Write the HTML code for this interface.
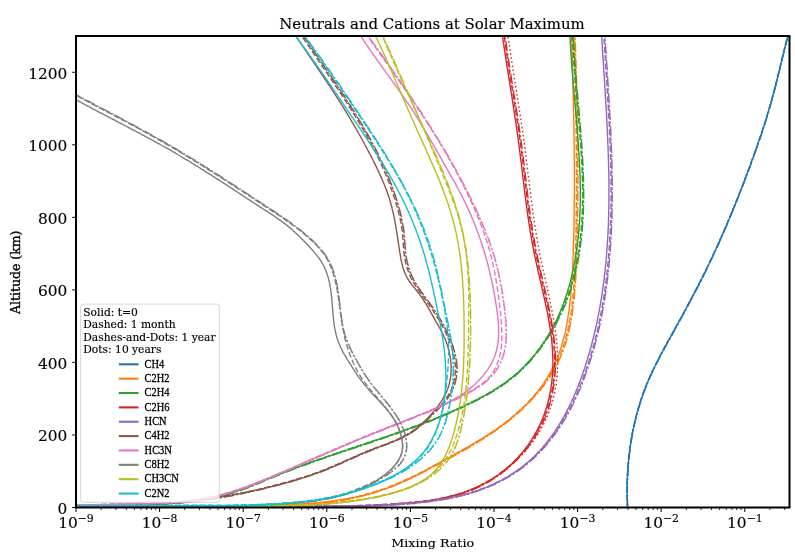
<!DOCTYPE html><html><head><meta charset="utf-8"><style>html,body{margin:0;padding:0;background:#fff;width:795px;height:552px;overflow:hidden}svg{display:block}text{font-family:"DejaVu Serif","Liberation Serif",serif;fill:#000;stroke:#000;stroke-width:0.15px}</style></head><body>
<svg width="795" height="552" viewBox="0 0 795 552">
<rect x="0" y="0" width="795" height="552" fill="#fff"/>
<defs><clipPath id="ax"><rect x="76.0" y="36.0" width="713.5" height="471.5"/></clipPath></defs>
<g clip-path="url(#ax)" fill="none" stroke-linejoin="round">
<path d="M627.6,509.0 627.5,507.0 627.4,505.0 627.3,503.0 627.3,501.0 627.2,499.0 627.2,497.0 627.2,494.9 627.1,492.9 627.1,490.9 627.1,488.9 627.2,486.9 627.2,484.9 627.2,482.9 627.3,480.9 627.4,478.9 627.5,476.8 627.5,474.8 627.7,472.8 627.8,470.8 627.9,468.8 628.0,466.8 628.2,464.8 628.4,462.8 628.6,460.8 628.8,458.7 629.0,456.7 629.2,454.7 629.4,452.7 629.7,450.7 629.9,448.7 630.2,446.7 630.5,444.8 630.8,442.8 631.1,440.8 631.4,438.8 631.8,436.8 632.2,434.8 632.5,432.9 632.9,430.9 633.3,428.9 633.7,426.9 634.2,425.0 634.6,423.0 635.1,421.1 635.5,419.1 636.0,417.2 636.5,415.2 637.0,413.3 637.6,411.3 638.1,409.4 638.7,407.5 639.3,405.6 639.8,403.6 640.5,401.7 641.1,399.8 641.7,397.9 642.4,396.0 643.0,394.1 643.7,392.2 644.4,390.4 645.1,388.5 645.9,386.6 646.6,384.8 647.4,382.9 648.1,381.1 648.9,379.2 649.7,377.4 650.6,375.6 651.4,373.7 652.2,371.9 653.1,370.1 654.0,368.3 654.9,366.5 655.7,364.7 656.6,362.9 657.6,361.1 658.5,359.3 659.4,357.5 660.3,355.7 661.3,353.9 662.2,352.2 663.2,350.4 664.1,348.6 665.1,346.8 666.1,345.1 667.0,343.3 668.0,341.5 669.0,339.8 670.0,338.0 670.9,336.3 671.9,334.5 672.9,332.7 673.9,331.0 674.8,329.2 675.8,327.4 676.8,325.7 677.8,323.9 678.7,322.2 679.7,320.4 680.7,318.6 681.6,316.9 682.6,315.1 683.6,313.3 684.5,311.6 685.5,309.8 686.4,308.0 687.4,306.3 688.3,304.5 689.3,302.7 690.2,300.9 691.2,299.2 692.1,297.4 693.0,295.6 694.0,293.8 694.9,292.1 695.8,290.3 696.8,288.5 697.7,286.7 698.6,284.9 699.5,283.1 700.4,281.4 701.3,279.6 702.2,277.8 703.1,276.0 704.0,274.2 704.9,272.4 705.8,270.6 706.7,268.8 707.6,267.0 708.4,265.2 709.3,263.3 710.2,261.5 711.0,259.7 711.9,257.9 712.7,256.1 713.6,254.3 714.4,252.4 715.3,250.6 716.1,248.8 716.9,247.0 717.8,245.1 718.6,243.3 719.4,241.5 720.2,239.6 721.1,237.8 721.9,235.9 722.7,234.1 723.5,232.3 724.3,230.4 725.1,228.6 725.9,226.7 726.7,224.9 727.5,223.0 728.2,221.2 729.0,219.3 729.8,217.4 730.6,215.6 731.4,213.7 732.1,211.9 732.9,210.0 733.6,208.1 734.4,206.3 735.2,204.4 735.9,202.5 736.7,200.7 737.4,198.8 738.2,196.9 738.9,195.1 739.6,193.2 740.4,191.3 741.1,189.4 741.8,187.6 742.6,185.7 743.3,183.8 744.0,181.9 744.7,180.1 745.4,178.2 746.1,176.3 746.8,174.4 747.6,172.5 748.3,170.6 749.0,168.8 749.7,166.9 750.4,165.0 751.1,163.1 751.7,161.2 752.4,159.3 753.1,157.4 753.8,155.6 754.5,153.7 755.2,151.8 755.8,149.9 756.5,148.0 757.2,146.1 757.9,144.2 758.5,142.3 759.2,140.4 759.8,138.5 760.5,136.6 761.1,134.7 761.8,132.8 762.4,130.9 763.0,129.0 763.6,127.1 764.3,125.2 764.9,123.3 765.5,121.4 766.1,119.4 766.6,117.5 767.2,115.6 767.8,113.7 768.4,111.8 768.9,109.8 769.5,107.9 770.0,106.0 770.6,104.0 771.1,102.1 771.7,100.2 772.2,98.2 772.7,96.3 773.2,94.3 773.8,92.4 774.3,90.5 774.8,88.5 775.3,86.6 775.8,84.6 776.3,82.7 776.8,80.7 777.3,78.8 777.7,76.8 778.2,74.8 778.7,72.9 779.2,70.9 779.7,69.0 780.1,67.0 780.6,65.1 781.1,63.1 781.6,61.1 782.0,59.2 782.5,57.2 783.0,55.3 783.5,53.3 784.0,51.4 784.4,49.4 784.9,47.5 785.4,45.5 785.9,43.6 786.4,41.6 786.9,39.7 787.4,37.7 787.9,35.8 788.4,33.8 788.9,31.9 789.4,29.9 789.9,28.0" stroke="#1f77b4" stroke-width="1.40"/>
<path d="M627.4,509.0 627.3,507.0 627.2,505.0 627.1,503.0 627.1,501.0 627.0,499.0 627.0,497.0 626.9,494.9 626.9,492.9 626.9,490.9 626.9,488.9 627.0,486.9 627.0,484.9 627.0,482.9 627.1,480.9 627.2,478.8 627.2,476.8 627.3,474.8 627.4,472.8 627.6,470.8 627.7,468.8 627.8,466.8 628.0,464.8 628.2,462.7 628.3,460.7 628.5,458.7 628.8,456.7 629.0,454.7 629.2,452.7 629.5,450.7 629.7,448.7 630.0,446.7 630.3,444.7 630.6,442.7 630.9,440.7 631.2,438.8 631.6,436.8 631.9,434.8 632.3,432.8 632.7,430.8 633.1,428.9 633.5,426.9 634.0,424.9 634.4,423.0 634.9,421.0 635.3,419.1 635.8,417.1 636.3,415.2 636.8,413.2 637.4,411.3 637.9,409.3 638.5,407.4 639.1,405.5 639.6,403.6 640.3,401.7 640.9,399.8 641.5,397.9 642.2,396.0 642.8,394.1 643.5,392.2 644.2,390.3 644.9,388.4 645.7,386.6 646.4,384.7 647.2,382.8 648.0,381.0 648.7,379.1 649.6,377.3 650.4,375.5 651.2,373.6 652.1,371.8 652.9,370.0 653.8,368.2 654.7,366.4 655.6,364.6 656.5,362.8 657.4,361.0 658.3,359.2 659.2,357.4 660.1,355.6 661.1,353.8 662.0,352.1 663.0,350.3 663.9,348.5 664.9,346.7 665.9,345.0 666.8,343.2 667.8,341.4 668.8,339.7 669.8,337.9 670.7,336.2 671.7,334.4 672.7,332.6 673.7,330.9 674.7,329.1 675.6,327.3 676.6,325.6 677.6,323.8 678.6,322.1 679.5,320.3 680.5,318.5 681.5,316.8 682.4,315.0 683.4,313.2 684.3,311.5 685.3,309.7 686.2,307.9 687.2,306.2 688.1,304.4 689.1,302.6 690.0,300.8 691.0,299.1 691.9,297.3 692.9,295.5 693.8,293.7 694.7,292.0 695.6,290.2 696.6,288.4 697.5,286.6 698.4,284.8 699.3,283.1 700.2,281.3 701.1,279.5 702.0,277.7 702.9,275.9 703.8,274.1 704.7,272.3 705.6,270.5 706.5,268.7 707.4,266.9 708.2,265.1 709.1,263.3 710.0,261.4 710.8,259.6 711.7,257.8 712.5,256.0 713.4,254.2 714.2,252.3 715.1,250.5 715.9,248.7 716.8,246.9 717.6,245.0 718.4,243.2 719.2,241.4 720.1,239.5 720.9,237.7 721.7,235.9 722.5,234.0 723.3,232.2 724.1,230.3 724.9,228.5 725.7,226.6 726.5,224.8 727.3,222.9 728.1,221.1 728.8,219.2 729.6,217.4 730.4,215.5 731.2,213.7 731.9,211.8 732.7,209.9 733.5,208.1 734.2,206.2 735.0,204.3 735.7,202.5 736.5,200.6 737.2,198.7 738.0,196.9 738.7,195.0 739.4,193.1 740.2,191.2 740.9,189.4 741.6,187.5 742.4,185.6 743.1,183.7 743.8,181.9 744.5,180.0 745.2,178.1 745.9,176.2 746.7,174.3 747.4,172.5 748.1,170.6 748.8,168.7 749.5,166.8 750.2,164.9 750.9,163.0 751.5,161.1 752.2,159.3 752.9,157.4 753.6,155.5 754.3,153.6 755.0,151.7 755.6,149.8 756.3,147.9 757.0,146.0 757.7,144.1 758.3,142.2 759.0,140.3 759.6,138.4 760.3,136.6 760.9,134.7 761.6,132.7 762.2,130.8 762.8,128.9 763.4,127.0 764.1,125.1 764.7,123.2 765.3,121.3 765.9,119.4 766.4,117.5 767.0,115.5 767.6,113.6 768.2,111.7 768.7,109.8 769.3,107.8 769.8,105.9 770.4,104.0 770.9,102.0 771.5,100.1 772.0,98.2 772.5,96.2 773.0,94.3 773.6,92.3 774.1,90.4 774.6,88.5 775.1,86.5 775.6,84.6 776.1,82.6 776.6,80.7 777.0,78.7 777.5,76.7 778.0,74.8 778.5,72.8 779.0,70.9 779.5,68.9 779.9,67.0 780.4,65.0 780.9,63.1 781.4,61.1 781.8,59.1 782.3,57.2 782.8,55.2 783.3,53.3 783.7,51.3 784.2,49.4 784.7,47.4 785.2,45.5 785.7,43.5 786.2,41.6 786.7,39.6 787.2,37.7 787.7,35.7 788.2,33.8 788.7,31.8 789.2,29.9 789.7,27.9" stroke="#1f77b4" stroke-width="1.40" stroke-dasharray="5.76,2.49"/>
<path d="M627.8,509.0 627.7,507.0 627.6,505.0 627.6,503.0 627.5,501.0 627.4,499.0 627.4,497.0 627.4,494.9 627.4,492.9 627.3,490.9 627.4,488.9 627.4,486.9 627.4,484.9 627.5,482.9 627.5,480.9 627.6,478.9 627.7,476.8 627.8,474.8 627.9,472.8 628.0,470.8 628.1,468.8 628.3,466.8 628.4,464.8 628.6,462.8 628.8,460.8 629.0,458.8 629.2,456.8 629.4,454.8 629.6,452.8 629.9,450.8 630.1,448.8 630.4,446.8 630.7,444.8 631.0,442.8 631.3,440.8 631.7,438.8 632.0,436.8 632.4,434.9 632.7,432.9 633.1,430.9 633.5,428.9 633.9,427.0 634.4,425.0 634.8,423.1 635.3,421.1 635.7,419.2 636.2,417.2 636.7,415.3 637.2,413.3 637.8,411.4 638.3,409.5 638.9,407.5 639.5,405.6 640.0,403.7 640.7,401.8 641.3,399.9 641.9,398.0 642.6,396.1 643.2,394.2 643.9,392.3 644.6,390.4 645.3,388.6 646.1,386.7 646.8,384.8 647.6,383.0 648.3,381.2 649.1,379.3 649.9,377.5 650.8,375.6 651.6,373.8 652.4,372.0 653.3,370.2 654.2,368.4 655.0,366.6 655.9,364.8 656.8,363.0 657.7,361.2 658.7,359.4 659.6,357.6 660.5,355.8 661.5,354.0 662.4,352.3 663.4,350.5 664.3,348.7 665.3,346.9 666.2,345.2 667.2,343.4 668.2,341.6 669.2,339.9 670.1,338.1 671.1,336.4 672.1,334.6 673.1,332.8 674.0,331.1 675.0,329.3 676.0,327.5 677.0,325.8 677.9,324.0 678.9,322.3 679.9,320.5 680.9,318.7 681.8,317.0 682.8,315.2 683.7,313.4 684.7,311.7 685.7,309.9 686.6,308.1 687.6,306.4 688.5,304.6 689.5,302.8 690.4,301.0 691.4,299.3 692.3,297.5 693.2,295.7 694.2,293.9 695.1,292.2 696.0,290.4 696.9,288.6 697.9,286.8 698.8,285.0 699.7,283.2 700.6,281.5 701.5,279.7 702.4,277.9 703.3,276.1 704.2,274.3 705.1,272.5 706.0,270.7 706.9,268.9 707.7,267.1 708.6,265.2 709.5,263.4 710.3,261.6 711.2,259.8 712.1,258.0 712.9,256.2 713.8,254.3 714.6,252.5 715.5,250.7 716.3,248.9 717.1,247.0 718.0,245.2 718.8,243.4 719.6,241.5 720.4,239.7 721.3,237.9 722.1,236.0 722.9,234.2 723.7,232.3 724.5,230.5 725.3,228.6 726.1,226.8 726.9,224.9 727.7,223.1 728.4,221.2 729.2,219.4 730.0,217.5 730.8,215.7 731.5,213.8 732.3,212.0 733.1,210.1 733.8,208.2 734.6,206.4 735.4,204.5 736.1,202.6 736.9,200.8 737.6,198.9 738.3,197.0 739.1,195.1 739.8,193.3 740.6,191.4 741.3,189.5 742.0,187.6 742.7,185.8 743.5,183.9 744.2,182.0 744.9,180.1 745.6,178.3 746.3,176.4 747.0,174.5 747.8,172.6 748.5,170.7 749.2,168.8 749.9,167.0 750.6,165.1 751.2,163.2 751.9,161.3 752.6,159.4 753.3,157.5 754.0,155.6 754.7,153.7 755.4,151.8 756.0,150.0 756.7,148.1 757.4,146.2 758.0,144.3 758.7,142.4 759.4,140.5 760.0,138.6 760.7,136.7 761.3,134.8 762.0,132.9 762.6,131.0 763.2,129.1 763.8,127.2 764.5,125.3 765.1,123.3 765.7,121.4 766.3,119.5 766.8,117.6 767.4,115.7 768.0,113.7 768.6,111.8 769.1,109.9 769.7,108.0 770.2,106.0 770.8,104.1 771.3,102.2 771.9,100.2 772.4,98.3 772.9,96.3 773.4,94.4 774.0,92.5 774.5,90.5 775.0,88.6 775.5,86.6 776.0,84.7 776.5,82.7 777.0,80.8 777.5,78.8 777.9,76.8 778.4,74.9 778.9,72.9 779.4,71.0 779.9,69.0 780.3,67.1 780.8,65.1 781.3,63.2 781.8,61.2 782.2,59.2 782.7,57.3 783.2,55.3 783.7,53.4 784.2,51.4 784.6,49.5 785.1,47.5 785.6,45.6 786.1,43.6 786.6,41.7 787.1,39.7 787.6,37.8 788.1,35.8 788.6,33.9 789.1,31.9 789.6,30.0 790.1,28.0" stroke="#1f77b4" stroke-width="1.40" stroke-dasharray="9.96,2.49,1.56,2.49"/>
<path d="M627.6,509.0 627.5,507.0 627.4,505.0 627.3,503.0 627.3,501.0 627.2,499.0 627.2,497.0 627.2,494.9 627.1,492.9 627.1,490.9 627.1,488.9 627.2,486.9 627.2,484.9 627.2,482.9 627.3,480.9 627.4,478.9 627.5,476.8 627.5,474.8 627.7,472.8 627.8,470.8 627.9,468.8 628.0,466.8 628.2,464.8 628.4,462.8 628.6,460.8 628.8,458.7 629.0,456.7 629.2,454.7 629.4,452.7 629.7,450.7 629.9,448.7 630.2,446.7 630.5,444.8 630.8,442.8 631.1,440.8 631.4,438.8 631.8,436.8 632.2,434.8 632.5,432.9 632.9,430.9 633.3,428.9 633.7,426.9 634.2,425.0 634.6,423.0 635.1,421.1 635.5,419.1 636.0,417.2 636.5,415.2 637.0,413.3 637.6,411.3 638.1,409.4 638.7,407.5 639.3,405.6 639.8,403.6 640.5,401.7 641.1,399.8 641.7,397.9 642.4,396.0 643.0,394.1 643.7,392.2 644.4,390.4 645.1,388.5 645.9,386.6 646.6,384.8 647.4,382.9 648.1,381.1 648.9,379.2 649.7,377.4 650.6,375.6 651.4,373.7 652.2,371.9 653.1,370.1 654.0,368.3 654.9,366.5 655.7,364.7 656.6,362.9 657.6,361.1 658.5,359.3 659.4,357.5 660.3,355.7 661.3,353.9 662.2,352.2 663.2,350.4 664.1,348.6 665.1,346.8 666.1,345.1 667.0,343.3 668.0,341.5 669.0,339.8 670.0,338.0 670.9,336.3 671.9,334.5 672.9,332.7 673.9,331.0 674.8,329.2 675.8,327.4 676.8,325.7 677.8,323.9 678.7,322.2 679.7,320.4 680.7,318.6 681.6,316.9 682.6,315.1 683.6,313.3 684.5,311.6 685.5,309.8 686.4,308.0 687.4,306.3 688.3,304.5 689.3,302.7 690.2,300.9 691.2,299.2 692.1,297.4 693.0,295.6 694.0,293.8 694.9,292.1 695.8,290.3 696.8,288.5 697.7,286.7 698.6,284.9 699.5,283.1 700.4,281.4 701.3,279.6 702.2,277.8 703.1,276.0 704.0,274.2 704.9,272.4 705.8,270.6 706.7,268.8 707.6,267.0 708.4,265.2 709.3,263.3 710.2,261.5 711.0,259.7 711.9,257.9 712.7,256.1 713.6,254.3 714.4,252.4 715.3,250.6 716.1,248.8 716.9,247.0 717.8,245.1 718.6,243.3 719.4,241.5 720.2,239.6 721.1,237.8 721.9,235.9 722.7,234.1 723.5,232.3 724.3,230.4 725.1,228.6 725.9,226.7 726.7,224.9 727.5,223.0 728.2,221.2 729.0,219.3 729.8,217.4 730.6,215.6 731.4,213.7 732.1,211.9 732.9,210.0 733.6,208.1 734.4,206.3 735.2,204.4 735.9,202.5 736.7,200.7 737.4,198.8 738.2,196.9 738.9,195.1 739.6,193.2 740.4,191.3 741.1,189.4 741.8,187.6 742.6,185.7 743.3,183.8 744.0,181.9 744.7,180.1 745.4,178.2 746.1,176.3 746.8,174.4 747.6,172.5 748.3,170.6 749.0,168.8 749.7,166.9 750.4,165.0 751.1,163.1 751.7,161.2 752.4,159.3 753.1,157.4 753.8,155.6 754.5,153.7 755.2,151.8 755.8,149.9 756.5,148.0 757.2,146.1 757.9,144.2 758.5,142.3 759.2,140.4 759.8,138.5 760.5,136.6 761.1,134.7 761.8,132.8 762.4,130.9 763.0,129.0 763.6,127.1 764.3,125.2 764.9,123.3 765.5,121.4 766.1,119.4 766.6,117.5 767.2,115.6 767.8,113.7 768.4,111.8 768.9,109.8 769.5,107.9 770.0,106.0 770.6,104.0 771.1,102.1 771.7,100.2 772.2,98.2 772.7,96.3 773.2,94.3 773.8,92.4 774.3,90.5 774.8,88.5 775.3,86.6 775.8,84.6 776.3,82.7 776.8,80.7 777.3,78.8 777.7,76.8 778.2,74.8 778.7,72.9 779.2,70.9 779.7,69.0 780.1,67.0 780.6,65.1 781.1,63.1 781.6,61.1 782.0,59.2 782.5,57.2 783.0,55.3 783.5,53.3 784.0,51.4 784.4,49.4 784.9,47.5 785.4,45.5 785.9,43.6 786.4,41.6 786.9,39.7 787.4,37.7 787.9,35.8 788.4,33.8 788.9,31.9 789.4,29.9 789.9,28.0" stroke="#1f77b4" stroke-width="1.40" stroke-dasharray="1.56,2.57"/>
<path d="M76.0,507.9 78.0,507.8 80.0,507.8 82.0,507.7 84.0,507.7 86.0,507.7 88.0,507.7 90.0,507.6 92.0,507.6 94.1,507.6 96.1,507.6 98.1,507.5 100.1,507.5 102.1,507.5 104.1,507.5 106.1,507.5 108.1,507.5 110.1,507.4 112.1,507.4 114.1,507.4 116.1,507.4 118.1,507.4 120.1,507.4 122.1,507.4 124.2,507.4 126.2,507.4 128.2,507.4 130.2,507.4 132.2,507.4 134.2,507.4 136.2,507.4 138.2,507.4 140.2,507.4 142.2,507.4 144.2,507.4 146.2,507.4 148.2,507.4 150.2,507.4 152.2,507.4 154.2,507.4 156.2,507.4 158.2,507.4 160.2,507.4 162.3,507.4 164.3,507.4 166.3,507.4 168.3,507.4 170.3,507.4 172.3,507.4 174.3,507.4 176.3,507.4 178.3,507.4 180.3,507.4 182.3,507.3 184.3,507.3 186.3,507.3 188.3,507.3 190.3,507.3 192.3,507.3 194.3,507.3 196.3,507.3 198.3,507.3 200.3,507.3 202.3,507.3 204.3,507.3 206.4,507.2 208.4,507.2 210.4,507.2 212.4,507.2 214.4,507.2 216.4,507.1 218.4,507.1 220.4,507.1 222.4,507.1 224.4,507.0 226.4,507.0 228.4,507.0 230.4,506.9 232.4,506.9 234.4,506.9 236.4,506.8 238.4,506.8 240.4,506.7 242.4,506.7 244.4,506.6 246.5,506.6 248.5,506.5 250.5,506.5 252.5,506.4 254.5,506.4 256.5,506.3 258.5,506.2 260.5,506.2 262.5,506.1 264.5,506.0 266.5,505.9 268.5,505.8 270.5,505.8 272.5,505.7 274.5,505.6 276.5,505.5 278.6,505.4 280.6,505.3 282.6,505.2 284.6,505.1 286.6,505.0 288.6,504.9 290.6,504.8 292.6,504.6 294.6,504.5 296.6,504.4 298.6,504.3 300.6,504.1 302.6,504.0 304.7,503.8 306.7,503.7 308.7,503.5 310.7,503.4 312.7,503.2 314.7,503.0 316.7,502.8 318.7,502.6 320.7,502.4 322.7,502.2 324.6,502.0 326.6,501.7 328.6,501.5 330.6,501.2 332.6,501.0 334.6,500.7 336.6,500.4 338.5,500.1 340.5,499.8 342.5,499.5 344.5,499.2 346.4,498.9 348.4,498.5 350.3,498.1 352.3,497.8 354.3,497.4 356.2,497.0 358.2,496.6 360.1,496.1 362.0,495.7 364.0,495.2 365.9,494.7 367.8,494.2 369.7,493.7 371.7,493.2 373.6,492.7 375.5,492.1 377.4,491.5 379.3,490.9 381.2,490.3 383.1,489.7 385.0,489.0 386.8,488.4 388.7,487.7 390.6,487.0 392.4,486.3 394.3,485.5 396.1,484.8 398.0,484.0 399.8,483.2 401.7,482.4 403.5,481.5 405.3,480.7 407.1,479.8 409.0,478.9 410.8,478.1 412.6,477.2 414.4,476.3 416.2,475.3 418.0,474.4 419.8,473.5 421.6,472.5 423.3,471.6 425.1,470.6 426.9,469.7 428.7,468.7 430.5,467.7 432.2,466.7 434.0,465.8 435.8,464.8 437.5,463.8 439.3,462.8 441.1,461.9 442.8,460.9 444.6,459.9 446.4,458.9 448.1,458.0 449.9,457.0 451.6,456.0 453.4,455.1 455.1,454.1 456.9,453.1 458.6,452.2 460.4,451.2 462.1,450.2 463.9,449.2 465.6,448.2 467.3,447.3 469.1,446.3 470.8,445.3 472.5,444.3 474.2,443.3 476.0,442.2 477.7,441.2 479.4,440.2 481.1,439.1 482.8,438.1 484.5,437.0 486.2,436.0 487.9,434.9 489.5,433.8 491.2,432.7 492.9,431.6 494.6,430.5 496.2,429.4 497.9,428.2 499.5,427.1 501.1,425.9 502.8,424.7 504.4,423.5 506.0,422.3 507.6,421.1 509.2,419.8 510.8,418.6 512.3,417.3 513.9,416.0 515.4,414.7 516.9,413.4 518.4,412.1 519.9,410.7 521.4,409.4 522.8,408.0 524.3,406.6 525.7,405.2 527.1,403.8 528.5,402.3 529.9,400.8 531.2,399.4 532.5,397.9 533.8,396.3 535.1,394.8 536.4,393.2 537.6,391.7 538.8,390.1 540.0,388.5 541.2,386.9 542.4,385.2 543.5,383.6 544.6,381.9 545.7,380.2 546.8,378.5 547.8,376.8 548.8,375.1 549.8,373.4 550.8,371.6 551.7,369.8 552.6,368.1 553.5,366.3 554.4,364.5 555.2,362.7 556.0,360.8 556.8,359.0 557.6,357.2 558.3,355.3 559.0,353.4 559.7,351.6 560.3,349.7 561.0,347.8 561.6,345.9 562.1,344.0 562.7,342.1 563.2,340.1 563.7,338.2 564.2,336.3 564.7,334.3 565.2,332.4 565.6,330.4 566.0,328.4 566.4,326.5 566.8,324.5 567.1,322.5 567.5,320.5 567.8,318.6 568.1,316.6 568.4,314.6 568.7,312.6 569.0,310.6 569.2,308.6 569.5,306.6 569.7,304.6 569.9,302.6 570.1,300.6 570.4,298.6 570.6,296.6 570.7,294.6 570.9,292.6 571.1,290.6 571.3,288.6 571.4,286.6 571.6,284.6 571.7,282.6 571.9,280.6 572.0,278.6 572.1,276.6 572.3,274.6 572.4,272.6 572.5,270.6 572.6,268.6 572.7,266.6 572.8,264.6 572.9,262.6 573.0,260.6 573.0,258.6 573.1,256.6 573.2,254.6 573.3,252.5 573.3,250.5 573.4,248.5 573.5,246.5 573.5,244.5 573.6,242.5 573.6,240.5 573.7,238.5 573.7,236.5 573.8,234.5 573.8,232.5 573.9,230.5 573.9,228.5 574.0,226.5 574.0,224.5 574.0,222.5 574.1,220.5 574.1,218.5 574.1,216.5 574.2,214.5 574.2,212.5 574.2,210.5 574.2,208.5 574.3,206.5 574.3,204.5 574.3,202.5 574.3,200.5 574.3,198.4 574.3,196.4 574.4,194.4 574.4,192.4 574.4,190.4 574.4,188.4 574.4,186.4 574.4,184.4 574.4,182.4 574.4,180.4 574.4,178.4 574.4,176.4 574.4,174.4 574.4,172.4 574.4,170.4 574.4,168.4 574.4,166.4 574.3,164.4 574.3,162.3 574.3,160.3 574.3,158.3 574.3,156.3 574.3,154.3 574.2,152.3 574.2,150.3 574.2,148.3 574.2,146.3 574.2,144.3 574.1,142.3 574.1,140.3 574.1,138.3 574.1,136.3 574.0,134.3 574.0,132.3 574.0,130.2 573.9,128.2 573.9,126.2 573.9,124.2 573.8,122.2 573.8,120.2 573.7,118.2 573.7,116.2 573.7,114.2 573.6,112.2 573.6,110.2 573.5,108.2 573.5,106.2 573.5,104.2 573.4,102.2 573.4,100.2 573.3,98.2 573.3,96.1 573.2,94.1 573.2,92.1 573.1,90.1 573.1,88.1 573.0,86.1 573.0,84.1 572.9,82.1 572.9,80.1 572.8,78.1 572.8,76.1 572.7,74.1 572.7,72.1 572.6,70.1 572.5,68.1 572.5,66.1 572.4,64.1 572.4,62.1 572.3,60.1 572.3,58.1 572.2,56.1 572.1,54.0 572.1,52.0 572.0,50.0 572.0,48.0 571.9,46.0 571.9,44.0 571.8,42.0 571.7,40.0 571.7,38.0 571.6,36.0 571.6,34.0 571.5,32.0 571.4,30.0 571.4,28.0" stroke="#ff7f0e" stroke-width="1.40"/>
<path d="M76.4,507.3 78.4,507.3 80.4,507.3 82.4,507.3 84.4,507.3 86.4,507.2 88.4,507.2 90.4,507.2 92.5,507.2 94.5,507.2 96.5,507.2 98.5,507.2 100.5,507.2 102.5,507.2 104.5,507.2 106.5,507.2 108.5,507.2 110.6,507.2 112.6,507.2 114.6,507.2 116.6,507.2 118.6,507.2 120.6,507.2 122.6,507.2 124.6,507.1 126.6,507.1 128.6,507.1 130.6,507.1 132.6,507.1 134.7,507.1 136.7,507.1 138.7,507.1 140.7,507.1 142.7,507.1 144.7,507.1 146.7,507.1 148.7,507.1 150.7,507.1 152.7,507.1 154.7,507.1 156.7,507.1 158.7,507.1 160.7,507.1 162.8,507.1 164.8,507.1 166.8,507.1 168.8,507.1 170.8,507.1 172.8,507.0 174.8,507.0 176.8,507.0 178.8,507.0 180.8,507.0 182.8,507.0 184.8,507.0 186.8,507.0 188.8,507.0 190.8,506.9 192.8,506.9 194.9,506.9 196.9,506.9 198.9,506.9 200.9,506.8 202.9,506.8 204.9,506.8 206.9,506.8 208.9,506.8 210.9,506.7 212.9,506.7 214.9,506.7 216.9,506.6 218.9,506.6 220.9,506.6 222.9,506.6 224.9,506.5 227.0,506.5 229.0,506.4 231.0,506.4 233.0,506.4 235.0,506.3 237.0,506.3 239.0,506.2 241.0,506.2 243.0,506.1 245.0,506.1 247.0,506.0 249.0,506.0 251.0,505.9 253.1,505.9 255.1,505.8 257.1,505.8 259.1,505.7 261.1,505.6 263.1,505.6 265.1,505.5 267.1,505.4 269.1,505.4 271.1,505.3 273.1,505.2 275.2,505.1 277.2,505.1 279.2,505.0 281.2,504.9 283.2,504.8 285.2,504.7 287.2,504.6 289.2,504.5 291.2,504.4 293.3,504.3 295.3,504.2 297.3,504.1 299.3,504.0 301.3,503.9 303.3,503.8 305.3,503.7 307.3,503.5 309.3,503.4 311.3,503.3 313.4,503.1 315.4,503.0 317.4,502.8 319.4,502.6 321.4,502.4 323.4,502.2 325.4,502.0 327.3,501.8 329.3,501.6 331.3,501.3 333.3,501.1 335.3,500.8 337.3,500.5 339.2,500.2 341.2,499.9 343.2,499.5 345.1,499.2 347.1,498.8 349.1,498.4 351.0,498.0 353.0,497.6 354.9,497.2 356.9,496.7 358.8,496.3 360.7,495.8 362.7,495.3 364.6,494.8 366.5,494.2 368.4,493.7 370.3,493.1 372.2,492.5 374.2,491.9 376.1,491.3 377.9,490.7 379.8,490.1 381.7,489.4 383.6,488.8 385.5,488.1 387.4,487.4 389.2,486.7 391.1,486.0 393.0,485.2 394.8,484.5 396.7,483.7 398.5,482.9 400.3,482.2 402.2,481.4 404.0,480.5 405.8,479.7 407.7,478.9 409.5,478.1 411.3,477.2 413.1,476.3 414.9,475.5 416.7,474.6 418.5,473.7 420.3,472.8 422.1,471.9 423.9,471.0 425.7,470.1 427.5,469.2 429.3,468.2 431.0,467.3 432.8,466.4 434.6,465.4 436.4,464.5 438.2,463.5 439.9,462.6 441.7,461.6 443.5,460.7 445.2,459.7 447.0,458.8 448.8,457.8 450.6,456.9 452.3,455.9 454.1,455.0 455.8,454.0 457.6,453.0 459.4,452.0 461.1,451.1 462.9,450.1 464.6,449.1 466.4,448.1 468.1,447.1 469.8,446.1 471.6,445.1 473.3,444.1 475.0,443.1 476.7,442.0 478.4,441.0 480.2,439.9 481.9,438.9 483.6,437.8 485.2,436.7 486.9,435.6 488.6,434.5 490.3,433.4 492.0,432.3 493.6,431.1 495.3,430.0 496.9,428.8 498.5,427.6 500.2,426.4 501.8,425.2 503.4,424.0 505.0,422.8 506.6,421.5 508.2,420.3 509.7,419.0 511.3,417.7 512.8,416.4 514.4,415.1 515.9,413.8 517.4,412.5 518.9,411.1 520.4,409.7 521.8,408.4 523.3,407.0 524.7,405.6 526.2,404.2 527.6,402.7 529.0,401.3 530.3,399.8 531.7,398.4 533.0,396.9 534.4,395.4 535.7,393.9 537.0,392.4 538.2,390.8 539.5,389.3 540.7,387.7 541.9,386.2 543.1,384.6 544.3,383.0 545.4,381.4 546.5,379.7 547.6,378.1 548.7,376.4 549.8,374.8 550.8,373.1 551.8,371.4 552.8,369.7 553.8,368.0 554.7,366.2 555.6,364.5 556.5,362.7 557.4,361.0 558.2,359.2 559.0,357.4 559.8,355.6 560.5,353.7 561.3,351.9 562.0,350.0 562.6,348.2 563.3,346.3 563.9,344.4 564.5,342.5 565.1,340.6 565.6,338.7 566.1,336.7 566.6,334.8 567.1,332.8 567.6,330.9 568.0,328.9 568.4,326.9 568.8,325.0 569.2,323.0 569.6,321.0 569.9,319.0 570.3,317.0 570.6,315.0 570.9,313.0 571.2,311.0 571.5,309.0 571.7,307.0 572.0,304.9 572.2,302.9 572.4,300.9 572.6,298.9 572.8,296.9 573.0,294.9 573.2,292.9 573.4,290.9 573.6,288.9 573.7,286.8 573.9,284.8 574.0,282.8 574.2,280.8 574.3,278.8 574.4,276.8 574.5,274.8 574.6,272.8 574.7,270.8 574.8,268.8 574.9,266.8 575.0,264.8 575.1,262.8 575.2,260.8 575.2,258.8 575.3,256.8 575.4,254.7 575.4,252.7 575.5,250.7 575.6,248.7 575.6,246.7 575.7,244.7 575.7,242.7 575.8,240.7 575.8,238.7 575.9,236.7 575.9,234.7 575.9,232.7 576.0,230.7 576.0,228.7 576.1,226.7 576.1,224.7 576.1,222.7 576.2,220.7 576.2,218.7 576.2,216.7 576.2,214.7 576.3,212.7 576.3,210.6 576.3,208.6 576.3,206.6 576.4,204.6 576.4,202.6 576.4,200.6 576.4,198.6 576.4,196.6 576.4,194.6 576.4,192.6 576.5,190.6 576.5,188.6 576.5,186.6 576.5,184.6 576.5,182.6 576.5,180.6 576.5,178.6 576.5,176.5 576.5,174.5 576.5,172.5 576.5,170.5 576.5,168.5 576.5,166.5 576.4,164.5 576.4,162.5 576.4,160.5 576.4,158.5 576.4,156.5 576.4,154.5 576.4,152.5 576.4,150.5 576.3,148.5 576.3,146.4 576.3,144.4 576.3,142.4 576.2,140.4 576.2,138.4 576.2,136.4 576.2,134.4 576.1,132.4 576.1,130.4 576.1,128.4 576.1,126.4 576.0,124.4 576.0,122.4 576.0,120.3 575.9,118.3 575.9,116.3 575.8,114.3 575.8,112.3 575.8,110.3 575.7,108.3 575.7,106.3 575.6,104.3 575.6,102.3 575.6,100.3 575.5,98.3 575.5,96.3 575.4,94.2 575.4,92.2 575.3,90.2 575.3,88.2 575.2,86.2 575.2,84.2 575.1,82.2 575.1,80.2 575.0,78.2 575.0,76.2 574.9,74.2 574.8,72.2 574.8,70.2 574.7,68.1 574.7,66.1 574.6,64.1 574.6,62.1 574.5,60.1 574.4,58.1 574.4,56.1 574.3,54.1 574.2,52.1 574.2,50.1 574.1,48.1 574.1,46.1 574.0,44.1 573.9,42.0 573.9,40.0 573.8,38.0 573.7,36.0 573.7,34.0 573.6,32.0 573.5,30.0 573.4,28.0" stroke="#ff7f0e" stroke-width="1.40" stroke-dasharray="5.76,2.49"/>
<path d="M76.5,508.0 78.5,508.0 80.5,508.0 82.5,508.0 84.5,508.0 86.5,507.9 88.5,507.9 90.6,507.9 92.6,507.9 94.6,507.9 96.6,507.9 98.6,507.9 100.6,507.9 102.6,507.9 104.6,507.9 106.6,507.9 108.7,507.9 110.7,507.9 112.7,507.9 114.7,507.9 116.7,507.9 118.7,507.9 120.7,507.9 122.7,507.8 124.7,507.8 126.7,507.8 128.8,507.8 130.8,507.8 132.8,507.8 134.8,507.8 136.8,507.8 138.8,507.8 140.8,507.8 142.8,507.8 144.8,507.8 146.8,507.8 148.8,507.8 150.8,507.8 152.9,507.8 154.9,507.8 156.9,507.8 158.9,507.8 160.9,507.8 162.9,507.8 164.9,507.8 166.9,507.8 168.9,507.8 170.9,507.8 172.9,507.7 174.9,507.7 176.9,507.7 178.9,507.7 181.0,507.7 183.0,507.7 185.0,507.7 187.0,507.7 189.0,507.7 191.0,507.6 193.0,507.6 195.0,507.6 197.0,507.6 199.0,507.6 201.0,507.5 203.0,507.5 205.0,507.5 207.1,507.5 209.1,507.5 211.1,507.4 213.1,507.4 215.1,507.4 217.1,507.3 219.1,507.3 221.1,507.3 223.1,507.3 225.1,507.2 227.1,507.2 229.1,507.1 231.1,507.1 233.2,507.1 235.2,507.0 237.2,507.0 239.2,506.9 241.2,506.9 243.2,506.8 245.2,506.8 247.2,506.7 249.2,506.7 251.2,506.6 253.2,506.6 255.3,506.5 257.3,506.5 259.3,506.4 261.3,506.3 263.3,506.3 265.3,506.2 267.3,506.1 269.3,506.1 271.3,506.0 273.3,505.9 275.4,505.8 277.4,505.8 279.4,505.7 281.4,505.6 283.4,505.5 285.4,505.4 287.4,505.3 289.4,505.2 291.5,505.1 293.5,505.0 295.5,504.9 297.5,504.8 299.5,504.7 301.5,504.6 303.5,504.5 305.6,504.4 307.6,504.2 309.6,504.1 311.6,504.0 313.6,503.8 315.6,503.6 317.6,503.5 319.6,503.3 321.6,503.1 323.6,502.9 325.6,502.7 327.6,502.5 329.6,502.3 331.6,502.0 333.6,501.7 335.6,501.5 337.6,501.2 339.6,500.9 341.5,500.6 343.5,500.2 345.5,499.9 347.4,499.5 349.4,499.1 351.4,498.7 353.3,498.3 355.3,497.8 357.2,497.4 359.2,496.9 361.1,496.4 363.0,495.9 365.0,495.4 366.9,494.9 368.8,494.3 370.7,493.7 372.7,493.2 374.6,492.6 376.5,492.0 378.4,491.3 380.3,490.7 382.2,490.0 384.1,489.4 385.9,488.7 387.8,488.0 389.7,487.3 391.6,486.6 393.4,485.8 395.3,485.1 397.1,484.3 399.0,483.5 400.8,482.8 402.7,482.0 404.5,481.1 406.3,480.3 408.2,479.5 410.0,478.6 411.8,477.8 413.6,476.9 415.4,476.0 417.2,475.2 419.1,474.3 420.9,473.4 422.7,472.5 424.4,471.6 426.2,470.6 428.0,469.7 429.8,468.8 431.6,467.9 433.4,466.9 435.2,466.0 436.9,465.0 438.7,464.1 440.5,463.1 442.3,462.2 444.0,461.2 445.8,460.3 447.6,459.3 449.3,458.4 451.1,457.4 452.9,456.5 454.6,455.5 456.4,454.5 458.2,453.6 459.9,452.6 461.7,451.6 463.4,450.6 465.2,449.6 466.9,448.6 468.7,447.6 470.4,446.6 472.1,445.6 473.9,444.6 475.6,443.6 477.3,442.5 479.0,441.5 480.7,440.4 482.4,439.4 484.1,438.3 485.8,437.2 487.5,436.1 489.2,435.0 490.9,433.9 492.6,432.7 494.2,431.6 495.9,430.4 497.5,429.3 499.2,428.1 500.8,426.9 502.4,425.7 504.1,424.5 505.7,423.2 507.3,422.0 508.9,420.7 510.4,419.5 512.0,418.2 513.6,416.9 515.1,415.6 516.6,414.2 518.1,412.9 519.6,411.6 521.1,410.2 522.6,408.8 524.1,407.4 525.5,406.0 527.0,404.6 528.4,403.2 529.8,401.7 531.2,400.3 532.5,398.8 533.9,397.3 535.2,395.8 536.6,394.3 537.9,392.8 539.1,391.3 540.4,389.7 541.6,388.2 542.9,386.6 544.1,385.0 545.2,383.4 546.4,381.8 547.5,380.1 548.7,378.5 549.8,376.8 550.8,375.2 551.9,373.5 552.9,371.8 553.9,370.1 554.9,368.4 555.8,366.6 556.7,364.9 557.6,363.1 558.5,361.3 559.4,359.5 560.2,357.7 561.0,355.9 561.7,354.1 562.5,352.2 563.2,350.4 563.9,348.5 564.5,346.6 565.2,344.7 565.8,342.8 566.3,340.9 566.9,338.9 567.4,337.0 567.9,335.1 568.4,333.1 568.9,331.1 569.3,329.2 569.8,327.2 570.2,325.2 570.6,323.2 570.9,321.2 571.3,319.2 571.6,317.2 572.0,315.2 572.3,313.2 572.6,311.2 572.8,309.2 573.1,307.2 573.3,305.1 573.6,303.1 573.8,301.1 574.0,299.1 574.2,297.1 574.4,295.1 574.6,293.0 574.8,291.0 575.0,289.0 575.1,287.0 575.3,285.0 575.4,283.0 575.6,281.0 575.7,279.0 575.8,277.0 575.9,274.9 576.0,272.9 576.1,270.9 576.2,268.9 576.3,266.9 576.4,264.9 576.5,262.9 576.6,260.9 576.7,258.9 576.7,256.9 576.8,254.9 576.9,252.9 576.9,250.9 577.0,248.8 577.0,246.8 577.1,244.8 577.1,242.8 577.2,240.8 577.2,238.8 577.3,236.8 577.3,234.8 577.3,232.8 577.4,230.8 577.4,228.8 577.5,226.8 577.5,224.8 577.5,222.8 577.6,220.8 577.6,218.7 577.6,216.7 577.6,214.7 577.7,212.7 577.7,210.7 577.7,208.7 577.7,206.7 577.8,204.7 577.8,202.7 577.8,200.7 577.8,198.7 577.8,196.7 577.8,194.7 577.8,192.7 577.8,190.7 577.9,188.6 577.9,186.6 577.9,184.6 577.9,182.6 577.9,180.6 577.9,178.6 577.9,176.6 577.9,174.6 577.9,172.6 577.9,170.6 577.9,168.6 577.9,166.6 577.8,164.6 577.8,162.5 577.8,160.5 577.8,158.5 577.8,156.5 577.8,154.5 577.8,152.5 577.7,150.5 577.7,148.5 577.7,146.5 577.7,144.5 577.7,142.5 577.6,140.5 577.6,138.4 577.6,136.4 577.6,134.4 577.5,132.4 577.5,130.4 577.5,128.4 577.5,126.4 577.4,124.4 577.4,122.4 577.4,120.4 577.3,118.4 577.3,116.4 577.2,114.3 577.2,112.3 577.2,110.3 577.1,108.3 577.1,106.3 577.0,104.3 577.0,102.3 577.0,100.3 576.9,98.3 576.9,96.3 576.8,94.3 576.8,92.3 576.7,90.2 576.7,88.2 576.6,86.2 576.6,84.2 576.5,82.2 576.5,80.2 576.4,78.2 576.4,76.2 576.3,74.2 576.3,72.2 576.2,70.2 576.1,68.1 576.1,66.1 576.0,64.1 576.0,62.1 575.9,60.1 575.8,58.1 575.8,56.1 575.7,54.1 575.6,52.1 575.6,50.1 575.5,48.1 575.5,46.0 575.4,44.0 575.3,42.0 575.3,40.0 575.2,38.0 575.1,36.0 575.1,34.0 575.0,32.0 574.9,30.0 574.8,28.0" stroke="#ff7f0e" stroke-width="1.40" stroke-dasharray="9.96,2.49,1.56,2.49"/>
<path d="M76.5,507.7 78.5,507.6 80.5,507.6 82.5,507.6 84.5,507.6 86.5,507.6 88.5,507.6 90.6,507.6 92.6,507.6 94.6,507.6 96.6,507.6 98.6,507.5 100.6,507.5 102.6,507.5 104.6,507.5 106.6,507.5 108.7,507.5 110.7,507.5 112.7,507.5 114.7,507.5 116.7,507.5 118.7,507.5 120.7,507.5 122.7,507.5 124.7,507.5 126.7,507.5 128.8,507.5 130.8,507.5 132.8,507.5 134.8,507.5 136.8,507.5 138.8,507.5 140.8,507.5 142.8,507.5 144.8,507.5 146.8,507.5 148.8,507.5 150.8,507.5 152.9,507.5 154.9,507.5 156.9,507.4 158.9,507.4 160.9,507.4 162.9,507.4 164.9,507.4 166.9,507.4 168.9,507.4 170.9,507.4 172.9,507.4 174.9,507.4 176.9,507.4 178.9,507.4 181.0,507.4 183.0,507.3 185.0,507.3 187.0,507.3 189.0,507.3 191.0,507.3 193.0,507.3 195.0,507.3 197.0,507.2 199.0,507.2 201.0,507.2 203.0,507.2 205.0,507.2 207.0,507.1 209.1,507.1 211.1,507.1 213.1,507.1 215.1,507.0 217.1,507.0 219.1,507.0 221.1,506.9 223.1,506.9 225.1,506.9 227.1,506.8 229.1,506.8 231.1,506.8 233.1,506.7 235.2,506.7 237.2,506.6 239.2,506.6 241.2,506.5 243.2,506.5 245.2,506.4 247.2,506.4 249.2,506.3 251.2,506.3 253.2,506.2 255.2,506.2 257.3,506.1 259.3,506.0 261.3,506.0 263.3,505.9 265.3,505.9 267.3,505.8 269.3,505.7 271.3,505.6 273.3,505.6 275.3,505.5 277.4,505.4 279.4,505.3 281.4,505.2 283.4,505.1 285.4,505.1 287.4,505.0 289.4,504.9 291.4,504.8 293.5,504.7 295.5,504.6 297.5,504.5 299.5,504.4 301.5,504.3 303.5,504.1 305.5,504.0 307.5,503.9 309.6,503.8 311.6,503.6 313.6,503.5 315.6,503.3 317.6,503.1 319.6,503.0 321.6,502.8 323.6,502.6 325.6,502.4 327.6,502.1 329.6,501.9 331.6,501.7 333.6,501.4 335.5,501.1 337.5,500.8 339.5,500.5 341.5,500.2 343.4,499.9 345.4,499.5 347.4,499.1 349.3,498.8 351.3,498.3 353.2,497.9 355.2,497.5 357.1,497.0 359.1,496.6 361.0,496.1 363.0,495.6 364.9,495.1 366.8,494.5 368.7,494.0 370.6,493.4 372.6,492.8 374.5,492.2 376.4,491.6 378.3,491.0 380.2,490.4 382.1,489.7 383.9,489.1 385.8,488.4 387.7,487.7 389.6,487.0 391.4,486.2 393.3,485.5 395.2,484.8 397.0,484.0 398.9,483.2 400.7,482.4 402.5,481.6 404.4,480.8 406.2,480.0 408.0,479.2 409.8,478.3 411.7,477.5 413.5,476.6 415.3,475.7 417.1,474.9 418.9,474.0 420.7,473.1 422.5,472.2 424.3,471.3 426.1,470.3 427.9,469.4 429.7,468.5 431.4,467.6 433.2,466.6 435.0,465.7 436.8,464.7 438.6,463.8 440.3,462.8 442.1,461.9 443.9,460.9 445.6,460.0 447.4,459.0 449.2,458.1 450.9,457.1 452.7,456.1 454.5,455.2 456.2,454.2 458.0,453.2 459.8,452.3 461.5,451.3 463.3,450.3 465.0,449.3 466.7,448.3 468.5,447.3 470.2,446.3 472.0,445.3 473.7,444.3 475.4,443.3 477.1,442.2 478.8,441.2 480.6,440.1 482.3,439.1 484.0,438.0 485.6,436.9 487.3,435.8 489.0,434.7 490.7,433.6 492.4,432.5 494.0,431.3 495.7,430.2 497.3,429.0 499.0,427.8 500.6,426.6 502.2,425.4 503.8,424.2 505.5,423.0 507.0,421.7 508.6,420.5 510.2,419.2 511.8,417.9 513.3,416.6 514.9,415.3 516.4,414.0 517.9,412.6 519.4,411.3 520.9,409.9 522.4,408.6 523.8,407.2 525.3,405.8 526.7,404.4 528.1,402.9 529.5,401.5 530.9,400.0 532.3,398.6 533.6,397.1 535.0,395.6 536.3,394.1 537.6,392.6 538.9,391.0 540.1,389.5 541.4,387.9 542.6,386.4 543.8,384.8 545.0,383.2 546.1,381.6 547.3,379.9 548.4,378.3 549.5,376.6 550.5,375.0 551.6,373.3 552.6,371.6 553.6,369.9 554.6,368.2 555.5,366.4 556.4,364.7 557.3,362.9 558.2,361.2 559.0,359.4 559.9,357.6 560.7,355.8 561.4,353.9 562.2,352.1 562.9,350.2 563.5,348.4 564.2,346.5 564.8,344.6 565.4,342.7 566.0,340.8 566.6,338.9 567.1,336.9 567.6,335.0 568.1,333.0 568.6,331.1 569.0,329.1 569.4,327.1 569.8,325.1 570.2,323.2 570.6,321.2 571.0,319.2 571.3,317.2 571.6,315.2 571.9,313.2 572.2,311.1 572.5,309.1 572.8,307.1 573.0,305.1 573.2,303.1 573.5,301.1 573.7,299.1 573.9,297.0 574.1,295.0 574.3,293.0 574.5,291.0 574.6,289.0 574.8,287.0 574.9,285.0 575.1,283.0 575.2,280.9 575.4,278.9 575.5,276.9 575.6,274.9 575.7,272.9 575.8,270.9 575.9,268.9 576.0,266.9 576.1,264.9 576.2,262.9 576.2,260.9 576.3,258.9 576.4,256.9 576.4,254.9 576.5,252.8 576.6,250.8 576.6,248.8 576.7,246.8 576.7,244.8 576.8,242.8 576.8,240.8 576.9,238.8 576.9,236.8 577.0,234.8 577.0,232.8 577.0,230.8 577.1,228.8 577.1,226.8 577.1,224.8 577.2,222.8 577.2,220.8 577.2,218.7 577.3,216.7 577.3,214.7 577.3,212.7 577.3,210.7 577.4,208.7 577.4,206.7 577.4,204.7 577.4,202.7 577.4,200.7 577.5,198.7 577.5,196.7 577.5,194.7 577.5,192.7 577.5,190.6 577.5,188.6 577.5,186.6 577.5,184.6 577.5,182.6 577.5,180.6 577.5,178.6 577.5,176.6 577.5,174.6 577.5,172.6 577.5,170.6 577.5,168.6 577.5,166.6 577.5,164.6 577.5,162.5 577.5,160.5 577.5,158.5 577.4,156.5 577.4,154.5 577.4,152.5 577.4,150.5 577.4,148.5 577.4,146.5 577.3,144.5 577.3,142.5 577.3,140.5 577.3,138.5 577.2,136.4 577.2,134.4 577.2,132.4 577.2,130.4 577.1,128.4 577.1,126.4 577.1,124.4 577.0,122.4 577.0,120.4 577.0,118.4 576.9,116.4 576.9,114.4 576.9,112.3 576.8,110.3 576.8,108.3 576.7,106.3 576.7,104.3 576.7,102.3 576.6,100.3 576.6,98.3 576.5,96.3 576.5,94.3 576.4,92.3 576.4,90.3 576.3,88.2 576.3,86.2 576.2,84.2 576.2,82.2 576.1,80.2 576.1,78.2 576.0,76.2 576.0,74.2 575.9,72.2 575.8,70.2 575.8,68.2 575.7,66.1 575.7,64.1 575.6,62.1 575.5,60.1 575.5,58.1 575.4,56.1 575.4,54.1 575.3,52.1 575.2,50.1 575.2,48.1 575.1,46.1 575.0,44.0 575.0,42.0 574.9,40.0 574.8,38.0 574.8,36.0 574.7,34.0 574.6,32.0 574.6,30.0 574.5,28.0" stroke="#ff7f0e" stroke-width="1.40" stroke-dasharray="1.56,2.57"/>
<path d="M76.1,505.7 78.1,505.6 80.1,505.5 82.1,505.4 84.0,505.3 86.0,505.2 88.0,505.2 90.0,505.1 92.0,505.0 94.0,505.0 96.0,504.9 98.0,504.8 100.0,504.8 102.0,504.8 104.0,504.7 106.0,504.7 108.0,504.6 110.0,504.6 112.0,504.6 114.0,504.6 116.0,504.5 118.0,504.5 120.1,504.5 122.1,504.5 124.1,504.5 126.1,504.4 128.1,504.4 130.1,504.4 132.1,504.4 134.1,504.3 136.1,504.3 138.1,504.3 140.1,504.2 142.2,504.2 144.2,504.2 146.2,504.1 148.2,504.1 150.2,504.0 152.2,503.9 154.2,503.9 156.2,503.8 158.2,503.7 160.2,503.6 162.2,503.6 164.2,503.5 166.3,503.4 168.3,503.2 170.3,503.1 172.3,503.0 174.3,502.8 176.3,502.7 178.3,502.5 180.3,502.4 182.3,502.2 184.3,502.0 186.3,501.8 188.3,501.6 190.3,501.4 192.3,501.1 194.3,500.9 196.3,500.6 198.2,500.3 200.2,500.0 202.2,499.7 204.2,499.4 206.2,499.0 208.1,498.7 210.1,498.3 212.0,497.9 214.0,497.5 215.9,497.1 217.9,496.6 219.8,496.1 221.8,495.7 223.7,495.1 225.6,494.6 227.5,494.1 229.4,493.5 231.3,492.9 233.2,492.3 235.1,491.7 237.0,491.1 238.9,490.4 240.8,489.7 242.7,489.0 244.6,488.4 246.4,487.6 248.3,486.9 250.2,486.2 252.0,485.5 253.9,484.7 255.7,484.0 257.6,483.2 259.4,482.5 261.3,481.7 263.2,480.9 265.0,480.2 266.9,479.4 268.7,478.6 270.6,477.9 272.4,477.1 274.3,476.3 276.1,475.6 278.0,474.8 279.9,474.1 281.7,473.3 283.6,472.6 285.5,471.8 287.3,471.1 289.2,470.4 291.1,469.7 293.0,469.0 294.8,468.2 296.7,467.5 298.6,466.8 300.5,466.1 302.4,465.4 304.3,464.8 306.1,464.1 308.0,463.4 309.9,462.7 311.8,462.0 313.7,461.4 315.6,460.7 317.5,460.0 319.4,459.4 321.3,458.7 323.2,458.0 325.1,457.4 327.0,456.7 328.9,456.1 330.8,455.4 332.7,454.8 334.6,454.1 336.5,453.5 338.4,452.9 340.3,452.2 342.2,451.6 344.1,450.9 346.0,450.3 347.9,449.7 349.8,449.0 351.7,448.4 353.6,447.8 355.5,447.1 357.4,446.5 359.3,445.8 361.2,445.2 363.1,444.6 365.0,443.9 366.9,443.3 368.8,442.7 370.7,442.0 372.6,441.4 374.5,440.7 376.4,440.1 378.3,439.5 380.2,438.8 382.1,438.2 384.0,437.5 385.9,436.9 387.8,436.2 389.7,435.6 391.6,434.9 393.5,434.2 395.4,433.6 397.2,432.9 399.1,432.2 401.0,431.6 402.9,430.9 404.8,430.2 406.7,429.5 408.6,428.9 410.4,428.2 412.3,427.5 414.2,426.8 416.1,426.1 417.9,425.4 419.8,424.7 421.7,423.9 423.6,423.2 425.4,422.5 427.3,421.8 429.1,421.0 431.0,420.3 432.9,419.6 434.7,418.8 436.6,418.1 438.4,417.3 440.3,416.5 442.1,415.8 444.0,415.0 445.8,414.2 447.6,413.4 449.5,412.6 451.3,411.8 453.1,411.0 455.0,410.2 456.8,409.4 458.6,408.5 460.4,407.7 462.2,406.8 464.1,406.0 465.9,405.1 467.7,404.2 469.5,403.4 471.3,402.5 473.1,401.6 474.9,400.7 476.7,399.8 478.4,398.8 480.2,397.9 482.0,397.0 483.8,396.0 485.5,395.0 487.3,394.1 489.0,393.1 490.7,392.0 492.5,391.0 494.2,390.0 495.9,388.9 497.6,387.9 499.2,386.8 500.9,385.7 502.6,384.5 504.2,383.4 505.8,382.2 507.4,381.0 509.0,379.8 510.6,378.6 512.2,377.4 513.7,376.1 515.2,374.8 516.8,373.5 518.3,372.2 519.7,370.8 521.2,369.5 522.6,368.1 524.1,366.7 525.5,365.2 526.9,363.8 528.2,362.3 529.6,360.8 530.9,359.3 532.2,357.8 533.5,356.3 534.8,354.7 536.0,353.1 537.3,351.5 538.5,349.9 539.7,348.3 540.9,346.7 542.0,345.1 543.2,343.4 544.3,341.7 545.4,340.1 546.4,338.4 547.5,336.7 548.5,335.0 549.5,333.2 550.5,331.5 551.5,329.8 552.5,328.0 553.4,326.3 554.3,324.5 555.2,322.7 556.1,320.9 556.9,319.1 557.8,317.3 558.6,315.5 559.4,313.6 560.2,311.8 560.9,310.0 561.7,308.1 562.4,306.3 563.1,304.4 563.8,302.5 564.5,300.6 565.2,298.7 565.8,296.8 566.4,294.9 567.0,293.0 567.6,291.1 568.2,289.2 568.8,287.3 569.3,285.4 569.8,283.4 570.4,281.5 570.9,279.5 571.3,277.6 571.8,275.6 572.3,273.7 572.7,271.7 573.1,269.7 573.5,267.8 573.9,265.8 574.3,263.8 574.7,261.9 575.0,259.9 575.4,257.9 575.7,255.9 576.0,253.9 576.3,251.9 576.6,249.9 576.9,247.9 577.2,246.0 577.4,244.0 577.7,242.0 577.9,240.0 578.1,238.0 578.3,236.0 578.5,234.0 578.7,232.0 578.9,230.0 579.0,228.0 579.2,226.0 579.3,224.0 579.5,222.0 579.6,220.0 579.7,218.0 579.8,216.0 579.9,214.0 580.0,212.0 580.0,210.0 580.1,208.0 580.2,206.0 580.2,204.0 580.2,202.0 580.3,200.0 580.3,198.0 580.3,196.0 580.3,194.0 580.3,192.0 580.3,190.0 580.3,188.0 580.2,186.0 580.2,184.0 580.2,182.0 580.1,180.0 580.1,178.0 580.0,176.0 579.9,174.0 579.9,172.0 579.8,170.0 579.7,168.0 579.6,166.0 579.5,164.0 579.4,162.0 579.3,160.0 579.2,158.0 579.1,156.0 579.0,154.0 578.9,152.0 578.7,150.0 578.6,148.0 578.5,146.0 578.3,144.0 578.2,142.0 578.0,140.0 577.9,138.0 577.7,136.0 577.6,134.0 577.4,132.0 577.3,130.0 577.1,128.0 576.9,126.0 576.8,124.0 576.6,122.0 576.4,120.0 576.3,118.0 576.1,116.0 575.9,114.0 575.7,112.0 575.6,110.0 575.4,108.0 575.2,106.0 575.0,104.0 574.9,102.0 574.7,100.0 574.5,98.0 574.3,96.0 574.1,94.0 574.0,92.0 573.8,90.0 573.6,88.0 573.4,86.0 573.3,84.0 573.1,82.0 572.9,80.0 572.8,78.0 572.6,76.0 572.4,74.0 572.3,72.0 572.1,70.0 572.0,68.0 571.8,66.0 571.7,64.0 571.5,62.0 571.4,60.0 571.3,58.0 571.1,56.0 571.0,54.0 570.9,52.0 570.7,50.0 570.6,48.0 570.5,46.0 570.4,44.0 570.3,42.0 570.2,40.0 570.1,38.0 570.0,36.1 569.9,34.1 569.9,32.1 569.8,30.1 569.7,28.1" stroke="#2ca02c" stroke-width="1.40"/>
<path d="M76.4,505.3 78.4,505.2 80.4,505.1 82.4,505.0 84.4,505.0 86.4,504.9 88.4,504.8 90.4,504.8 92.4,504.7 94.4,504.6 96.4,504.6 98.5,504.5 100.5,504.5 102.5,504.5 104.5,504.4 106.5,504.4 108.5,504.4 110.5,504.3 112.5,504.3 114.5,504.3 116.5,504.2 118.5,504.2 120.5,504.2 122.5,504.2 124.5,504.1 126.5,504.1 128.5,504.1 130.6,504.0 132.6,504.0 134.6,504.0 136.6,503.9 138.6,503.9 140.6,503.9 142.6,503.8 144.6,503.8 146.6,503.7 148.6,503.7 150.6,503.6 152.6,503.5 154.6,503.5 156.7,503.4 158.7,503.3 160.7,503.2 162.7,503.1 164.7,503.0 166.7,502.9 168.7,502.8 170.7,502.7 172.7,502.5 174.7,502.4 176.7,502.3 178.7,502.1 180.7,501.9 182.7,501.8 184.7,501.6 186.7,501.4 188.7,501.2 190.7,500.9 192.7,500.7 194.7,500.4 196.7,500.2 198.7,499.9 200.7,499.6 202.7,499.3 204.6,499.0 206.6,498.7 208.6,498.3 210.5,497.9 212.5,497.6 214.5,497.2 216.4,496.7 218.4,496.3 220.3,495.8 222.2,495.3 224.2,494.8 226.1,494.3 228.0,493.8 229.9,493.2 231.8,492.6 233.7,492.0 235.6,491.4 237.5,490.8 239.4,490.1 241.3,489.4 243.1,488.8 245.0,488.1 246.9,487.3 248.8,486.6 250.6,485.9 252.5,485.2 254.3,484.4 256.2,483.7 258.1,482.9 259.9,482.1 261.8,481.4 263.6,480.6 265.5,479.8 267.3,479.0 269.2,478.3 271.0,477.5 272.9,476.7 274.8,476.0 276.6,475.2 278.5,474.4 280.3,473.7 282.2,472.9 284.1,472.2 285.9,471.4 287.8,470.7 289.7,470.0 291.6,469.3 293.4,468.5 295.3,467.8 297.2,467.1 299.1,466.4 301.0,465.7 302.9,465.0 304.7,464.3 306.6,463.6 308.5,463.0 310.4,462.3 312.3,461.6 314.2,460.9 316.1,460.3 318.0,459.6 319.9,458.9 321.8,458.3 323.7,457.6 325.6,456.9 327.5,456.3 329.4,455.6 331.3,455.0 333.2,454.3 335.1,453.7 337.0,453.0 338.9,452.4 340.8,451.8 342.7,451.1 344.6,450.5 346.5,449.8 348.4,449.2 350.3,448.6 352.2,447.9 354.1,447.3 356.0,446.7 357.9,446.0 359.8,445.4 361.7,444.7 363.6,444.1 365.5,443.5 367.4,442.8 369.3,442.2 371.2,441.6 373.1,440.9 375.0,440.3 377.0,439.6 378.9,439.0 380.8,438.4 382.6,437.7 384.5,437.1 386.4,436.4 388.3,435.8 390.2,435.1 392.1,434.4 394.0,433.8 395.9,433.1 397.8,432.5 399.7,431.8 401.6,431.1 403.5,430.4 405.4,429.8 407.2,429.1 409.1,428.4 411.0,427.7 412.9,427.0 414.8,426.3 416.6,425.6 418.5,424.9 420.4,424.2 422.3,423.5 424.1,422.8 426.0,422.1 427.9,421.3 429.7,420.6 431.6,419.9 433.5,419.1 435.3,418.4 437.2,417.6 439.0,416.9 440.9,416.1 442.7,415.3 444.6,414.5 446.4,413.8 448.2,413.0 450.1,412.2 451.9,411.4 453.8,410.5 455.6,409.7 457.4,408.9 459.2,408.1 461.1,407.2 462.9,406.4 464.7,405.5 466.5,404.7 468.3,403.8 470.1,402.9 471.9,402.0 473.7,401.1 475.5,400.2 477.3,399.3 479.1,398.4 480.9,397.4 482.6,396.5 484.4,395.5 486.2,394.6 487.9,393.6 489.6,392.6 491.4,391.6 493.1,390.5 494.8,389.5 496.5,388.4 498.2,387.4 499.9,386.3 501.5,385.1 503.2,384.0 504.8,382.9 506.4,381.7 508.0,380.5 509.6,379.3 511.2,378.1 512.7,376.8 514.2,375.6 515.8,374.3 517.2,373.0 518.7,371.6 520.2,370.3 521.6,368.9 523.0,367.5 524.4,366.1 525.8,364.7 527.2,363.2 528.5,361.7 529.9,360.2 531.2,358.7 532.5,357.2 533.8,355.7 535.0,354.1 536.3,352.5 537.5,351.0 538.7,349.4 539.9,347.8 541.1,346.1 542.3,344.5 543.4,342.8 544.5,341.2 545.6,339.5 546.7,337.8 547.8,336.1 548.9,334.4 549.9,332.7 551.0,331.0 552.0,329.3 553.0,327.5 553.9,325.8 554.9,324.0 555.9,322.2 556.8,320.5 557.7,318.7 558.6,316.9 559.5,315.1 560.3,313.3 561.2,311.5 562.0,309.6 562.8,307.8 563.6,306.0 564.3,304.1 565.1,302.3 565.8,300.4 566.5,298.5 567.2,296.6 567.9,294.8 568.6,292.9 569.2,291.0 569.8,289.1 570.4,287.2 571.0,285.3 571.6,283.3 572.1,281.4 572.7,279.5 573.2,277.5 573.7,275.6 574.2,273.7 574.6,271.7 575.1,269.8 575.5,267.8 575.9,265.8 576.3,263.9 576.7,261.9 577.1,259.9 577.5,258.0 577.8,256.0 578.1,254.0 578.4,252.0 578.7,250.1 579.0,248.1 579.3,246.1 579.6,244.1 579.8,242.1 580.1,240.1 580.3,238.1 580.5,236.1 580.7,234.2 580.9,232.2 581.1,230.2 581.2,228.2 581.4,226.2 581.5,224.2 581.7,222.2 581.8,220.2 581.9,218.2 582.0,216.2 582.1,214.2 582.2,212.2 582.3,210.2 582.4,208.2 582.4,206.2 582.5,204.2 582.5,202.2 582.5,200.2 582.6,198.2 582.6,196.2 582.6,194.2 582.6,192.2 582.6,190.2 582.6,188.2 582.5,186.2 582.5,184.2 582.5,182.2 582.4,180.2 582.4,178.2 582.3,176.2 582.2,174.2 582.2,172.2 582.1,170.2 582.0,168.2 581.9,166.2 581.8,164.2 581.7,162.2 581.6,160.2 581.5,158.2 581.4,156.2 581.3,154.2 581.1,152.2 581.0,150.2 580.9,148.2 580.7,146.2 580.6,144.1 580.5,142.1 580.3,140.1 580.2,138.1 580.0,136.1 579.8,134.1 579.7,132.1 579.5,130.1 579.4,128.1 579.2,126.1 579.0,124.1 578.9,122.1 578.7,120.1 578.5,118.1 578.3,116.1 578.2,114.1 578.0,112.1 577.8,110.1 577.6,108.1 577.5,106.1 577.3,104.1 577.1,102.0 576.9,100.0 576.7,98.0 576.6,96.0 576.4,94.0 576.2,92.0 576.0,90.0 575.9,88.0 575.7,86.0 575.5,84.0 575.3,82.0 575.2,80.0 575.0,78.0 574.8,76.0 574.7,74.0 574.5,72.0 574.4,70.0 574.2,68.0 574.1,66.0 573.9,64.0 573.8,62.0 573.6,60.0 573.5,58.0 573.4,56.0 573.2,54.0 573.1,52.1 573.0,50.1 572.9,48.1 572.8,46.1 572.7,44.1 572.6,42.1 572.5,40.1 572.4,38.1 572.3,36.1 572.2,34.1 572.1,32.1 572.1,30.1 572.0,28.2" stroke="#2ca02c" stroke-width="1.40" stroke-dasharray="5.76,2.49"/>
<path d="M76.6,506.0 78.6,505.9 80.6,505.8 82.6,505.7 84.6,505.7 86.6,505.6 88.6,505.5 90.6,505.5 92.6,505.4 94.6,505.3 96.6,505.3 98.6,505.2 100.6,505.2 102.6,505.2 104.6,505.1 106.6,505.1 108.6,505.0 110.6,505.0 112.6,505.0 114.6,505.0 116.6,504.9 118.6,504.9 120.6,504.9 122.6,504.9 124.6,504.8 126.7,504.8 128.7,504.8 130.7,504.7 132.7,504.7 134.7,504.7 136.7,504.6 138.7,504.6 140.7,504.6 142.7,504.5 144.7,504.5 146.7,504.4 148.8,504.4 150.8,504.3 152.8,504.2 154.8,504.2 156.8,504.1 158.8,504.0 160.8,503.9 162.8,503.8 164.8,503.7 166.8,503.6 168.9,503.5 170.9,503.4 172.9,503.3 174.9,503.1 176.9,503.0 178.9,502.8 180.9,502.6 182.9,502.5 184.9,502.3 186.9,502.1 188.9,501.9 190.9,501.6 192.9,501.4 194.9,501.2 196.9,500.9 198.9,500.6 200.9,500.3 202.9,500.0 204.9,499.7 206.8,499.4 208.8,499.0 210.8,498.6 212.8,498.2 214.7,497.8 216.7,497.4 218.6,497.0 220.6,496.5 222.5,496.0 224.5,495.5 226.4,495.0 228.3,494.4 230.2,493.9 232.1,493.3 234.1,492.7 236.0,492.0 237.8,491.4 239.7,490.7 241.6,490.1 243.5,489.4 245.4,488.7 247.3,488.0 249.1,487.3 251.0,486.5 252.9,485.8 254.7,485.0 256.6,484.3 258.4,483.5 260.3,482.8 262.2,482.0 264.0,481.2 265.9,480.4 267.7,479.7 269.6,478.9 271.4,478.1 273.3,477.4 275.1,476.6 277.0,475.8 278.9,475.1 280.7,474.3 282.6,473.6 284.5,472.8 286.3,472.1 288.2,471.3 290.1,470.6 291.9,469.9 293.8,469.2 295.7,468.5 297.6,467.8 299.5,467.1 301.3,466.4 303.2,465.7 305.1,465.0 307.0,464.3 308.9,463.6 310.8,462.9 312.7,462.2 314.6,461.6 316.5,460.9 318.3,460.2 320.2,459.6 322.1,458.9 324.0,458.3 325.9,457.6 327.8,456.9 329.7,456.3 331.6,455.6 333.5,455.0 335.4,454.3 337.3,453.7 339.2,453.1 341.1,452.4 343.1,451.8 345.0,451.1 346.9,450.5 348.8,449.9 350.7,449.2 352.6,448.6 354.5,448.0 356.4,447.3 358.3,446.7 360.2,446.0 362.1,445.4 364.0,444.8 365.9,444.1 367.8,443.5 369.7,442.9 371.6,442.2 373.5,441.6 375.4,440.9 377.3,440.3 379.2,439.7 381.1,439.0 383.0,438.4 384.9,437.7 386.8,437.1 388.7,436.4 390.6,435.8 392.5,435.1 394.4,434.4 396.3,433.8 398.2,433.1 400.1,432.4 402.0,431.8 403.9,431.1 405.8,430.4 407.6,429.7 409.5,429.1 411.4,428.4 413.3,427.7 415.2,427.0 417.1,426.3 418.9,425.6 420.8,424.9 422.7,424.1 424.6,423.4 426.4,422.7 428.3,422.0 430.2,421.2 432.0,420.5 433.9,419.7 435.7,419.0 437.6,418.2 439.4,417.5 441.3,416.7 443.2,415.9 445.0,415.2 446.8,414.4 448.7,413.6 450.5,412.8 452.4,412.0 454.2,411.2 456.0,410.3 457.9,409.5 459.7,408.7 461.5,407.8 463.3,407.0 465.1,406.1 467.0,405.2 468.8,404.4 470.6,403.5 472.4,402.6 474.2,401.7 476.0,400.8 477.8,399.9 479.6,398.9 481.3,398.0 483.1,397.0 484.9,396.1 486.6,395.1 488.4,394.1 490.1,393.1 491.9,392.1 493.6,391.1 495.3,390.0 497.0,389.0 498.7,387.9 500.4,386.8 502.0,385.7 503.7,384.5 505.3,383.4 507.0,382.2 508.6,381.0 510.2,379.8 511.7,378.6 513.3,377.3 514.8,376.1 516.4,374.8 517.9,373.4 519.3,372.1 520.8,370.7 522.3,369.4 523.7,367.9 525.1,366.5 526.5,365.1 527.9,363.6 529.2,362.2 530.6,360.7 531.9,359.2 533.2,357.6 534.5,356.1 535.8,354.5 537.0,352.9 538.3,351.4 539.5,349.8 540.7,348.1 541.9,346.5 543.0,344.9 544.2,343.2 545.3,341.6 546.4,339.9 547.6,338.2 548.6,336.5 549.7,334.8 550.8,333.1 551.8,331.4 552.8,329.6 553.8,327.9 554.8,326.1 555.8,324.4 556.7,322.6 557.7,320.8 558.6,319.0 559.5,317.2 560.4,315.4 561.3,313.6 562.1,311.8 562.9,309.9 563.7,308.1 564.5,306.3 565.3,304.4 566.1,302.5 566.8,300.7 567.5,298.8 568.2,296.9 568.9,295.0 569.6,293.1 570.2,291.2 570.9,289.3 571.5,287.4 572.1,285.5 572.6,283.6 573.2,281.6 573.7,279.7 574.2,277.8 574.7,275.8 575.2,273.9 575.7,271.9 576.1,269.9 576.6,268.0 577.0,266.0 577.4,264.1 577.8,262.1 578.2,260.1 578.5,258.1 578.9,256.1 579.2,254.2 579.5,252.2 579.8,250.2 580.1,248.2 580.4,246.2 580.7,244.2 580.9,242.2 581.2,240.2 581.4,238.2 581.6,236.2 581.8,234.3 582.0,232.3 582.2,230.3 582.3,228.3 582.5,226.3 582.6,224.3 582.8,222.3 582.9,220.3 583.0,218.3 583.1,216.3 583.2,214.3 583.3,212.3 583.4,210.3 583.5,208.3 583.5,206.3 583.6,204.3 583.6,202.3 583.6,200.3 583.7,198.3 583.7,196.3 583.7,194.3 583.7,192.3 583.7,190.3 583.7,188.2 583.6,186.2 583.6,184.2 583.6,182.2 583.5,180.2 583.5,178.2 583.4,176.2 583.3,174.2 583.3,172.2 583.2,170.2 583.1,168.2 583.0,166.2 582.9,164.2 582.8,162.2 582.7,160.2 582.6,158.2 582.5,156.2 582.4,154.2 582.2,152.1 582.1,150.1 582.0,148.1 581.8,146.1 581.7,144.1 581.6,142.1 581.4,140.1 581.3,138.1 581.1,136.1 580.9,134.1 580.8,132.1 580.6,130.1 580.5,128.1 580.3,126.1 580.1,124.1 580.0,122.0 579.8,120.0 579.6,118.0 579.4,116.0 579.3,114.0 579.1,112.0 578.9,110.0 578.7,108.0 578.5,106.0 578.4,104.0 578.2,102.0 578.0,100.0 577.8,98.0 577.7,96.0 577.5,94.0 577.3,92.0 577.1,90.0 576.9,88.0 576.8,86.0 576.6,84.0 576.4,82.0 576.3,80.0 576.1,78.0 575.9,76.0 575.8,74.0 575.6,72.0 575.5,70.0 575.3,68.0 575.2,66.0 575.0,64.0 574.9,62.0 574.7,60.0 574.6,58.0 574.5,56.0 574.3,54.0 574.2,52.0 574.1,50.0 574.0,48.0 573.9,46.0 573.8,44.0 573.7,42.1 573.6,40.1 573.5,38.1 573.4,36.1 573.3,34.1 573.3,32.1 573.2,30.1 573.1,28.1" stroke="#2ca02c" stroke-width="1.40" stroke-dasharray="9.96,2.49,1.56,2.49"/>
<path d="M76.5,505.7 78.5,505.6 80.5,505.5 82.5,505.4 84.5,505.3 86.5,505.2 88.5,505.2 90.5,505.1 92.6,505.0 94.6,505.0 96.6,504.9 98.6,504.9 100.6,504.8 102.6,504.8 104.6,504.8 106.6,504.7 108.6,504.7 110.6,504.7 112.6,504.6 114.6,504.6 116.6,504.6 118.6,504.6 120.6,504.5 122.6,504.5 124.6,504.5 126.7,504.5 128.7,504.4 130.7,504.4 132.7,504.4 134.7,504.3 136.7,504.3 138.7,504.3 140.7,504.2 142.7,504.2 144.7,504.1 146.7,504.1 148.7,504.0 150.8,504.0 152.8,503.9 154.8,503.8 156.8,503.8 158.8,503.7 160.8,503.6 162.8,503.5 164.8,503.4 166.8,503.3 168.8,503.2 170.8,503.0 172.8,502.9 174.9,502.8 176.9,502.6 178.9,502.5 180.9,502.3 182.9,502.1 184.9,501.9 186.9,501.7 188.9,501.5 190.9,501.3 192.9,501.1 194.9,500.8 196.9,500.5 198.9,500.3 200.8,500.0 202.8,499.7 204.8,499.3 206.8,499.0 208.8,498.7 210.7,498.3 212.7,497.9 214.7,497.5 216.6,497.1 218.6,496.6 220.5,496.1 222.4,495.7 224.4,495.2 226.3,494.6 228.2,494.1 230.1,493.5 232.0,492.9 233.9,492.3 235.8,491.7 237.7,491.1 239.6,490.4 241.5,489.7 243.4,489.1 245.3,488.4 247.1,487.6 249.0,486.9 250.9,486.2 252.7,485.5 254.6,484.7 256.5,484.0 258.3,483.2 260.2,482.4 262.0,481.7 263.9,480.9 265.7,480.1 267.6,479.3 269.4,478.6 271.3,477.8 273.2,477.0 275.0,476.3 276.9,475.5 278.7,474.7 280.6,474.0 282.5,473.2 284.3,472.5 286.2,471.8 288.1,471.0 289.9,470.3 291.8,469.6 293.7,468.9 295.6,468.1 297.5,467.4 299.3,466.7 301.2,466.0 303.1,465.3 305.0,464.6 306.9,464.0 308.8,463.3 310.7,462.6 312.6,461.9 314.4,461.2 316.3,460.6 318.2,459.9 320.1,459.2 322.0,458.6 323.9,457.9 325.8,457.3 327.7,456.6 329.6,456.0 331.5,455.3 333.4,454.7 335.3,454.0 337.2,453.4 339.1,452.7 341.0,452.1 342.9,451.4 344.8,450.8 346.7,450.2 348.7,449.5 350.6,448.9 352.5,448.3 354.4,447.6 356.3,447.0 358.2,446.3 360.1,445.7 362.0,445.1 363.9,444.4 365.8,443.8 367.7,443.2 369.6,442.5 371.5,441.9 373.4,441.2 375.3,440.6 377.2,440.0 379.1,439.3 381.0,438.7 382.9,438.0 384.8,437.4 386.7,436.7 388.6,436.1 390.5,435.4 392.4,434.8 394.3,434.1 396.2,433.4 398.1,432.8 400.0,432.1 401.9,431.4 403.8,430.8 405.6,430.1 407.5,429.4 409.4,428.7 411.3,428.0 413.2,427.3 415.1,426.6 416.9,425.9 418.8,425.2 420.7,424.5 422.6,423.8 424.4,423.1 426.3,422.4 428.2,421.6 430.0,420.9 431.9,420.2 433.7,419.4 435.6,418.7 437.5,417.9 439.3,417.2 441.2,416.4 443.0,415.6 444.9,414.8 446.7,414.0 448.5,413.3 450.4,412.5 452.2,411.6 454.1,410.8 455.9,410.0 457.7,409.2 459.5,408.4 461.4,407.5 463.2,406.7 465.0,405.8 466.8,404.9 468.6,404.1 470.4,403.2 472.2,402.3 474.0,401.4 475.8,400.5 477.6,399.6 479.4,398.6 481.2,397.7 482.9,396.7 484.7,395.8 486.5,394.8 488.2,393.8 490.0,392.8 491.7,391.8 493.4,390.8 495.1,389.7 496.8,388.7 498.5,387.6 500.2,386.5 501.9,385.4 503.5,384.2 505.1,383.1 506.8,381.9 508.4,380.7 509.9,379.5 511.5,378.3 513.1,377.1 514.6,375.8 516.1,374.5 517.6,373.2 519.1,371.8 520.6,370.5 522.0,369.1 523.4,367.7 524.8,366.3 526.2,364.8 527.6,363.4 529.0,361.9 530.3,360.4 531.6,358.9 532.9,357.4 534.2,355.9 535.5,354.3 536.7,352.7 538.0,351.1 539.2,349.5 540.4,347.9 541.6,346.3 542.8,344.7 543.9,343.0 545.0,341.4 546.2,339.7 547.3,338.0 548.3,336.3 549.4,334.6 550.5,332.9 551.5,331.2 552.5,329.4 553.5,327.7 554.5,325.9 555.5,324.2 556.4,322.4 557.4,320.6 558.3,318.9 559.2,317.1 560.1,315.3 560.9,313.4 561.8,311.6 562.6,309.8 563.4,308.0 564.2,306.1 565.0,304.3 565.8,302.4 566.5,300.5 567.2,298.7 567.9,296.8 568.6,294.9 569.3,293.0 569.9,291.1 570.5,289.2 571.1,287.3 571.7,285.4 572.3,283.5 572.8,281.5 573.4,279.6 573.9,277.7 574.4,275.7 574.9,273.8 575.4,271.8 575.8,269.9 576.2,267.9 576.7,265.9 577.1,264.0 577.5,262.0 577.8,260.0 578.2,258.1 578.5,256.1 578.9,254.1 579.2,252.1 579.5,250.1 579.8,248.2 580.0,246.2 580.3,244.2 580.6,242.2 580.8,240.2 581.0,238.2 581.2,236.2 581.4,234.2 581.6,232.2 581.8,230.2 582.0,228.2 582.1,226.2 582.3,224.2 582.4,222.3 582.6,220.3 582.7,218.3 582.8,216.3 582.9,214.3 583.0,212.3 583.0,210.3 583.1,208.3 583.2,206.3 583.2,204.3 583.3,202.3 583.3,200.3 583.3,198.3 583.3,196.3 583.3,194.3 583.3,192.3 583.3,190.3 583.3,188.3 583.3,186.3 583.2,184.2 583.2,182.2 583.2,180.2 583.1,178.2 583.1,176.2 583.0,174.2 582.9,172.2 582.8,170.2 582.8,168.2 582.7,166.2 582.6,164.2 582.5,162.2 582.4,160.2 582.3,158.2 582.1,156.2 582.0,154.2 581.9,152.2 581.8,150.2 581.6,148.2 581.5,146.1 581.4,144.1 581.2,142.1 581.1,140.1 580.9,138.1 580.8,136.1 580.6,134.1 580.4,132.1 580.3,130.1 580.1,128.1 579.9,126.1 579.8,124.1 579.6,122.1 579.4,120.1 579.3,118.1 579.1,116.1 578.9,114.1 578.7,112.1 578.6,110.0 578.4,108.0 578.2,106.0 578.0,104.0 577.8,102.0 577.7,100.0 577.5,98.0 577.3,96.0 577.1,94.0 577.0,92.0 576.8,90.0 576.6,88.0 576.4,86.0 576.3,84.0 576.1,82.0 575.9,80.0 575.8,78.0 575.6,76.0 575.4,74.0 575.3,72.0 575.1,70.0 575.0,68.0 574.8,66.0 574.7,64.0 574.5,62.0 574.4,60.0 574.2,58.0 574.1,56.0 574.0,54.0 573.9,52.0 573.7,50.0 573.6,48.0 573.5,46.1 573.4,44.1 573.3,42.1 573.2,40.1 573.1,38.1 573.0,36.1 573.0,34.1 572.9,32.1 572.8,30.1 572.8,28.1" stroke="#2ca02c" stroke-width="1.40" stroke-dasharray="1.56,2.57"/>
<path d="M76.0,507.3 78.0,507.3 80.0,507.3 82.0,507.3 84.0,507.3 86.0,507.3 88.0,507.3 90.0,507.3 92.1,507.3 94.1,507.3 96.1,507.3 98.1,507.3 100.1,507.3 102.1,507.3 104.1,507.3 106.1,507.3 108.1,507.3 110.1,507.3 112.1,507.3 114.1,507.3 116.1,507.3 118.1,507.3 120.1,507.3 122.1,507.3 124.2,507.3 126.2,507.3 128.2,507.3 130.2,507.3 132.2,507.3 134.2,507.3 136.2,507.3 138.2,507.3 140.2,507.3 142.2,507.3 144.2,507.3 146.2,507.3 148.2,507.3 150.2,507.3 152.2,507.3 154.3,507.3 156.3,507.3 158.3,507.3 160.3,507.3 162.3,507.2 164.3,507.2 166.3,507.2 168.3,507.2 170.3,507.2 172.3,507.2 174.3,507.2 176.3,507.2 178.3,507.2 180.3,507.2 182.3,507.2 184.4,507.1 186.4,507.1 188.4,507.1 190.4,507.1 192.4,507.1 194.4,507.1 196.4,507.1 198.4,507.1 200.4,507.1 202.4,507.1 204.4,507.0 206.4,507.0 208.4,507.0 210.4,507.0 212.4,507.0 214.5,507.0 216.5,507.0 218.5,507.0 220.5,507.0 222.5,507.0 224.5,506.9 226.5,506.9 228.5,506.9 230.5,506.9 232.5,506.9 234.5,506.9 236.5,506.9 238.5,506.9 240.5,506.9 242.5,506.8 244.6,506.8 246.6,506.8 248.6,506.8 250.6,506.8 252.6,506.8 254.6,506.8 256.6,506.8 258.6,506.8 260.6,506.8 262.6,506.7 264.6,506.7 266.6,506.7 268.6,506.7 270.6,506.7 272.6,506.7 274.6,506.7 276.7,506.7 278.7,506.7 280.7,506.7 282.7,506.7 284.7,506.7 286.7,506.6 288.7,506.6 290.7,506.6 292.7,506.6 294.7,506.6 296.7,506.6 298.7,506.6 300.7,506.6 302.7,506.6 304.7,506.6 306.7,506.6 308.7,506.6 310.7,506.6 312.8,506.6 314.8,506.6 316.8,506.5 318.8,506.5 320.8,506.5 322.8,506.5 324.8,506.5 326.8,506.5 328.8,506.5 330.8,506.5 332.8,506.4 334.8,506.4 336.8,506.4 338.8,506.4 340.8,506.3 342.8,506.3 344.8,506.3 346.8,506.2 348.8,506.2 350.9,506.1 352.9,506.1 354.9,506.0 356.9,506.0 358.9,505.9 360.9,505.9 362.9,505.8 364.9,505.7 366.9,505.7 368.9,505.6 370.9,505.5 372.9,505.4 374.9,505.3 376.9,505.2 378.9,505.1 380.9,505.0 382.9,504.9 384.9,504.8 386.9,504.7 389.0,504.6 391.0,504.4 393.0,504.3 395.0,504.1 397.0,504.0 399.0,503.8 401.0,503.7 403.0,503.5 405.0,503.3 407.0,503.2 409.0,503.0 411.0,502.8 413.0,502.6 415.0,502.3 417.0,502.1 419.0,501.9 421.0,501.7 423.0,501.4 425.0,501.1 427.0,500.9 429.0,500.6 431.0,500.3 433.0,499.9 435.0,499.6 436.9,499.3 438.9,498.9 440.9,498.5 442.8,498.1 444.8,497.7 446.8,497.2 448.7,496.8 450.6,496.3 452.6,495.8 454.5,495.3 456.4,494.7 458.3,494.1 460.2,493.5 462.1,492.9 464.0,492.3 465.9,491.6 467.8,490.9 469.6,490.2 471.5,489.4 473.3,488.7 475.2,487.9 477.0,487.0 478.8,486.2 480.6,485.3 482.3,484.4 484.1,483.5 485.9,482.5 487.6,481.5 489.3,480.5 491.0,479.5 492.7,478.5 494.4,477.4 496.1,476.3 497.7,475.2 499.3,474.0 500.9,472.8 502.5,471.6 504.1,470.4 505.7,469.1 507.2,467.8 508.7,466.5 510.2,465.2 511.7,463.9 513.1,462.5 514.5,461.1 515.9,459.6 517.3,458.2 518.7,456.7 520.0,455.2 521.3,453.7 522.6,452.1 523.9,450.6 525.1,449.0 526.3,447.4 527.5,445.8 528.7,444.1 529.8,442.5 530.9,440.8 532.0,439.1 533.1,437.4 534.1,435.6 535.1,433.9 536.1,432.1 537.1,430.3 538.0,428.6 538.9,426.7 539.8,424.9 540.6,423.1 541.4,421.3 542.2,419.4 543.0,417.5 543.7,415.7 544.4,413.8 545.0,411.9 545.7,410.0 546.3,408.1 546.9,406.2 547.4,404.2 547.9,402.3 548.4,400.4 548.9,398.4 549.3,396.5 549.7,394.5 550.1,392.5 550.5,390.6 550.8,388.6 551.1,386.6 551.4,384.6 551.7,382.6 551.9,380.7 552.1,378.7 552.3,376.7 552.4,374.7 552.6,372.7 552.7,370.7 552.8,368.7 552.8,366.7 552.9,364.7 552.9,362.7 552.9,360.7 552.8,358.7 552.8,356.7 552.7,354.7 552.6,352.7 552.5,350.8 552.4,348.8 552.2,346.8 552.1,344.8 551.9,342.8 551.7,340.8 551.5,338.9 551.3,336.9 551.0,334.9 550.8,332.9 550.5,331.0 550.2,329.0 549.9,327.0 549.6,325.0 549.2,323.1 548.9,321.1 548.6,319.1 548.2,317.1 547.8,315.2 547.4,313.2 547.1,311.2 546.7,309.3 546.3,307.3 545.9,305.3 545.4,303.4 545.0,301.4 544.6,299.4 544.1,297.5 543.7,295.5 543.3,293.5 542.8,291.6 542.4,289.6 541.9,287.6 541.5,285.7 541.0,283.7 540.6,281.7 540.1,279.8 539.7,277.8 539.2,275.8 538.7,273.9 538.3,271.9 537.8,269.9 537.4,268.0 537.0,266.0 536.5,264.0 536.1,262.1 535.7,260.1 535.2,258.1 534.8,256.2 534.4,254.2 534.0,252.2 533.6,250.2 533.3,248.3 532.9,246.3 532.5,244.3 532.1,242.3 531.8,240.4 531.4,238.4 531.1,236.4 530.8,234.4 530.4,232.5 530.1,230.5 529.8,228.5 529.5,226.5 529.2,224.5 528.9,222.6 528.6,220.6 528.3,218.6 528.0,216.6 527.7,214.6 527.4,212.7 527.2,210.7 526.9,208.7 526.6,206.7 526.4,204.7 526.1,202.7 525.8,200.8 525.6,198.8 525.3,196.8 525.1,194.8 524.8,192.8 524.6,190.8 524.3,188.8 524.1,186.9 523.9,184.9 523.6,182.9 523.4,180.9 523.1,178.9 522.9,176.9 522.7,174.9 522.4,172.9 522.2,171.0 521.9,169.0 521.7,167.0 521.5,165.0 521.2,163.0 521.0,161.0 520.7,159.0 520.5,157.0 520.2,155.1 520.0,153.1 519.7,151.1 519.5,149.1 519.2,147.1 519.0,145.1 518.7,143.1 518.4,141.1 518.2,139.1 517.9,137.2 517.6,135.2 517.3,133.2 517.1,131.2 516.8,129.2 516.5,127.2 516.2,125.2 515.9,123.2 515.6,121.2 515.3,119.3 515.0,117.3 514.7,115.3 514.4,113.3 514.1,111.3 513.8,109.3 513.5,107.3 513.2,105.3 512.9,103.4 512.6,101.4 512.3,99.4 512.0,97.4 511.7,95.4 511.3,93.4 511.0,91.4 510.7,89.5 510.4,87.5 510.1,85.5 509.8,83.5 509.5,81.5 509.1,79.5 508.8,77.5 508.5,75.6 508.2,73.6 507.9,71.6 507.6,69.6 507.3,67.6 506.9,65.6 506.6,63.7 506.3,61.7 506.0,59.7 505.7,57.7 505.4,55.7 505.1,53.8 504.8,51.8 504.5,49.8 504.2,47.8 503.9,45.8 503.6,43.9 503.3,41.9 503.0,39.9 502.7,37.9 502.4,35.9 502.2,34.0 501.9,32.0 501.6,30.0 501.3,28.0" stroke="#d62728" stroke-width="1.40"/>
<path d="M76.5,507.0 78.5,507.0 80.5,507.0 82.5,507.0 84.5,507.0 86.5,507.0 88.6,507.0 90.6,507.0 92.6,507.0 94.6,507.0 96.6,507.0 98.6,507.0 100.6,507.0 102.6,507.0 104.6,507.0 106.6,507.0 108.6,507.0 110.6,507.0 112.6,507.0 114.6,507.0 116.7,507.0 118.7,507.0 120.7,506.9 122.7,506.9 124.7,506.9 126.7,506.9 128.7,506.9 130.7,506.9 132.7,506.9 134.7,506.9 136.7,506.9 138.7,506.9 140.7,506.9 142.8,506.9 144.8,506.9 146.8,506.9 148.8,506.9 150.8,506.9 152.8,506.9 154.8,506.9 156.8,506.9 158.8,506.9 160.8,506.9 162.8,506.8 164.8,506.8 166.9,506.8 168.9,506.8 170.9,506.8 172.9,506.8 174.9,506.8 176.9,506.8 178.9,506.8 180.9,506.8 182.9,506.8 184.9,506.8 186.9,506.8 189.0,506.8 191.0,506.8 193.0,506.8 195.0,506.7 197.0,506.7 199.0,506.7 201.0,506.7 203.0,506.7 205.0,506.7 207.0,506.7 209.0,506.7 211.1,506.7 213.1,506.7 215.1,506.7 217.1,506.7 219.1,506.7 221.1,506.7 223.1,506.6 225.1,506.6 227.1,506.6 229.1,506.6 231.1,506.6 233.1,506.6 235.2,506.6 237.2,506.6 239.2,506.6 241.2,506.6 243.2,506.6 245.2,506.6 247.2,506.5 249.2,506.5 251.2,506.5 253.2,506.5 255.2,506.5 257.2,506.5 259.3,506.5 261.3,506.5 263.3,506.5 265.3,506.5 267.3,506.5 269.3,506.4 271.3,506.4 273.3,506.4 275.3,506.4 277.3,506.4 279.3,506.4 281.3,506.4 283.3,506.4 285.4,506.4 287.4,506.4 289.4,506.4 291.4,506.3 293.4,506.3 295.4,506.3 297.4,506.3 299.4,506.3 301.4,506.3 303.4,506.3 305.4,506.3 307.4,506.3 309.4,506.3 311.4,506.2 313.4,506.2 315.5,506.2 317.5,506.2 319.5,506.2 321.5,506.2 323.5,506.1 325.5,506.1 327.5,506.1 329.5,506.1 331.5,506.1 333.5,506.0 335.5,506.0 337.5,506.0 339.5,505.9 341.5,505.9 343.5,505.9 345.5,505.8 347.5,505.8 349.5,505.7 351.6,505.7 353.6,505.6 355.6,505.6 357.6,505.5 359.6,505.5 361.6,505.4 363.6,505.3 365.6,505.2 367.6,505.2 369.6,505.1 371.6,505.0 373.6,504.9 375.6,504.8 377.6,504.7 379.6,504.6 381.6,504.5 383.6,504.4 385.7,504.3 387.7,504.2 389.7,504.1 391.7,503.9 393.7,503.8 395.7,503.6 397.7,503.5 399.7,503.3 401.7,503.2 403.7,503.0 405.7,502.9 407.7,502.7 409.7,502.5 411.8,502.3 413.8,502.1 415.8,501.9 417.8,501.7 419.8,501.5 421.8,501.2 423.8,501.0 425.8,500.7 427.8,500.5 429.8,500.2 431.8,499.9 433.7,499.6 435.7,499.3 437.7,498.9 439.7,498.6 441.6,498.2 443.6,497.8 445.5,497.4 447.5,497.0 449.4,496.5 451.4,496.0 453.3,495.5 455.2,495.0 457.1,494.5 459.0,493.9 460.9,493.3 462.8,492.7 464.7,492.0 466.6,491.3 468.4,490.6 470.3,489.9 472.1,489.2 473.9,488.4 475.8,487.6 477.6,486.7 479.4,485.9 481.1,485.0 482.9,484.1 484.7,483.1 486.4,482.2 488.1,481.2 489.9,480.2 491.5,479.1 493.2,478.1 494.9,477.0 496.6,475.9 498.2,474.7 499.8,473.6 501.4,472.4 503.0,471.1 504.6,469.9 506.1,468.7 507.7,467.4 509.2,466.1 510.7,464.7 512.2,463.4 513.6,462.0 515.1,460.6 516.5,459.2 517.9,457.7 519.2,456.3 520.6,454.8 521.9,453.3 523.2,451.7 524.5,450.2 525.8,448.6 527.0,447.0 528.3,445.4 529.5,443.8 530.6,442.1 531.8,440.5 532.9,438.8 534.0,437.1 535.0,435.4 536.1,433.7 537.1,431.9 538.1,430.2 539.0,428.4 540.0,426.6 540.9,424.8 541.7,423.0 542.6,421.2 543.4,419.3 544.2,417.5 544.9,415.6 545.7,413.8 546.4,411.9 547.0,410.0 547.6,408.1 548.2,406.2 548.8,404.3 549.4,402.4 549.9,400.5 550.4,398.5 550.8,396.6 551.2,394.6 551.7,392.7 552.0,390.7 552.4,388.7 552.7,386.8 553.0,384.8 553.3,382.8 553.5,380.9 553.7,378.9 553.9,376.9 554.1,374.9 554.2,372.9 554.3,370.9 554.4,368.9 554.5,366.9 554.5,364.9 554.6,363.0 554.6,361.0 554.6,359.0 554.5,357.0 554.4,355.0 554.4,353.0 554.3,351.0 554.1,349.1 554.0,347.1 553.8,345.1 553.6,343.1 553.4,341.1 553.2,339.2 553.0,337.2 552.8,335.2 552.5,333.2 552.2,331.3 551.9,329.3 551.6,327.3 551.3,325.3 551.0,323.4 550.6,321.4 550.3,319.4 549.9,317.5 549.5,315.5 549.2,313.5 548.8,311.5 548.4,309.6 548.0,307.6 547.5,305.6 547.1,303.7 546.7,301.7 546.3,299.7 545.8,297.8 545.4,295.8 544.9,293.8 544.5,291.9 544.0,289.9 543.6,287.9 543.1,286.0 542.7,284.0 542.2,282.0 541.7,280.1 541.3,278.1 540.8,276.1 540.4,274.2 539.9,272.2 539.5,270.2 539.0,268.3 538.6,266.3 538.1,264.3 537.7,262.3 537.3,260.4 536.8,258.4 536.4,256.4 536.0,254.4 535.6,252.5 535.2,250.5 534.9,248.5 534.5,246.5 534.1,244.6 533.7,242.6 533.4,240.6 533.0,238.6 532.7,236.7 532.4,234.7 532.1,232.7 531.7,230.7 531.4,228.7 531.1,226.7 530.8,224.8 530.5,222.8 530.2,220.8 529.9,218.8 529.6,216.8 529.4,214.8 529.1,212.9 528.8,210.9 528.6,208.9 528.3,206.9 528.0,204.9 527.8,202.9 527.5,200.9 527.3,199.0 527.0,197.0 526.8,195.0 526.5,193.0 526.3,191.0 526.1,189.0 525.8,187.0 525.6,185.0 525.3,183.0 525.1,181.1 524.9,179.1 524.6,177.1 524.4,175.1 524.2,173.1 523.9,171.1 523.7,169.1 523.5,167.1 523.2,165.1 523.0,163.1 522.7,161.2 522.5,159.2 522.3,157.2 522.0,155.2 521.8,153.2 521.5,151.2 521.2,149.2 521.0,147.2 520.7,145.2 520.5,143.3 520.2,141.3 519.9,139.3 519.6,137.3 519.4,135.3 519.1,133.3 518.8,131.3 518.5,129.3 518.2,127.3 517.9,125.3 517.6,123.4 517.3,121.4 517.0,119.4 516.7,117.4 516.4,115.4 516.1,113.4 515.8,111.4 515.5,109.4 515.2,107.5 514.8,105.5 514.5,103.5 514.2,101.5 513.9,99.5 513.6,97.5 513.3,95.5 512.9,93.5 512.6,91.6 512.3,89.6 512.0,87.6 511.7,85.6 511.3,83.6 511.0,81.6 510.7,79.6 510.4,77.7 510.1,75.7 509.8,73.7 509.4,71.7 509.1,69.7 508.8,67.7 508.5,65.7 508.2,63.8 507.9,61.8 507.6,59.8 507.3,57.8 507.0,55.8 506.7,53.8 506.4,51.9 506.1,49.9 505.8,47.9 505.5,45.9 505.3,43.9 505.0,41.9 504.7,40.0 504.4,38.0 504.2,36.0 503.9,34.0 503.6,32.0 503.4,30.0 503.1,28.1" stroke="#d62728" stroke-width="1.40" stroke-dasharray="5.76,2.49"/>
<path d="M76.6,507.7 78.6,507.7 80.6,507.7 82.6,507.7 84.6,507.7 86.7,507.7 88.7,507.7 90.7,507.7 92.7,507.7 94.7,507.7 96.7,507.7 98.7,507.7 100.7,507.7 102.7,507.7 104.7,507.7 106.7,507.7 108.7,507.7 110.7,507.7 112.7,507.7 114.7,507.7 116.8,507.7 118.8,507.6 120.8,507.6 122.8,507.6 124.8,507.6 126.8,507.6 128.8,507.6 130.8,507.6 132.8,507.6 134.8,507.6 136.8,507.6 138.8,507.6 140.9,507.6 142.9,507.6 144.9,507.6 146.9,507.6 148.9,507.6 150.9,507.6 152.9,507.6 154.9,507.6 156.9,507.6 158.9,507.6 160.9,507.6 162.9,507.5 165.0,507.5 167.0,507.5 169.0,507.5 171.0,507.5 173.0,507.5 175.0,507.5 177.0,507.5 179.0,507.5 181.0,507.5 183.0,507.5 185.0,507.5 187.1,507.5 189.1,507.5 191.1,507.5 193.1,507.5 195.1,507.4 197.1,507.4 199.1,507.4 201.1,507.4 203.1,507.4 205.1,507.4 207.1,507.4 209.2,507.4 211.2,507.4 213.2,507.4 215.2,507.4 217.2,507.4 219.2,507.4 221.2,507.4 223.2,507.3 225.2,507.3 227.2,507.3 229.2,507.3 231.3,507.3 233.3,507.3 235.3,507.3 237.3,507.3 239.3,507.3 241.3,507.3 243.3,507.3 245.3,507.3 247.3,507.3 249.3,507.2 251.3,507.2 253.3,507.2 255.4,507.2 257.4,507.2 259.4,507.2 261.4,507.2 263.4,507.2 265.4,507.2 267.4,507.2 269.4,507.2 271.4,507.1 273.4,507.1 275.4,507.1 277.4,507.1 279.4,507.1 281.5,507.1 283.5,507.1 285.5,507.1 287.5,507.1 289.5,507.1 291.5,507.0 293.5,507.0 295.5,507.0 297.5,507.0 299.5,507.0 301.5,507.0 303.5,507.0 305.5,507.0 307.5,507.0 309.6,507.0 311.6,506.9 313.6,506.9 315.6,506.9 317.6,506.9 319.6,506.9 321.6,506.9 323.6,506.8 325.6,506.8 327.6,506.8 329.6,506.8 331.6,506.8 333.6,506.7 335.6,506.7 337.6,506.7 339.6,506.6 341.7,506.6 343.7,506.6 345.7,506.5 347.7,506.5 349.7,506.4 351.7,506.4 353.7,506.3 355.7,506.3 357.7,506.2 359.7,506.1 361.7,506.1 363.7,506.0 365.7,505.9 367.7,505.9 369.7,505.8 371.8,505.7 373.8,505.6 375.8,505.5 377.8,505.4 379.8,505.3 381.8,505.2 383.8,505.1 385.8,505.0 387.8,504.9 389.8,504.7 391.8,504.6 393.8,504.5 395.9,504.3 397.9,504.2 399.9,504.0 401.9,503.9 403.9,503.7 405.9,503.5 407.9,503.4 409.9,503.2 411.9,503.0 413.9,502.8 416.0,502.6 418.0,502.4 420.0,502.2 422.0,501.9 424.0,501.7 426.0,501.4 428.0,501.2 430.0,500.9 432.0,500.6 434.0,500.3 436.0,500.0 437.9,499.6 439.9,499.3 441.9,498.9 443.9,498.5 445.8,498.1 447.8,497.6 449.7,497.2 451.7,496.7 453.6,496.2 455.5,495.7 457.5,495.1 459.4,494.6 461.3,494.0 463.2,493.3 465.1,492.7 466.9,492.0 468.8,491.3 470.7,490.6 472.5,489.8 474.4,489.0 476.2,488.2 478.0,487.4 479.8,486.5 481.6,485.6 483.4,484.7 485.1,483.7 486.9,482.8 488.6,481.8 490.3,480.8 492.0,479.7 493.7,478.6 495.4,477.5 497.1,476.4 498.7,475.3 500.3,474.1 501.9,472.9 503.5,471.7 505.1,470.4 506.7,469.2 508.2,467.9 509.8,466.6 511.3,465.2 512.7,463.9 514.2,462.5 515.7,461.1 517.1,459.6 518.5,458.2 519.9,456.7 521.2,455.2 522.6,453.7 523.9,452.2 525.2,450.6 526.5,449.0 527.7,447.4 528.9,445.8 530.2,444.2 531.3,442.5 532.5,440.9 533.6,439.2 534.7,437.5 535.8,435.7 536.8,434.0 537.9,432.3 538.9,430.5 539.8,428.7 540.8,426.9 541.7,425.1 542.5,423.3 543.4,421.5 544.2,419.6 545.0,417.8 545.8,415.9 546.5,414.0 547.2,412.2 547.9,410.3 548.5,408.4 549.1,406.4 549.7,404.5 550.2,402.6 550.7,400.6 551.2,398.7 551.7,396.8 552.1,394.8 552.5,392.8 552.9,390.9 553.3,388.9 553.6,386.9 553.9,384.9 554.2,382.9 554.4,381.0 554.6,379.0 554.8,377.0 555.0,375.0 555.1,373.0 555.2,371.0 555.3,369.0 555.4,367.0 555.4,365.0 555.5,363.0 555.5,361.0 555.5,359.0 555.4,357.0 555.3,355.0 555.3,353.0 555.2,351.0 555.0,349.0 554.9,347.0 554.7,345.0 554.5,343.1 554.3,341.1 554.1,339.1 553.9,337.1 553.6,335.1 553.4,333.2 553.1,331.2 552.8,329.2 552.5,327.2 552.2,325.2 551.9,323.3 551.5,321.3 551.2,319.3 550.8,317.3 550.4,315.4 550.0,313.4 549.7,311.4 549.3,309.5 548.8,307.5 548.4,305.5 548.0,303.5 547.6,301.6 547.1,299.6 546.7,297.6 546.3,295.7 545.8,293.7 545.4,291.7 544.9,289.8 544.5,287.8 544.0,285.8 543.5,283.9 543.1,281.9 542.6,279.9 542.2,278.0 541.7,276.0 541.2,274.0 540.8,272.0 540.3,270.1 539.9,268.1 539.5,266.1 539.0,264.2 538.6,262.2 538.2,260.2 537.7,258.3 537.3,256.3 536.9,254.3 536.5,252.3 536.1,250.4 535.7,248.4 535.4,246.4 535.0,244.5 534.6,242.5 534.3,240.5 533.9,238.5 533.6,236.5 533.3,234.6 532.9,232.6 532.6,230.6 532.3,228.6 532.0,226.7 531.7,224.7 531.4,222.7 531.1,220.7 530.8,218.7 530.5,216.7 530.3,214.8 530.0,212.8 529.7,210.8 529.5,208.8 529.2,206.8 528.9,204.8 528.7,202.8 528.4,200.9 528.2,198.9 527.9,196.9 527.7,194.9 527.4,192.9 527.2,190.9 527.0,188.9 526.7,186.9 526.5,185.0 526.2,183.0 526.0,181.0 525.8,179.0 525.5,177.0 525.3,175.0 525.1,173.0 524.8,171.0 524.6,169.0 524.4,167.1 524.1,165.1 523.9,163.1 523.6,161.1 523.4,159.1 523.2,157.1 522.9,155.1 522.7,153.1 522.4,151.1 522.1,149.1 521.9,147.1 521.6,145.2 521.4,143.2 521.1,141.2 520.8,139.2 520.5,137.2 520.3,135.2 520.0,133.2 519.7,131.2 519.4,129.2 519.1,127.2 518.8,125.2 518.5,123.3 518.2,121.3 517.9,119.3 517.6,117.3 517.3,115.3 517.0,113.3 516.7,111.3 516.4,109.3 516.0,107.3 515.7,105.4 515.4,103.4 515.1,101.4 514.8,99.4 514.5,97.4 514.1,95.4 513.8,93.4 513.5,91.4 513.2,89.5 512.9,87.5 512.6,85.5 512.2,83.5 511.9,81.5 511.6,79.5 511.3,77.5 511.0,75.6 510.6,73.6 510.3,71.6 510.0,69.6 509.7,67.6 509.4,65.6 509.1,63.7 508.8,61.7 508.5,59.7 508.2,57.7 507.9,55.7 507.6,53.7 507.3,51.8 507.0,49.8 506.7,47.8 506.4,45.8 506.2,43.8 505.9,41.8 505.6,39.9 505.3,37.9 505.1,35.9 504.8,33.9 504.5,31.9 504.3,30.0 504.0,28.0" stroke="#d62728" stroke-width="1.40" stroke-dasharray="9.96,2.49,1.56,2.49"/>
<path d="M76.8,507.3 78.8,507.3 80.8,507.3 82.8,507.3 84.8,507.3 86.8,507.3 88.8,507.3 90.8,507.3 92.9,507.3 94.9,507.3 96.9,507.3 98.9,507.3 100.9,507.3 102.9,507.3 104.9,507.3 106.9,507.3 108.9,507.3 110.9,507.3 112.9,507.3 114.9,507.3 116.9,507.3 118.9,507.3 120.9,507.3 122.9,507.3 124.9,507.3 127.0,507.3 129.0,507.3 131.0,507.3 133.0,507.3 135.0,507.3 137.0,507.3 139.0,507.3 141.0,507.3 143.0,507.3 145.0,507.3 147.0,507.3 149.0,507.2 151.0,507.2 153.0,507.2 155.0,507.2 157.0,507.2 159.1,507.2 161.1,507.2 163.1,507.2 165.1,507.2 167.1,507.2 169.1,507.2 171.1,507.2 173.1,507.2 175.1,507.2 177.1,507.2 179.1,507.2 181.1,507.2 183.1,507.1 185.1,507.1 187.1,507.1 189.2,507.1 191.2,507.1 193.2,507.1 195.2,507.1 197.2,507.1 199.2,507.1 201.2,507.1 203.2,507.1 205.2,507.1 207.2,507.1 209.2,507.0 211.2,507.0 213.2,507.0 215.2,507.0 217.2,507.0 219.3,507.0 221.3,507.0 223.3,507.0 225.3,507.0 227.3,507.0 229.3,507.0 231.3,507.0 233.3,506.9 235.3,506.9 237.3,506.9 239.3,506.9 241.3,506.9 243.3,506.9 245.3,506.9 247.3,506.9 249.4,506.9 251.4,506.9 253.4,506.9 255.4,506.8 257.4,506.8 259.4,506.8 261.4,506.8 263.4,506.8 265.4,506.8 267.4,506.8 269.4,506.8 271.4,506.8 273.4,506.8 275.4,506.8 277.4,506.7 279.4,506.7 281.5,506.7 283.5,506.7 285.5,506.7 287.5,506.7 289.5,506.7 291.5,506.7 293.5,506.7 295.5,506.7 297.5,506.7 299.5,506.6 301.5,506.6 303.5,506.6 305.5,506.6 307.5,506.6 309.5,506.6 311.5,506.6 313.5,506.6 315.5,506.6 317.5,506.6 319.6,506.5 321.6,506.5 323.6,506.5 325.6,506.5 327.6,506.5 329.6,506.4 331.6,506.4 333.6,506.4 335.6,506.4 337.6,506.3 339.6,506.3 341.6,506.3 343.6,506.2 345.6,506.2 347.6,506.2 349.6,506.1 351.6,506.1 353.6,506.0 355.6,506.0 357.6,505.9 359.6,505.8 361.7,505.8 363.7,505.7 365.7,505.6 367.7,505.6 369.7,505.5 371.7,505.4 373.7,505.3 375.7,505.2 377.7,505.1 379.7,505.0 381.7,504.9 383.7,504.8 385.7,504.7 387.7,504.6 389.7,504.5 391.7,504.3 393.7,504.2 395.7,504.0 397.7,503.9 399.8,503.7 401.8,503.6 403.8,503.4 405.8,503.2 407.8,503.1 409.8,502.9 411.8,502.7 413.8,502.5 415.8,502.3 417.8,502.1 419.8,501.8 421.8,501.6 423.8,501.4 425.8,501.1 427.8,500.8 429.8,500.6 431.8,500.3 433.8,500.0 435.7,499.6 437.7,499.3 439.7,498.9 441.7,498.6 443.6,498.2 445.6,497.7 447.5,497.3 449.5,496.9 451.4,496.4 453.3,495.9 455.3,495.4 457.2,494.8 459.1,494.3 461.0,493.7 462.9,493.0 464.8,492.4 466.6,491.7 468.5,491.0 470.4,490.3 472.2,489.6 474.0,488.8 475.8,488.0 477.7,487.2 479.5,486.3 481.2,485.4 483.0,484.5 484.8,483.6 486.5,482.6 488.3,481.6 490.0,480.6 491.7,479.6 493.4,478.6 495.1,477.5 496.7,476.4 498.4,475.2 500.0,474.1 501.6,472.9 503.3,471.7 504.8,470.5 506.4,469.3 508.0,468.0 509.5,466.7 511.0,465.4 512.5,464.1 514.0,462.7 515.5,461.3 517.0,459.9 518.4,458.5 519.8,457.1 521.2,455.6 522.6,454.1 523.9,452.6 525.3,451.1 526.6,449.6 527.9,448.0 529.1,446.5 530.4,444.9 531.6,443.3 532.8,441.6 534.0,440.0 535.1,438.3 536.2,436.6 537.3,434.9 538.4,433.2 539.5,431.5 540.5,429.8 541.5,428.0 542.4,426.3 543.4,424.5 544.3,422.7 545.2,420.9 546.0,419.1 546.8,417.2 547.6,415.4 548.4,413.5 549.1,411.7 549.8,409.8 550.5,407.9 551.1,406.0 551.7,404.1 552.3,402.2 552.9,400.3 553.4,398.4 553.9,396.4 554.3,394.5 554.7,392.5 555.1,390.6 555.5,388.6 555.8,386.7 556.1,384.7 556.4,382.7 556.6,380.7 556.9,378.8 557.0,376.8 557.2,374.8 557.3,372.8 557.5,370.8 557.5,368.8 557.6,366.8 557.7,364.8 557.7,362.8 557.7,360.8 557.6,358.8 557.6,356.8 557.5,354.9 557.5,352.9 557.3,350.9 557.2,348.9 557.1,346.9 556.9,344.9 556.8,342.9 556.6,341.0 556.4,339.0 556.1,337.0 555.9,335.0 555.7,333.0 555.4,331.1 555.1,329.1 554.8,327.1 554.5,325.1 554.2,323.2 553.9,321.2 553.5,319.2 553.2,317.2 552.8,315.3 552.5,313.3 552.1,311.3 551.7,309.3 551.3,307.4 550.9,305.4 550.5,303.4 550.1,301.5 549.7,299.5 549.3,297.5 548.9,295.5 548.5,293.6 548.0,291.6 547.6,289.6 547.2,287.7 546.7,285.7 546.3,283.7 545.8,281.7 545.4,279.8 545.0,277.8 544.5,275.8 544.1,273.9 543.7,271.9 543.2,269.9 542.8,268.0 542.4,266.0 541.9,264.0 541.5,262.0 541.1,260.1 540.7,258.1 540.3,256.1 539.9,254.2 539.5,252.2 539.1,250.2 538.8,248.2 538.4,246.3 538.0,244.3 537.7,242.3 537.3,240.3 537.0,238.3 536.7,236.4 536.3,234.4 536.0,232.4 535.7,230.4 535.4,228.5 535.1,226.5 534.8,224.5 534.5,222.5 534.2,220.5 533.9,218.6 533.6,216.6 533.3,214.6 533.0,212.6 532.8,210.6 532.5,208.7 532.2,206.7 532.0,204.7 531.7,202.7 531.4,200.7 531.2,198.7 530.9,196.8 530.7,194.8 530.4,192.8 530.2,190.8 529.9,188.8 529.7,186.8 529.4,184.8 529.2,182.9 529.0,180.9 528.7,178.9 528.5,176.9 528.2,174.9 528.0,172.9 527.7,170.9 527.5,169.0 527.3,167.0 527.0,165.0 526.8,163.0 526.5,161.0 526.3,159.0 526.0,157.0 525.8,155.0 525.5,153.1 525.3,151.1 525.0,149.1 524.7,147.1 524.5,145.1 524.2,143.1 523.9,141.1 523.7,139.1 523.4,137.2 523.1,135.2 522.8,133.2 522.5,131.2 522.3,129.2 522.0,127.2 521.7,125.2 521.4,123.2 521.1,121.2 520.8,119.3 520.5,117.3 520.2,115.3 519.9,113.3 519.6,111.3 519.3,109.3 519.0,107.3 518.7,105.3 518.3,103.4 518.0,101.4 517.7,99.4 517.4,97.4 517.1,95.4 516.8,93.4 516.5,91.4 516.2,89.5 515.8,87.5 515.5,85.5 515.2,83.5 514.9,81.5 514.6,79.5 514.3,77.5 514.0,75.6 513.7,73.6 513.3,71.6 513.0,69.6 512.7,67.6 512.4,65.6 512.1,63.7 511.8,61.7 511.5,59.7 511.2,57.7 510.9,55.7 510.6,53.7 510.3,51.8 510.0,49.8 509.7,47.8 509.4,45.8 509.1,43.9 508.8,41.9 508.5,39.9 508.3,37.9 508.0,35.9 507.7,34.0 507.4,32.0 507.2,30.0 506.9,28.0" stroke="#d62728" stroke-width="1.40" stroke-dasharray="1.56,2.57"/>
<path d="M76.0,507.2 78.0,507.2 80.0,507.2 82.0,507.2 84.0,507.2 86.0,507.2 88.1,507.2 90.1,507.3 92.1,507.3 94.1,507.3 96.1,507.3 98.1,507.3 100.1,507.3 102.1,507.3 104.1,507.3 106.1,507.3 108.1,507.3 110.1,507.3 112.1,507.3 114.1,507.3 116.1,507.3 118.2,507.3 120.2,507.3 122.2,507.3 124.2,507.3 126.2,507.3 128.2,507.3 130.2,507.3 132.2,507.3 134.2,507.3 136.2,507.3 138.2,507.3 140.2,507.3 142.2,507.3 144.2,507.3 146.3,507.3 148.3,507.3 150.3,507.2 152.3,507.2 154.3,507.2 156.3,507.2 158.3,507.2 160.3,507.2 162.3,507.2 164.3,507.2 166.3,507.2 168.3,507.1 170.4,507.1 172.4,507.1 174.4,507.1 176.4,507.1 178.4,507.1 180.4,507.1 182.4,507.0 184.4,507.0 186.4,507.0 188.4,507.0 190.4,507.0 192.4,507.0 194.5,506.9 196.5,506.9 198.5,506.9 200.5,506.9 202.5,506.9 204.5,506.9 206.5,506.8 208.5,506.8 210.5,506.8 212.5,506.8 214.5,506.8 216.5,506.8 218.6,506.7 220.6,506.7 222.6,506.7 224.6,506.7 226.6,506.7 228.6,506.7 230.6,506.6 232.6,506.6 234.6,506.6 236.6,506.6 238.6,506.6 240.6,506.6 242.6,506.5 244.7,506.5 246.7,506.5 248.7,506.5 250.7,506.5 252.7,506.5 254.7,506.5 256.7,506.4 258.7,506.4 260.7,506.4 262.7,506.4 264.7,506.4 266.7,506.4 268.7,506.4 270.8,506.4 272.8,506.3 274.8,506.3 276.8,506.3 278.8,506.3 280.8,506.3 282.8,506.3 284.8,506.3 286.8,506.3 288.8,506.3 290.8,506.3 292.8,506.3 294.8,506.3 296.8,506.3 298.8,506.2 300.9,506.2 302.9,506.2 304.9,506.2 306.9,506.2 308.9,506.2 310.9,506.2 312.9,506.2 314.9,506.2 316.9,506.2 318.9,506.2 320.9,506.2 322.9,506.2 324.9,506.2 326.9,506.2 328.9,506.2 330.9,506.2 332.9,506.2 334.9,506.2 337.0,506.2 339.0,506.2 341.0,506.2 343.0,506.1 345.0,506.1 347.0,506.1 349.0,506.1 351.0,506.0 353.0,506.0 355.0,506.0 357.0,505.9 359.0,505.9 361.0,505.9 363.0,505.8 365.0,505.8 367.0,505.7 369.0,505.7 371.0,505.6 373.0,505.5 375.1,505.5 377.1,505.4 379.1,505.3 381.1,505.2 383.1,505.1 385.1,505.0 387.1,504.9 389.1,504.8 391.1,504.7 393.1,504.6 395.1,504.5 397.1,504.3 399.1,504.2 401.1,504.1 403.1,503.9 405.1,503.8 407.1,503.6 409.1,503.4 411.2,503.2 413.2,503.1 415.2,502.9 417.2,502.7 419.2,502.5 421.2,502.3 423.2,502.0 425.2,501.8 427.2,501.6 429.2,501.3 431.2,501.1 433.2,500.8 435.2,500.5 437.2,500.2 439.2,499.9 441.2,499.6 443.2,499.2 445.2,498.9 447.2,498.5 449.1,498.2 451.1,497.8 453.1,497.4 455.1,496.9 457.0,496.5 459.0,496.0 460.9,495.6 462.9,495.1 464.8,494.6 466.8,494.0 468.7,493.5 470.6,492.9 472.5,492.3 474.4,491.7 476.3,491.1 478.2,490.4 480.1,489.7 482.0,489.0 483.9,488.3 485.7,487.6 487.6,486.8 489.4,486.0 491.3,485.2 493.1,484.4 494.9,483.6 496.7,482.7 498.5,481.8 500.3,480.9 502.0,480.0 503.8,479.0 505.5,478.0 507.2,477.0 508.9,476.0 510.6,475.0 512.3,473.9 514.0,472.8 515.6,471.7 517.2,470.6 518.8,469.4 520.4,468.2 522.0,467.0 523.6,465.8 525.1,464.6 526.6,463.3 528.1,462.0 529.6,460.7 531.1,459.3 532.5,458.0 534.0,456.6 535.4,455.2 536.8,453.8 538.2,452.3 539.5,450.9 540.8,449.4 542.2,447.9 543.5,446.4 544.8,444.9 546.0,443.3 547.3,441.8 548.5,440.2 549.7,438.6 550.9,437.0 552.1,435.4 553.2,433.7 554.4,432.1 555.5,430.4 556.6,428.7 557.7,427.0 558.8,425.3 559.8,423.6 560.9,421.9 561.9,420.2 562.9,418.4 563.9,416.7 564.8,414.9 565.8,413.1 566.7,411.4 567.6,409.6 568.5,407.8 569.4,406.0 570.3,404.1 571.2,402.3 572.0,400.5 572.8,398.7 573.7,396.8 574.5,395.0 575.3,393.1 576.0,391.2 576.8,389.4 577.6,387.5 578.3,385.6 579.0,383.7 579.7,381.9 580.5,380.0 581.1,378.1 581.8,376.2 582.5,374.3 583.2,372.4 583.8,370.5 584.5,368.5 585.1,366.6 585.7,364.7 586.3,362.8 586.9,360.9 587.5,358.9 588.1,357.0 588.7,355.1 589.2,353.2 589.8,351.2 590.3,349.3 590.9,347.4 591.4,345.4 591.9,343.5 592.4,341.5 592.9,339.6 593.4,337.6 593.9,335.7 594.3,333.7 594.8,331.8 595.3,329.8 595.7,327.9 596.1,325.9 596.6,324.0 597.0,322.0 597.4,320.0 597.8,318.1 598.2,316.1 598.6,314.1 599.0,312.2 599.3,310.2 599.7,308.2 600.0,306.2 600.4,304.3 600.7,302.3 601.0,300.3 601.4,298.3 601.7,296.4 602.0,294.4 602.3,292.4 602.6,290.4 602.8,288.4 603.1,286.4 603.4,284.4 603.7,282.5 603.9,280.5 604.2,278.5 604.4,276.5 604.6,274.5 604.8,272.5 605.1,270.5 605.3,268.5 605.5,266.5 605.7,264.5 605.9,262.5 606.1,260.5 606.2,258.5 606.4,256.5 606.6,254.5 606.7,252.5 606.9,250.5 607.0,248.6 607.2,246.6 607.3,244.6 607.4,242.6 607.6,240.6 607.7,238.6 607.8,236.6 607.9,234.6 608.0,232.5 608.1,230.5 608.2,228.5 608.3,226.5 608.4,224.5 608.4,222.5 608.5,220.5 608.6,218.5 608.6,216.5 608.7,214.5 608.7,212.5 608.8,210.5 608.8,208.5 608.8,206.5 608.9,204.5 608.9,202.5 608.9,200.5 608.9,198.5 608.9,196.5 608.9,194.5 608.9,192.5 608.9,190.5 608.9,188.4 608.9,186.4 608.9,184.4 608.9,182.4 608.9,180.4 608.9,178.4 608.8,176.4 608.8,174.4 608.8,172.4 608.7,170.4 608.7,168.4 608.6,166.4 608.6,164.4 608.5,162.3 608.5,160.3 608.4,158.3 608.4,156.3 608.3,154.3 608.2,152.3 608.1,150.3 608.1,148.3 608.0,146.3 607.9,144.3 607.8,142.3 607.8,140.3 607.7,138.2 607.6,136.2 607.5,134.2 607.4,132.2 607.3,130.2 607.2,128.2 607.1,126.2 607.0,124.2 606.9,122.2 606.8,120.2 606.7,118.2 606.6,116.2 606.5,114.1 606.4,112.1 606.3,110.1 606.1,108.1 606.0,106.1 605.9,104.1 605.8,102.1 605.7,100.1 605.5,98.1 605.4,96.1 605.3,94.1 605.2,92.1 605.1,90.1 604.9,88.1 604.8,86.1 604.7,84.1 604.6,82.1 604.4,80.1 604.3,78.1 604.2,76.0 604.1,74.0 603.9,72.0 603.8,70.0 603.7,68.0 603.5,66.0 603.4,64.0 603.3,62.0 603.2,60.0 603.0,58.0 602.9,56.0 602.8,54.0 602.7,52.0 602.5,50.0 602.4,48.0 602.3,46.0 602.2,44.0 602.0,42.1 601.9,40.1 601.8,38.1 601.7,36.1 601.6,34.1 601.4,32.1 601.3,30.1 601.2,28.1" stroke="#9467bd" stroke-width="1.40"/>
<path d="M76.5,506.8 78.5,506.8 80.5,506.8 82.5,506.8 84.5,506.9 86.5,506.9 88.5,506.9 90.5,506.9 92.5,506.9 94.6,506.9 96.6,506.9 98.6,506.9 100.6,507.0 102.6,507.0 104.6,507.0 106.6,507.0 108.6,507.0 110.6,507.0 112.6,507.0 114.6,507.0 116.6,507.0 118.6,507.0 120.6,507.0 122.6,507.0 124.6,507.0 126.6,507.0 128.6,507.0 130.6,507.0 132.7,507.0 134.7,507.0 136.7,507.0 138.7,507.0 140.7,506.9 142.7,506.9 144.7,506.9 146.7,506.9 148.7,506.9 150.7,506.9 152.7,506.9 154.7,506.9 156.7,506.9 158.7,506.9 160.7,506.9 162.7,506.8 164.7,506.8 166.7,506.8 168.8,506.8 170.8,506.8 172.8,506.8 174.8,506.8 176.8,506.7 178.8,506.7 180.8,506.7 182.8,506.7 184.8,506.7 186.8,506.7 188.8,506.6 190.8,506.6 192.8,506.6 194.8,506.6 196.8,506.6 198.8,506.6 200.8,506.5 202.9,506.5 204.9,506.5 206.9,506.5 208.9,506.5 210.9,506.5 212.9,506.4 214.9,506.4 216.9,506.4 218.9,506.4 220.9,506.4 222.9,506.3 224.9,506.3 226.9,506.3 228.9,506.3 230.9,506.3 232.9,506.3 234.9,506.2 237.0,506.2 239.0,506.2 241.0,506.2 243.0,506.2 245.0,506.2 247.0,506.1 249.0,506.1 251.0,506.1 253.0,506.1 255.0,506.1 257.0,506.1 259.0,506.1 261.0,506.0 263.0,506.0 265.0,506.0 267.0,506.0 269.0,506.0 271.0,506.0 273.1,506.0 275.1,506.0 277.1,506.0 279.1,505.9 281.1,505.9 283.1,505.9 285.1,505.9 287.1,505.9 289.1,505.9 291.1,505.9 293.1,505.9 295.1,505.9 297.1,505.9 299.1,505.9 301.1,505.9 303.1,505.9 305.1,505.9 307.1,505.9 309.1,505.9 311.1,505.9 313.1,505.9 315.2,505.9 317.2,505.9 319.2,505.9 321.2,505.9 323.2,505.9 325.2,505.9 327.2,505.9 329.2,505.9 331.2,505.9 333.2,505.9 335.2,505.9 337.2,505.8 339.2,505.8 341.2,505.8 343.2,505.8 345.2,505.8 347.2,505.8 349.2,505.7 351.2,505.7 353.2,505.7 355.2,505.7 357.2,505.6 359.2,505.6 361.2,505.5 363.2,505.5 365.2,505.5 367.2,505.4 369.2,505.3 371.3,505.3 373.3,505.2 375.3,505.1 377.3,505.1 379.3,505.0 381.3,504.9 383.3,504.8 385.3,504.7 387.3,504.6 389.3,504.5 391.3,504.4 393.3,504.3 395.3,504.2 397.3,504.0 399.3,503.9 401.3,503.8 403.3,503.6 405.3,503.5 407.3,503.3 409.3,503.1 411.3,503.0 413.3,502.8 415.3,502.6 417.3,502.4 419.3,502.2 421.3,502.0 423.3,501.7 425.3,501.5 427.3,501.3 429.3,501.0 431.3,500.7 433.3,500.5 435.3,500.2 437.3,499.9 439.3,499.6 441.3,499.3 443.3,498.9 445.2,498.6 447.2,498.2 449.2,497.8 451.2,497.5 453.1,497.1 455.1,496.6 457.0,496.2 459.0,495.7 460.9,495.3 462.9,494.8 464.8,494.3 466.8,493.7 468.7,493.2 470.6,492.6 472.5,492.0 474.4,491.4 476.3,490.8 478.2,490.2 480.1,489.5 482.0,488.8 483.8,488.1 485.7,487.4 487.5,486.6 489.4,485.8 491.2,485.1 493.0,484.2 494.8,483.4 496.6,482.5 498.4,481.7 500.2,480.8 501.9,479.8 503.7,478.9 505.4,477.9 507.2,477.0 508.9,475.9 510.6,474.9 512.2,473.9 513.9,472.8 515.6,471.7 517.2,470.6 518.8,469.4 520.4,468.3 522.0,467.1 523.6,465.9 525.1,464.7 526.7,463.4 528.2,462.2 529.7,460.9 531.2,459.5 532.6,458.2 534.1,456.9 535.5,455.5 536.9,454.1 538.3,452.7 539.7,451.2 541.0,449.8 542.4,448.3 543.7,446.8 545.0,445.3 546.3,443.8 547.6,442.3 548.8,440.7 550.1,439.2 551.3,437.6 552.5,436.0 553.7,434.4 554.9,432.8 556.0,431.1 557.2,429.5 558.3,427.8 559.4,426.1 560.5,424.4 561.5,422.8 562.6,421.0 563.6,419.3 564.6,417.6 565.6,415.9 566.6,414.1 567.6,412.4 568.5,410.6 569.5,408.8 570.4,407.0 571.3,405.2 572.2,403.4 573.1,401.6 573.9,399.8 574.8,398.0 575.6,396.2 576.5,394.3 577.3,392.5 578.1,390.6 578.8,388.8 579.6,386.9 580.4,385.0 581.1,383.2 581.8,381.3 582.6,379.4 583.3,377.5 584.0,375.6 584.6,373.8 585.3,371.9 586.0,370.0 586.6,368.1 587.3,366.2 587.9,364.3 588.5,362.3 589.1,360.4 589.7,358.5 590.3,356.6 590.9,354.7 591.5,352.8 592.0,350.8 592.6,348.9 593.1,347.0 593.7,345.0 594.2,343.1 594.7,341.2 595.2,339.2 595.7,337.3 596.2,335.3 596.6,333.4 597.1,331.4 597.5,329.5 598.0,327.5 598.4,325.6 598.8,323.6 599.3,321.7 599.7,319.7 600.1,317.7 600.5,315.8 600.8,313.8 601.2,311.8 601.6,309.9 601.9,307.9 602.3,305.9 602.6,304.0 603.0,302.0 603.3,300.0 603.6,298.0 603.9,296.1 604.2,294.1 604.5,292.1 604.8,290.1 605.1,288.1 605.3,286.1 605.6,284.2 605.9,282.2 606.1,280.2 606.4,278.2 606.6,276.2 606.8,274.2 607.0,272.2 607.3,270.2 607.5,268.2 607.7,266.3 607.9,264.3 608.0,262.3 608.2,260.3 608.4,258.3 608.6,256.3 608.7,254.3 608.9,252.3 609.0,250.3 609.2,248.3 609.3,246.3 609.5,244.3 609.6,242.3 609.7,240.3 609.8,238.3 609.9,236.3 610.0,234.3 610.1,232.3 610.2,230.3 610.3,228.3 610.4,226.3 610.5,224.3 610.6,222.3 610.6,220.3 610.7,218.3 610.7,216.3 610.8,214.3 610.8,212.3 610.9,210.3 610.9,208.3 611.0,206.3 611.0,204.3 611.0,202.3 611.0,200.3 611.0,198.3 611.1,196.3 611.1,194.3 611.1,192.3 611.1,190.3 611.1,188.3 611.1,186.3 611.0,184.3 611.0,182.3 611.0,180.3 611.0,178.3 611.0,176.2 610.9,174.2 610.9,172.2 610.8,170.2 610.8,168.2 610.8,166.2 610.7,164.2 610.7,162.2 610.6,160.2 610.6,158.2 610.5,156.2 610.4,154.2 610.4,152.2 610.3,150.2 610.2,148.2 610.1,146.2 610.1,144.2 610.0,142.2 609.9,140.2 609.8,138.1 609.7,136.1 609.6,134.1 609.6,132.1 609.5,130.1 609.4,128.1 609.3,126.1 609.2,124.1 609.1,122.1 609.0,120.1 608.9,118.1 608.7,116.1 608.6,114.1 608.5,112.1 608.4,110.1 608.3,108.1 608.2,106.1 608.1,104.1 608.0,102.1 607.8,100.1 607.7,98.1 607.6,96.1 607.5,94.1 607.3,92.0 607.2,90.0 607.1,88.0 607.0,86.0 606.9,84.0 606.7,82.0 606.6,80.0 606.5,78.0 606.3,76.0 606.2,74.0 606.1,72.0 606.0,70.0 605.8,68.0 605.7,66.0 605.6,64.0 605.4,62.0 605.3,60.0 605.2,58.0 605.1,56.0 604.9,54.0 604.8,52.0 604.7,50.0 604.6,48.0 604.4,46.0 604.3,44.1 604.2,42.1 604.1,40.1 603.9,38.1 603.8,36.1 603.7,34.1 603.6,32.1 603.4,30.1 603.3,28.1" stroke="#9467bd" stroke-width="1.40" stroke-dasharray="5.76,2.49"/>
<path d="M76.6,507.5 78.6,507.5 80.6,507.5 82.6,507.5 84.6,507.6 86.6,507.6 88.6,507.6 90.6,507.6 92.6,507.6 94.7,507.6 96.7,507.6 98.7,507.6 100.7,507.7 102.7,507.7 104.7,507.7 106.7,507.7 108.7,507.7 110.7,507.7 112.7,507.7 114.7,507.7 116.7,507.7 118.7,507.7 120.7,507.7 122.7,507.7 124.7,507.7 126.8,507.7 128.8,507.7 130.8,507.7 132.8,507.7 134.8,507.7 136.8,507.7 138.8,507.7 140.8,507.7 142.8,507.6 144.8,507.6 146.8,507.6 148.8,507.6 150.8,507.6 152.8,507.6 154.8,507.6 156.8,507.6 158.9,507.6 160.9,507.6 162.9,507.5 164.9,507.5 166.9,507.5 168.9,507.5 170.9,507.5 172.9,507.5 174.9,507.5 176.9,507.4 178.9,507.4 180.9,507.4 182.9,507.4 184.9,507.4 186.9,507.4 188.9,507.3 191.0,507.3 193.0,507.3 195.0,507.3 197.0,507.3 199.0,507.3 201.0,507.2 203.0,507.2 205.0,507.2 207.0,507.2 209.0,507.2 211.0,507.2 213.0,507.1 215.0,507.1 217.0,507.1 219.0,507.1 221.0,507.1 223.1,507.0 225.1,507.0 227.1,507.0 229.1,507.0 231.1,507.0 233.1,507.0 235.1,506.9 237.1,506.9 239.1,506.9 241.1,506.9 243.1,506.9 245.1,506.9 247.1,506.8 249.1,506.8 251.1,506.8 253.1,506.8 255.1,506.8 257.2,506.8 259.2,506.8 261.2,506.7 263.2,506.7 265.2,506.7 267.2,506.7 269.2,506.7 271.2,506.7 273.2,506.7 275.2,506.7 277.2,506.7 279.2,506.6 281.2,506.6 283.2,506.6 285.2,506.6 287.2,506.6 289.2,506.6 291.2,506.6 293.3,506.6 295.3,506.6 297.3,506.6 299.3,506.6 301.3,506.6 303.3,506.6 305.3,506.6 307.3,506.6 309.3,506.6 311.3,506.6 313.3,506.6 315.3,506.6 317.3,506.6 319.3,506.6 321.3,506.6 323.3,506.6 325.3,506.6 327.3,506.6 329.3,506.6 331.3,506.6 333.4,506.6 335.4,506.6 337.4,506.5 339.4,506.5 341.4,506.5 343.4,506.5 345.4,506.5 347.4,506.5 349.4,506.4 351.4,506.4 353.4,506.4 355.4,506.4 357.4,506.3 359.4,506.3 361.4,506.2 363.4,506.2 365.4,506.2 367.4,506.1 369.4,506.0 371.4,506.0 373.5,505.9 375.5,505.8 377.5,505.8 379.5,505.7 381.5,505.6 383.5,505.5 385.5,505.4 387.5,505.3 389.5,505.2 391.5,505.1 393.5,505.0 395.5,504.9 397.5,504.7 399.5,504.6 401.5,504.5 403.5,504.3 405.5,504.2 407.5,504.0 409.5,503.8 411.5,503.6 413.6,503.5 415.6,503.3 417.6,503.1 419.6,502.9 421.6,502.6 423.6,502.4 425.6,502.2 427.6,501.9 429.6,501.7 431.6,501.4 433.6,501.2 435.6,500.9 437.6,500.6 439.6,500.3 441.6,499.9 443.6,499.6 445.5,499.3 447.5,498.9 449.5,498.5 451.5,498.1 453.5,497.7 455.4,497.3 457.4,496.8 459.3,496.4 461.3,495.9 463.2,495.4 465.2,494.9 467.1,494.4 469.1,493.8 471.0,493.3 472.9,492.7 474.8,492.1 476.7,491.4 478.6,490.8 480.5,490.1 482.4,489.4 484.3,488.7 486.1,488.0 488.0,487.2 489.8,486.4 491.7,485.6 493.5,484.8 495.3,484.0 497.1,483.1 498.9,482.2 500.7,481.3 502.5,480.4 504.2,479.5 506.0,478.5 507.7,477.5 509.4,476.5 511.1,475.5 512.8,474.4 514.5,473.3 516.1,472.2 517.8,471.1 519.4,470.0 521.0,468.8 522.6,467.6 524.2,466.4 525.8,465.2 527.3,463.9 528.8,462.6 530.3,461.3 531.8,460.0 533.3,458.7 534.8,457.3 536.2,455.9 537.6,454.6 539.0,453.1 540.4,451.7 541.8,450.2 543.1,448.8 544.5,447.3 545.8,445.8 547.1,444.3 548.4,442.7 549.7,441.2 550.9,439.6 552.1,438.0 553.3,436.4 554.5,434.8 555.7,433.2 556.9,431.5 558.0,429.9 559.2,428.2 560.3,426.5 561.4,424.8 562.4,423.1 563.5,421.4 564.5,419.7 565.6,418.0 566.6,416.2 567.6,414.5 568.5,412.7 569.5,410.9 570.5,409.2 571.4,407.4 572.3,405.6 573.2,403.8 574.1,402.0 575.0,400.1 575.8,398.3 576.7,396.5 577.5,394.6 578.3,392.8 579.1,390.9 579.9,389.1 580.7,387.2 581.4,385.4 582.2,383.5 582.9,381.6 583.6,379.7 584.4,377.8 585.1,376.0 585.7,374.1 586.4,372.2 587.1,370.3 587.8,368.4 588.4,366.5 589.0,364.5 589.7,362.6 590.3,360.7 590.9,358.8 591.5,356.9 592.1,355.0 592.6,353.0 593.2,351.1 593.7,349.2 594.3,347.2 594.8,345.3 595.3,343.4 595.8,341.4 596.4,339.5 596.8,337.5 597.3,335.6 597.8,333.6 598.3,331.7 598.7,329.7 599.2,327.8 599.6,325.8 600.0,323.9 600.4,321.9 600.9,319.9 601.3,318.0 601.7,316.0 602.0,314.0 602.4,312.1 602.8,310.1 603.1,308.1 603.5,306.1 603.8,304.2 604.2,302.2 604.5,300.2 604.8,298.2 605.1,296.2 605.4,294.2 605.7,292.3 606.0,290.3 606.3,288.3 606.5,286.3 606.8,284.3 607.1,282.3 607.3,280.3 607.6,278.3 607.8,276.4 608.0,274.4 608.2,272.4 608.5,270.4 608.7,268.4 608.9,266.4 609.1,264.4 609.2,262.4 609.4,260.4 609.6,258.4 609.8,256.4 609.9,254.4 610.1,252.4 610.2,250.4 610.4,248.4 610.5,246.4 610.7,244.4 610.8,242.4 610.9,240.4 611.0,238.4 611.1,236.4 611.2,234.4 611.3,232.4 611.4,230.4 611.5,228.4 611.6,226.4 611.7,224.4 611.7,222.4 611.8,220.4 611.9,218.4 611.9,216.4 612.0,214.4 612.0,212.4 612.1,210.4 612.1,208.4 612.2,206.4 612.2,204.3 612.2,202.3 612.2,200.3 612.2,198.3 612.3,196.3 612.3,194.3 612.3,192.3 612.3,190.3 612.3,188.3 612.3,186.3 612.2,184.3 612.2,182.3 612.2,180.3 612.2,178.3 612.2,176.3 612.1,174.3 612.1,172.3 612.0,170.3 612.0,168.2 612.0,166.2 611.9,164.2 611.9,162.2 611.8,160.2 611.7,158.2 611.7,156.2 611.6,154.2 611.6,152.2 611.5,150.2 611.4,148.2 611.3,146.2 611.3,144.2 611.2,142.2 611.1,140.2 611.0,138.1 610.9,136.1 610.8,134.1 610.8,132.1 610.7,130.1 610.6,128.1 610.5,126.1 610.4,124.1 610.3,122.1 610.2,120.1 610.1,118.1 609.9,116.1 609.8,114.1 609.7,112.1 609.6,110.1 609.5,108.1 609.4,106.1 609.3,104.0 609.2,102.0 609.0,100.0 608.9,98.0 608.8,96.0 608.7,94.0 608.6,92.0 608.4,90.0 608.3,88.0 608.2,86.0 608.1,84.0 607.9,82.0 607.8,80.0 607.7,78.0 607.5,76.0 607.4,74.0 607.3,72.0 607.2,70.0 607.0,68.0 606.9,66.0 606.8,64.0 606.6,62.0 606.5,60.0 606.4,58.0 606.3,56.0 606.1,54.0 606.0,52.0 605.9,50.0 605.7,48.0 605.6,46.0 605.5,44.0 605.4,42.0 605.2,40.0 605.1,38.0 605.0,36.0 604.9,34.0 604.8,32.0 604.6,30.0 604.5,28.0" stroke="#9467bd" stroke-width="1.40" stroke-dasharray="9.96,2.49,1.56,2.49"/>
<path d="M76.6,507.1 78.6,507.2 80.6,507.2 82.6,507.2 84.6,507.2 86.6,507.2 88.6,507.2 90.6,507.3 92.6,507.3 94.7,507.3 96.7,507.3 98.7,507.3 100.7,507.3 102.7,507.3 104.7,507.3 106.7,507.3 108.7,507.3 110.7,507.3 112.7,507.3 114.7,507.3 116.7,507.3 118.7,507.3 120.7,507.3 122.7,507.3 124.7,507.3 126.7,507.3 128.8,507.3 130.8,507.3 132.8,507.3 134.8,507.3 136.8,507.3 138.8,507.3 140.8,507.3 142.8,507.3 144.8,507.3 146.8,507.3 148.8,507.3 150.8,507.3 152.8,507.2 154.8,507.2 156.8,507.2 158.8,507.2 160.9,507.2 162.9,507.2 164.9,507.2 166.9,507.2 168.9,507.1 170.9,507.1 172.9,507.1 174.9,507.1 176.9,507.1 178.9,507.1 180.9,507.1 182.9,507.0 184.9,507.0 186.9,507.0 188.9,507.0 191.0,507.0 193.0,507.0 195.0,506.9 197.0,506.9 199.0,506.9 201.0,506.9 203.0,506.9 205.0,506.9 207.0,506.8 209.0,506.8 211.0,506.8 213.0,506.8 215.0,506.8 217.0,506.7 219.0,506.7 221.0,506.7 223.1,506.7 225.1,506.7 227.1,506.7 229.1,506.6 231.1,506.6 233.1,506.6 235.1,506.6 237.1,506.6 239.1,506.6 241.1,506.5 243.1,506.5 245.1,506.5 247.1,506.5 249.1,506.5 251.1,506.5 253.1,506.4 255.1,506.4 257.2,506.4 259.2,506.4 261.2,506.4 263.2,506.4 265.2,506.4 267.2,506.4 269.2,506.3 271.2,506.3 273.2,506.3 275.2,506.3 277.2,506.3 279.2,506.3 281.2,506.3 283.2,506.3 285.2,506.3 287.2,506.3 289.2,506.3 291.2,506.3 293.3,506.2 295.3,506.2 297.3,506.2 299.3,506.2 301.3,506.2 303.3,506.2 305.3,506.2 307.3,506.2 309.3,506.2 311.3,506.2 313.3,506.2 315.3,506.2 317.3,506.2 319.3,506.2 321.3,506.2 323.3,506.2 325.3,506.2 327.3,506.2 329.3,506.2 331.3,506.2 333.4,506.2 335.4,506.2 337.4,506.2 339.4,506.2 341.4,506.2 343.4,506.2 345.4,506.1 347.4,506.1 349.4,506.1 351.4,506.1 353.4,506.0 355.4,506.0 357.4,506.0 359.4,505.9 361.4,505.9 363.4,505.9 365.4,505.8 367.4,505.8 369.4,505.7 371.4,505.6 373.4,505.6 375.4,505.5 377.4,505.4 379.5,505.3 381.5,505.3 383.5,505.2 385.5,505.1 387.5,505.0 389.5,504.9 391.5,504.8 393.5,504.6 395.5,504.5 397.5,504.4 399.5,504.3 401.5,504.1 403.5,504.0 405.5,503.8 407.5,503.6 409.5,503.5 411.5,503.3 413.5,503.1 415.5,502.9 417.5,502.7 419.5,502.5 421.5,502.3 423.5,502.1 425.5,501.8 427.5,501.6 429.5,501.3 431.5,501.1 433.5,500.8 435.5,500.5 437.5,500.2 439.5,499.9 441.5,499.6 443.5,499.3 445.5,498.9 447.5,498.5 449.4,498.2 451.4,497.8 453.4,497.4 455.3,496.9 457.3,496.5 459.3,496.0 461.2,495.6 463.2,495.1 465.1,494.6 467.0,494.0 469.0,493.5 470.9,492.9 472.8,492.3 474.7,491.7 476.6,491.1 478.5,490.5 480.4,489.8 482.3,489.1 484.1,488.4 486.0,487.6 487.9,486.9 489.7,486.1 491.5,485.3 493.3,484.5 495.2,483.7 497.0,482.8 498.7,481.9 500.5,481.0 502.3,480.1 504.0,479.2 505.8,478.2 507.5,477.2 509.2,476.2 510.9,475.2 512.6,474.1 514.3,473.0 515.9,471.9 517.6,470.8 519.2,469.7 520.8,468.5 522.4,467.3 524.0,466.1 525.5,464.9 527.1,463.6 528.6,462.4 530.1,461.1 531.6,459.8 533.1,458.4 534.5,457.1 536.0,455.7 537.4,454.3 538.8,452.9 540.2,451.5 541.5,450.0 542.9,448.5 544.2,447.0 545.5,445.5 546.8,444.0 548.1,442.5 549.4,440.9 550.6,439.4 551.9,437.8 553.1,436.2 554.3,434.6 555.4,433.0 556.6,431.3 557.7,429.7 558.9,428.0 560.0,426.3 561.1,424.6 562.1,422.9 563.2,421.2 564.2,419.5 565.3,417.8 566.3,416.1 567.3,414.3 568.2,412.5 569.2,410.8 570.1,409.0 571.1,407.2 572.0,405.4 572.9,403.6 573.8,401.8 574.6,400.0 575.5,398.2 576.3,396.3 577.2,394.5 578.0,392.7 578.8,390.8 579.6,389.0 580.3,387.1 581.1,385.2 581.9,383.4 582.6,381.5 583.3,379.6 584.0,377.7 584.7,375.8 585.4,373.9 586.1,372.0 586.8,370.1 587.4,368.2 588.1,366.3 588.7,364.4 589.3,362.5 589.9,360.6 590.5,358.7 591.1,356.8 591.7,354.9 592.3,352.9 592.9,351.0 593.4,349.1 593.9,347.1 594.5,345.2 595.0,343.3 595.5,341.3 596.0,339.4 596.5,337.4 597.0,335.5 597.5,333.6 597.9,331.6 598.4,329.6 598.8,327.7 599.3,325.7 599.7,323.8 600.1,321.8 600.5,319.9 600.9,317.9 601.3,315.9 601.7,314.0 602.1,312.0 602.4,310.0 602.8,308.0 603.1,306.1 603.5,304.1 603.8,302.1 604.1,300.1 604.5,298.2 604.8,296.2 605.1,294.2 605.4,292.2 605.6,290.2 605.9,288.2 606.2,286.3 606.5,284.3 606.7,282.3 607.0,280.3 607.2,278.3 607.4,276.3 607.7,274.3 607.9,272.3 608.1,270.3 608.3,268.3 608.5,266.3 608.7,264.3 608.9,262.4 609.1,260.4 609.2,258.4 609.4,256.4 609.6,254.4 609.7,252.4 609.9,250.4 610.0,248.4 610.2,246.4 610.3,244.4 610.4,242.4 610.6,240.4 610.7,238.4 610.8,236.4 610.9,234.4 611.0,232.4 611.1,230.4 611.2,228.4 611.2,226.4 611.3,224.4 611.4,222.4 611.5,220.4 611.5,218.4 611.6,216.4 611.6,214.4 611.7,212.4 611.7,210.4 611.8,208.4 611.8,206.3 611.8,204.3 611.9,202.3 611.9,200.3 611.9,198.3 611.9,196.3 611.9,194.3 611.9,192.3 611.9,190.3 611.9,188.3 611.9,186.3 611.9,184.3 611.9,182.3 611.9,180.3 611.8,178.3 611.8,176.3 611.8,174.3 611.7,172.3 611.7,170.3 611.7,168.3 611.6,166.2 611.6,164.2 611.5,162.2 611.5,160.2 611.4,158.2 611.3,156.2 611.3,154.2 611.2,152.2 611.1,150.2 611.1,148.2 611.0,146.2 610.9,144.2 610.8,142.2 610.8,140.2 610.7,138.2 610.6,136.2 610.5,134.1 610.4,132.1 610.3,130.1 610.2,128.1 610.1,126.1 610.0,124.1 609.9,122.1 609.8,120.1 609.7,118.1 609.6,116.1 609.5,114.1 609.4,112.1 609.3,110.1 609.2,108.1 609.0,106.1 608.9,104.1 608.8,102.1 608.7,100.1 608.6,98.1 608.4,96.1 608.3,94.0 608.2,92.0 608.1,90.0 608.0,88.0 607.8,86.0 607.7,84.0 607.6,82.0 607.5,80.0 607.3,78.0 607.2,76.0 607.1,74.0 606.9,72.0 606.8,70.0 606.7,68.0 606.6,66.0 606.4,64.0 606.3,62.0 606.2,60.0 606.0,58.0 605.9,56.0 605.8,54.0 605.7,52.0 605.5,50.0 605.4,48.0 605.3,46.0 605.1,44.0 605.0,42.0 604.9,40.0 604.8,38.0 604.7,36.0 604.5,34.1 604.4,32.1 604.3,30.1 604.2,28.1" stroke="#9467bd" stroke-width="1.40" stroke-dasharray="1.56,2.57"/>
<path d="M76.0,505.9 78.0,505.8 80.0,505.7 82.0,505.6 84.0,505.5 86.0,505.4 88.0,505.4 90.0,505.3 92.0,505.3 94.0,505.2 96.0,505.2 98.0,505.1 100.0,505.1 102.0,505.1 104.0,505.0 106.0,505.0 108.1,505.0 110.1,504.9 112.1,504.9 114.1,504.9 116.1,504.9 118.1,504.9 120.1,504.8 122.1,504.8 124.1,504.8 126.1,504.8 128.1,504.8 130.1,504.7 132.2,504.7 134.2,504.7 136.2,504.7 138.2,504.6 140.2,504.6 142.2,504.5 144.2,504.5 146.2,504.5 148.2,504.4 150.2,504.3 152.2,504.3 154.2,504.2 156.2,504.1 158.3,504.1 160.3,504.0 162.3,503.9 164.3,503.8 166.3,503.7 168.3,503.5 170.3,503.4 172.3,503.3 174.3,503.1 176.3,503.0 178.3,502.8 180.2,502.6 182.2,502.4 184.2,502.2 186.2,502.0 188.2,501.8 190.2,501.6 192.2,501.4 194.2,501.1 196.2,500.9 198.1,500.6 200.1,500.3 202.1,500.1 204.1,499.8 206.1,499.5 208.1,499.2 210.0,498.9 212.0,498.6 214.0,498.3 216.0,498.0 217.9,497.6 219.9,497.3 221.9,496.9 223.9,496.6 225.8,496.3 227.8,495.9 229.8,495.5 231.8,495.2 233.7,494.8 235.7,494.4 237.7,494.0 239.6,493.6 241.6,493.2 243.6,492.8 245.5,492.4 247.5,492.0 249.5,491.6 251.4,491.2 253.4,490.8 255.3,490.3 257.3,489.9 259.3,489.5 261.2,489.0 263.2,488.6 265.1,488.1 267.1,487.6 269.0,487.2 271.0,486.7 272.9,486.2 274.9,485.7 276.8,485.2 278.8,484.7 280.7,484.2 282.6,483.7 284.6,483.2 286.5,482.7 288.5,482.1 290.4,481.6 292.3,481.0 294.2,480.5 296.2,479.9 298.1,479.3 300.0,478.8 301.9,478.2 303.8,477.6 305.7,476.9 307.6,476.3 309.5,475.7 311.4,475.0 313.3,474.4 315.2,473.7 317.1,473.0 318.9,472.3 320.8,471.6 322.7,470.9 324.5,470.2 326.4,469.4 328.2,468.6 330.1,467.9 331.9,467.1 333.8,466.3 335.6,465.5 337.4,464.7 339.3,463.9 341.1,463.1 342.9,462.2 344.7,461.4 346.6,460.6 348.4,459.7 350.2,458.9 352.1,458.1 353.9,457.3 355.7,456.5 357.6,455.6 359.4,454.8 361.2,454.0 363.1,453.2 365.0,452.5 366.8,451.7 368.7,450.9 370.5,450.2 372.4,449.5 374.3,448.7 376.2,448.0 378.1,447.3 380.0,446.6 381.9,445.9 383.8,445.2 385.7,444.5 387.5,443.8 389.4,443.1 391.3,442.3 393.1,441.6 395.0,440.8 396.8,440.0 398.6,439.2 400.4,438.4 402.2,437.5 404.0,436.6 405.7,435.7 407.4,434.8 409.1,433.8 410.8,432.7 412.4,431.6 414.0,430.5 415.6,429.3 417.2,428.1 418.7,426.8 420.2,425.5 421.7,424.1 423.1,422.7 424.6,421.3 426.0,419.9 427.4,418.4 428.8,416.9 430.1,415.4 431.5,413.9 432.8,412.4 434.1,410.9 435.4,409.3 436.6,407.7 437.9,406.1 439.1,404.5 440.2,402.9 441.3,401.3 442.4,399.6 443.4,397.9 444.4,396.2 445.3,394.4 446.2,392.7 446.9,390.9 447.7,389.0 448.3,387.2 448.9,385.3 449.4,383.4 449.8,381.5 450.2,379.5 450.5,377.6 450.8,375.6 450.9,373.6 451.1,371.6 451.1,369.6 451.1,367.6 451.1,365.5 451.0,363.5 450.8,361.5 450.6,359.5 450.3,357.5 449.9,355.4 449.5,353.4 449.1,351.5 448.6,349.5 448.1,347.5 447.5,345.6 446.8,343.7 446.2,341.8 445.4,339.9 444.7,338.1 443.8,336.3 443.0,334.5 442.1,332.7 441.2,331.0 440.3,329.2 439.3,327.5 438.4,325.7 437.4,324.0 436.4,322.3 435.4,320.6 434.4,318.8 433.5,317.1 432.5,315.3 431.5,313.6 430.6,311.8 429.6,310.1 428.6,308.4 427.6,306.6 426.6,304.9 425.5,303.2 424.4,301.5 423.3,299.8 422.2,298.1 421.0,296.5 419.8,294.8 418.6,293.2 417.3,291.6 416.1,290.0 414.8,288.4 413.5,286.9 412.3,285.3 411.1,283.7 409.9,282.0 408.8,280.4 407.8,278.7 406.8,277.0 405.9,275.3 405.1,273.5 404.4,271.7 403.7,269.8 403.1,268.0 402.6,266.1 402.1,264.2 401.6,262.2 401.2,260.3 400.8,258.3 400.5,256.3 400.2,254.3 399.8,252.4 399.5,250.4 399.2,248.4 398.9,246.4 398.6,244.4 398.3,242.4 398.0,240.4 397.7,238.4 397.4,236.4 397.1,234.5 396.8,232.5 396.5,230.5 396.2,228.5 395.8,226.5 395.5,224.6 395.1,222.6 394.8,220.6 394.4,218.7 394.0,216.7 393.6,214.8 393.2,212.8 392.7,210.9 392.2,208.9 391.8,207.0 391.2,205.1 390.7,203.1 390.2,201.2 389.6,199.3 389.0,197.4 388.3,195.5 387.7,193.6 387.0,191.7 386.3,189.8 385.6,188.0 384.9,186.1 384.1,184.2 383.4,182.4 382.6,180.5 381.8,178.7 381.0,176.9 380.2,175.0 379.3,173.2 378.5,171.4 377.6,169.5 376.8,167.7 375.9,165.9 375.0,164.1 374.1,162.3 373.2,160.5 372.3,158.7 371.4,156.9 370.4,155.1 369.5,153.3 368.6,151.6 367.6,149.8 366.7,148.0 365.8,146.2 364.8,144.5 363.9,142.7 362.9,141.0 361.9,139.2 361.0,137.5 360.0,135.7 359.0,134.0 358.0,132.2 357.0,130.5 356.1,128.7 355.1,127.0 354.1,125.3 353.0,123.6 352.0,121.8 351.0,120.1 350.0,118.4 349.0,116.7 347.9,115.0 346.9,113.2 345.9,111.5 344.8,109.8 343.8,108.1 342.7,106.4 341.6,104.7 340.6,103.0 339.5,101.3 338.4,99.6 337.3,98.0 336.3,96.3 335.2,94.6 334.1,92.9 333.0,91.2 331.9,89.5 330.8,87.9 329.7,86.2 328.6,84.5 327.5,82.8 326.4,81.2 325.2,79.5 324.1,77.8 323.0,76.1 321.9,74.5 320.8,72.8 319.6,71.1 318.5,69.5 317.4,67.8 316.3,66.1 315.1,64.5 314.0,62.8 312.9,61.2 311.8,59.5 310.6,57.8 309.5,56.2 308.4,54.5 307.2,52.9 306.1,51.2 305.0,49.5 303.9,47.9 302.7,46.2 301.6,44.6 300.5,42.9 299.4,41.3 298.2,39.6 297.1,37.9 296.0,36.3 294.9,34.6 293.8,33.0 292.7,31.3 291.6,29.6 290.5,28.0" stroke="#8c564b" stroke-width="1.40"/>
<path d="M76.0,505.5 78.0,505.4 80.0,505.3 82.0,505.2 84.0,505.2 86.0,505.1 88.0,505.0 90.0,505.0 92.0,504.9 94.0,504.9 96.0,504.8 98.0,504.8 100.0,504.8 102.0,504.7 104.1,504.7 106.1,504.7 108.1,504.6 110.1,504.6 112.1,504.6 114.1,504.6 116.1,504.5 118.1,504.5 120.1,504.5 122.1,504.5 124.1,504.5 126.1,504.4 128.1,504.4 130.2,504.4 132.2,504.4 134.2,504.3 136.2,504.3 138.2,504.3 140.2,504.2 142.2,504.2 144.2,504.1 146.2,504.1 148.2,504.0 150.2,504.0 152.2,503.9 154.2,503.8 156.2,503.7 158.2,503.7 160.2,503.6 162.2,503.5 164.2,503.4 166.2,503.3 168.2,503.1 170.2,503.0 172.2,502.9 174.2,502.7 176.2,502.6 178.2,502.4 180.2,502.3 182.2,502.1 184.2,501.9 186.2,501.7 188.2,501.5 190.2,501.3 192.2,501.1 194.2,500.8 196.2,500.6 198.1,500.4 200.1,500.1 202.1,499.8 204.1,499.6 206.1,499.3 208.1,499.0 210.0,498.7 212.0,498.4 214.0,498.1 216.0,497.8 218.0,497.5 219.9,497.1 221.9,496.8 223.9,496.4 225.9,496.1 227.8,495.7 229.8,495.4 231.8,495.0 233.7,494.6 235.7,494.2 237.7,493.8 239.6,493.4 241.6,493.0 243.6,492.6 245.5,492.2 247.5,491.8 249.4,491.3 251.4,490.9 253.4,490.5 255.3,490.0 257.3,489.6 259.2,489.1 261.2,488.6 263.1,488.2 265.1,487.7 267.0,487.2 269.0,486.7 270.9,486.2 272.9,485.8 274.8,485.3 276.7,484.8 278.7,484.2 280.6,483.7 282.6,483.2 284.5,482.7 286.4,482.2 288.4,481.6 290.3,481.1 292.2,480.5 294.1,480.0 296.1,479.4 298.0,478.8 299.9,478.3 301.8,477.7 303.7,477.1 305.6,476.5 307.5,475.8 309.4,475.2 311.3,474.6 313.2,473.9 315.1,473.2 317.0,472.6 318.8,471.9 320.7,471.2 322.6,470.5 324.4,469.7 326.3,469.0 328.1,468.2 330.0,467.5 331.8,466.7 333.7,465.9 335.5,465.1 337.4,464.3 339.2,463.5 341.0,462.7 342.9,461.9 344.7,461.1 346.5,460.2 348.3,459.4 350.2,458.6 352.0,457.8 353.9,457.0 355.7,456.2 357.5,455.4 359.4,454.6 361.2,453.8 363.1,453.0 364.9,452.2 366.8,451.4 368.7,450.7 370.5,449.9 372.4,449.2 374.3,448.4 376.2,447.7 378.1,447.0 379.9,446.3 381.8,445.6 383.7,444.9 385.6,444.1 387.4,443.4 389.3,442.7 391.2,441.9 393.0,441.2 394.8,440.4 396.6,439.6 398.5,438.8 400.3,437.9 402.0,437.1 403.8,436.2 405.5,435.3 407.3,434.3 409.0,433.3 410.6,432.3 412.3,431.2 413.9,430.1 415.5,429.0 417.1,427.8 418.7,426.6 420.2,425.3 421.7,424.0 423.2,422.7 424.7,421.3 426.2,419.9 427.7,418.6 429.1,417.1 430.5,415.7 432.0,414.3 433.4,412.9 434.8,411.4 436.2,410.0 437.6,408.6 439.0,407.1 440.3,405.6 441.7,404.2 443.0,402.7 444.2,401.1 445.4,399.6 446.5,398.0 447.6,396.4 448.6,394.7 449.6,393.0 450.5,391.3 451.3,389.5 452.0,387.6 452.7,385.8 453.3,383.9 453.8,382.0 454.2,380.0 454.6,378.0 454.9,376.1 455.1,374.1 455.3,372.1 455.4,370.1 455.4,368.1 455.3,366.1 455.2,364.2 455.0,362.2 454.7,360.2 454.4,358.3 454.0,356.3 453.5,354.4 453.1,352.4 452.5,350.5 452.0,348.6 451.4,346.7 450.7,344.8 450.0,343.0 449.3,341.1 448.6,339.3 447.8,337.4 447.0,335.6 446.2,333.8 445.4,332.0 444.5,330.2 443.6,328.4 442.7,326.7 441.7,324.9 440.8,323.2 439.8,321.4 438.8,319.7 437.7,318.0 436.7,316.3 435.6,314.6 434.5,312.9 433.4,311.2 432.3,309.6 431.2,307.9 430.0,306.3 428.9,304.6 427.7,303.0 426.5,301.3 425.3,299.7 424.1,298.1 422.9,296.5 421.7,294.9 420.5,293.2 419.4,291.6 418.2,290.0 417.1,288.3 416.0,286.6 414.9,284.9 413.9,283.2 412.9,281.5 411.9,279.7 411.0,278.0 410.2,276.1 409.4,274.3 408.7,272.5 408.0,270.6 407.4,268.7 406.8,266.8 406.2,264.9 405.7,262.9 405.3,261.0 404.9,259.0 404.6,257.1 404.3,255.1 404.0,253.1 403.8,251.1 403.6,249.1 403.5,247.1 403.3,245.1 403.2,243.1 403.1,241.1 402.9,239.1 402.8,237.1 402.6,235.1 402.4,233.1 402.2,231.1 401.9,229.1 401.6,227.1 401.3,225.2 401.0,223.2 400.6,221.2 400.2,219.2 399.7,217.3 399.3,215.3 398.8,213.3 398.3,211.4 397.8,209.4 397.3,207.5 396.7,205.6 396.1,203.6 395.6,201.7 395.0,199.8 394.4,197.9 393.7,196.0 393.1,194.1 392.5,192.2 391.8,190.3 391.1,188.4 390.4,186.5 389.7,184.7 389.0,182.8 388.3,180.9 387.6,179.1 386.8,177.2 386.1,175.4 385.3,173.5 384.5,171.7 383.7,169.9 382.9,168.1 382.1,166.2 381.3,164.4 380.4,162.6 379.6,160.8 378.7,159.0 377.9,157.2 377.0,155.4 376.1,153.6 375.2,151.8 374.3,150.0 373.4,148.3 372.5,146.5 371.5,144.7 370.6,143.0 369.6,141.2 368.7,139.4 367.7,137.7 366.8,135.9 365.8,134.2 364.8,132.5 363.8,130.7 362.8,129.0 361.8,127.3 360.8,125.5 359.7,123.8 358.7,122.1 357.7,120.4 356.6,118.6 355.6,116.9 354.6,115.2 353.5,113.5 352.4,111.8 351.4,110.1 350.3,108.4 349.2,106.7 348.1,105.0 347.1,103.3 346.0,101.6 344.9,99.9 343.8,98.2 342.7,96.6 341.6,94.9 340.5,93.2 339.4,91.5 338.3,89.8 337.1,88.2 336.0,86.5 334.9,84.8 333.8,83.2 332.7,81.5 331.5,79.8 330.4,78.2 329.3,76.5 328.2,74.8 327.0,73.2 325.9,71.5 324.8,69.8 323.6,68.2 322.5,66.5 321.4,64.9 320.2,63.2 319.1,61.6 318.0,59.9 316.9,58.2 315.7,56.6 314.6,54.9 313.5,53.3 312.3,51.6 311.2,50.0 310.1,48.3 309.0,46.7 307.9,45.0 306.8,43.4 305.6,41.7 304.5,40.1 303.4,38.4 302.3,36.8 301.2,35.1 300.1,33.4 299.0,31.8 297.9,30.1 296.9,28.5" stroke="#8c564b" stroke-width="1.40" stroke-dasharray="5.76,2.49"/>
<path d="M76.0,506.2 78.0,506.1 80.0,506.0 82.0,505.9 84.0,505.9 86.0,505.8 88.0,505.7 90.0,505.7 92.1,505.6 94.1,505.6 96.1,505.5 98.1,505.5 100.1,505.5 102.1,505.4 104.1,505.4 106.1,505.4 108.1,505.3 110.1,505.3 112.1,505.3 114.1,505.3 116.1,505.3 118.1,505.2 120.1,505.2 122.2,505.2 124.2,505.2 126.2,505.1 128.2,505.1 130.2,505.1 132.2,505.1 134.2,505.0 136.2,505.0 138.2,505.0 140.2,504.9 142.3,504.9 144.3,504.8 146.3,504.8 148.3,504.7 150.3,504.7 152.3,504.6 154.3,504.5 156.3,504.4 158.3,504.4 160.3,504.3 162.3,504.2 164.3,504.1 166.3,504.0 168.3,503.8 170.4,503.7 172.4,503.6 174.4,503.4 176.4,503.3 178.4,503.1 180.4,503.0 182.4,502.8 184.4,502.6 186.4,502.4 188.3,502.2 190.3,502.0 192.3,501.8 194.3,501.5 196.3,501.3 198.3,501.0 200.3,500.8 202.3,500.5 204.3,500.2 206.3,500.0 208.3,499.7 210.2,499.4 212.2,499.1 214.2,498.8 216.2,498.5 218.2,498.1 220.1,497.8 222.1,497.5 224.1,497.1 226.1,496.8 228.1,496.4 230.0,496.0 232.0,495.7 234.0,495.3 235.9,494.9 237.9,494.5 239.9,494.1 241.9,493.7 243.8,493.3 245.8,492.8 247.7,492.4 249.7,492.0 251.7,491.6 253.6,491.1 255.6,490.7 257.5,490.2 259.5,489.8 261.5,489.3 263.4,488.8 265.4,488.3 267.3,487.9 269.3,487.4 271.2,486.9 273.2,486.4 275.1,485.9 277.1,485.4 279.0,484.9 280.9,484.4 282.9,483.9 284.8,483.3 286.8,482.8 288.7,482.3 290.6,481.7 292.6,481.2 294.5,480.6 296.4,480.0 298.3,479.5 300.2,478.9 302.2,478.3 304.1,477.7 306.0,477.1 307.9,476.4 309.8,475.8 311.7,475.2 313.6,474.5 315.5,473.8 317.4,473.2 319.2,472.5 321.1,471.8 323.0,471.0 324.9,470.3 326.7,469.6 328.6,468.8 330.4,468.0 332.3,467.3 334.1,466.5 336.0,465.7 337.8,464.9 339.6,464.1 341.5,463.3 343.3,462.5 345.1,461.6 347.0,460.8 348.8,460.0 350.6,459.2 352.5,458.4 354.3,457.6 356.2,456.7 358.0,455.9 359.8,455.1 361.7,454.3 363.5,453.5 365.4,452.8 367.3,452.0 369.1,451.2 371.0,450.5 372.9,449.7 374.7,449.0 376.6,448.3 378.5,447.6 380.4,446.9 382.3,446.1 384.1,445.4 386.0,444.7 387.9,444.0 389.8,443.2 391.6,442.5 393.5,441.7 395.3,440.9 397.1,440.1 398.9,439.3 400.7,438.5 402.5,437.6 404.3,436.7 406.1,435.8 407.8,434.8 409.5,433.8 411.2,432.8 412.9,431.7 414.5,430.6 416.1,429.4 417.7,428.2 419.3,427.0 420.9,425.7 422.4,424.4 423.9,423.1 425.4,421.7 426.9,420.3 428.3,418.9 429.8,417.5 431.3,416.1 432.7,414.7 434.1,413.3 435.6,411.8 437.0,410.4 438.4,409.0 439.8,407.6 441.2,406.1 442.6,404.6 443.9,403.1 445.2,401.6 446.4,400.1 447.6,398.5 448.7,396.9 449.8,395.2 450.8,393.5 451.8,391.7 452.6,389.9 453.4,388.1 454.1,386.2 454.7,384.3 455.3,382.4 455.8,380.4 456.2,378.4 456.5,376.4 456.8,374.4 457.0,372.4 457.1,370.4 457.1,368.4 457.0,366.4 456.9,364.4 456.7,362.4 456.4,360.4 456.1,358.4 455.7,356.4 455.3,354.5 454.8,352.5 454.3,350.6 453.7,348.6 453.1,346.7 452.5,344.8 451.8,342.9 451.1,341.1 450.3,339.2 449.6,337.4 448.8,335.5 447.9,333.7 447.1,331.9 446.2,330.1 445.3,328.3 444.4,326.5 443.4,324.8 442.5,323.0 441.5,321.3 440.5,319.5 439.4,317.8 438.4,316.1 437.3,314.4 436.2,312.7 435.1,311.0 434.0,309.4 432.9,307.7 431.7,306.0 430.6,304.4 429.4,302.7 428.2,301.1 427.0,299.5 425.8,297.9 424.6,296.2 423.4,294.6 422.2,293.0 421.0,291.4 419.9,289.7 418.8,288.1 417.7,286.4 416.6,284.7 415.6,283.0 414.6,281.3 413.6,279.6 412.8,277.8 411.9,276.0 411.1,274.2 410.4,272.4 409.7,270.5 409.1,268.7 408.5,266.8 408.0,264.9 407.5,262.9 407.0,261.0 406.6,259.1 406.3,257.1 406.0,255.2 405.8,253.2 405.5,251.2 405.4,249.2 405.2,247.2 405.1,245.2 404.9,243.2 404.8,241.2 404.6,239.2 404.5,237.2 404.3,235.2 404.1,233.2 403.9,231.2 403.7,229.2 403.4,227.2 403.0,225.2 402.7,223.2 402.3,221.2 401.9,219.2 401.5,217.3 401.0,215.3 400.5,213.3 400.0,211.4 399.5,209.4 399.0,207.4 398.4,205.5 397.9,203.6 397.3,201.6 396.7,199.7 396.1,197.8 395.5,195.9 394.8,194.0 394.2,192.1 393.5,190.2 392.8,188.3 392.1,186.4 391.4,184.5 390.7,182.7 390.0,180.8 389.3,178.9 388.5,177.1 387.8,175.2 387.0,173.4 386.2,171.5 385.4,169.7 384.6,167.9 383.8,166.0 383.0,164.2 382.1,162.4 381.3,160.6 380.4,158.8 379.5,157.0 378.7,155.2 377.8,153.4 376.9,151.6 376.0,149.8 375.1,148.0 374.1,146.3 373.2,144.5 372.3,142.7 371.3,141.0 370.4,139.2 369.4,137.4 368.4,135.7 367.4,133.9 366.4,132.2 365.4,130.4 364.4,128.7 363.4,127.0 362.4,125.2 361.4,123.5 360.4,121.8 359.3,120.1 358.3,118.3 357.2,116.6 356.2,114.9 355.1,113.2 354.1,111.5 353.0,109.8 351.9,108.1 350.8,106.4 349.8,104.7 348.7,103.0 347.6,101.3 346.5,99.6 345.4,97.9 344.3,96.2 343.2,94.5 342.1,92.9 341.0,91.2 339.9,89.5 338.7,87.8 337.6,86.1 336.5,84.5 335.4,82.8 334.3,81.1 333.1,79.5 332.0,77.8 330.9,76.1 329.8,74.5 328.6,72.8 327.5,71.1 326.4,69.5 325.2,67.8 324.1,66.2 323.0,64.5 321.8,62.8 320.7,61.2 319.6,59.5 318.4,57.9 317.3,56.2 316.2,54.6 315.1,52.9 313.9,51.3 312.8,49.6 311.7,47.9 310.6,46.3 309.5,44.6 308.3,43.0 307.2,41.3 306.1,39.7 305.0,38.0 303.9,36.4 302.8,34.7 301.7,33.1 300.6,31.4 299.5,29.8 298.4,28.1" stroke="#8c564b" stroke-width="1.40" stroke-dasharray="9.96,2.49,1.56,2.49"/>
<path d="M76.0,505.8 78.0,505.7 80.0,505.7 82.0,505.6 84.0,505.5 86.0,505.5 88.0,505.4 90.0,505.3 92.0,505.3 94.0,505.2 96.1,505.2 98.1,505.2 100.1,505.1 102.1,505.1 104.1,505.1 106.1,505.0 108.1,505.0 110.1,505.0 112.1,504.9 114.1,504.9 116.1,504.9 118.1,504.9 120.1,504.9 122.2,504.8 124.2,504.8 126.2,504.8 128.2,504.8 130.2,504.7 132.2,504.7 134.2,504.7 136.2,504.6 138.2,504.6 140.2,504.6 142.2,504.5 144.3,504.5 146.3,504.4 148.3,504.4 150.3,504.3 152.3,504.2 154.3,504.2 156.3,504.1 158.3,504.0 160.3,503.9 162.3,503.8 164.3,503.7 166.3,503.6 168.3,503.5 170.3,503.4 172.3,503.2 174.3,503.1 176.3,502.9 178.3,502.8 180.3,502.6 182.3,502.4 184.3,502.2 186.3,502.0 188.3,501.8 190.3,501.6 192.3,501.4 194.3,501.2 196.3,500.9 198.3,500.7 200.3,500.4 202.2,500.2 204.2,499.9 206.2,499.6 208.2,499.3 210.2,499.0 212.2,498.7 214.1,498.4 216.1,498.1 218.1,497.8 220.1,497.4 222.1,497.1 224.0,496.8 226.0,496.4 228.0,496.0 230.0,495.7 231.9,495.3 233.9,494.9 235.9,494.5 237.8,494.1 239.8,493.7 241.8,493.3 243.7,492.9 245.7,492.5 247.7,492.1 249.6,491.7 251.6,491.2 253.6,490.8 255.5,490.3 257.5,489.9 259.4,489.4 261.4,489.0 263.3,488.5 265.3,488.0 267.2,487.5 269.2,487.0 271.1,486.6 273.1,486.1 275.0,485.6 277.0,485.1 278.9,484.5 280.9,484.0 282.8,483.5 284.7,483.0 286.7,482.5 288.6,481.9 290.5,481.4 292.5,480.8 294.4,480.3 296.3,479.7 298.2,479.1 300.1,478.5 302.1,477.9 304.0,477.3 305.9,476.7 307.8,476.1 309.7,475.5 311.6,474.8 313.5,474.2 315.4,473.5 317.2,472.8 319.1,472.1 321.0,471.4 322.9,470.7 324.7,470.0 326.6,469.2 328.4,468.5 330.3,467.7 332.1,466.9 334.0,466.2 335.8,465.4 337.7,464.6 339.5,463.8 341.3,463.0 343.2,462.1 345.0,461.3 346.8,460.5 348.7,459.7 350.5,458.9 352.3,458.0 354.2,457.2 356.0,456.4 357.9,455.6 359.7,454.8 361.6,454.0 363.4,453.2 365.3,452.4 367.1,451.7 369.0,450.9 370.9,450.2 372.7,449.4 374.6,448.7 376.5,448.0 378.4,447.3 380.3,446.5 382.1,445.8 384.0,445.1 385.9,444.4 387.8,443.6 389.6,442.9 391.5,442.1 393.3,441.4 395.2,440.6 397.0,439.8 398.8,439.0 400.6,438.1 402.4,437.3 404.1,436.4 405.9,435.4 407.6,434.5 409.3,433.5 411.0,432.5 412.7,431.4 414.3,430.3 415.9,429.1 417.5,427.9 419.1,426.7 420.6,425.4 422.2,424.1 423.7,422.8 425.2,421.4 426.6,420.1 428.1,418.7 429.6,417.3 431.0,415.9 432.5,414.4 433.9,413.0 435.3,411.6 436.8,410.2 438.2,408.7 439.6,407.3 441.0,405.9 442.3,404.4 443.6,402.9 444.9,401.4 446.1,399.9 447.3,398.3 448.5,396.7 449.5,395.0 450.5,393.3 451.4,391.6 452.3,389.8 453.1,388.0 453.8,386.1 454.4,384.2 455.0,382.3 455.4,380.3 455.8,378.3 456.2,376.4 456.4,374.4 456.6,372.4 456.7,370.4 456.7,368.4 456.7,366.4 456.5,364.4 456.3,362.4 456.1,360.4 455.8,358.5 455.4,356.5 455.0,354.5 454.5,352.6 453.9,350.7 453.4,348.7 452.8,346.8 452.1,344.9 451.5,343.1 450.7,341.2 450.0,339.3 449.2,337.5 448.5,335.7 447.6,333.8 446.8,332.0 445.9,330.2 445.0,328.5 444.1,326.7 443.1,324.9 442.2,323.2 441.2,321.4 440.2,319.7 439.1,318.0 438.1,316.3 437.0,314.6 435.9,312.9 434.8,311.2 433.7,309.5 432.6,307.9 431.4,306.2 430.3,304.6 429.1,302.9 427.9,301.3 426.7,299.7 425.5,298.1 424.3,296.4 423.1,294.8 421.9,293.2 420.8,291.6 419.6,289.9 418.5,288.3 417.4,286.6 416.3,284.9 415.3,283.2 414.3,281.5 413.3,279.7 412.4,278.0 411.6,276.2 410.8,274.3 410.1,272.5 409.4,270.6 408.7,268.8 408.2,266.9 407.6,265.0 407.1,263.0 406.7,261.1 406.3,259.1 405.9,257.2 405.7,255.2 405.4,253.2 405.2,251.2 405.0,249.3 404.9,247.3 404.7,245.3 404.6,243.3 404.4,241.3 404.3,239.2 404.1,237.2 404.0,235.2 403.8,233.2 403.6,231.2 403.3,229.2 403.0,227.2 402.7,225.3 402.3,223.3 402.0,221.3 401.5,219.3 401.1,217.3 400.7,215.4 400.2,213.4 399.7,211.4 399.2,209.5 398.6,207.5 398.1,205.6 397.5,203.7 396.9,201.7 396.3,199.8 395.7,197.9 395.1,196.0 394.5,194.1 393.8,192.2 393.2,190.3 392.5,188.4 391.8,186.5 391.1,184.7 390.4,182.8 389.7,180.9 388.9,179.1 388.2,177.2 387.4,175.4 386.7,173.5 385.9,171.7 385.1,169.8 384.3,168.0 383.5,166.2 382.6,164.4 381.8,162.6 381.0,160.7 380.1,158.9 379.2,157.1 378.4,155.3 377.5,153.5 376.6,151.8 375.7,150.0 374.7,148.2 373.8,146.4 372.9,144.7 372.0,142.9 371.0,141.1 370.0,139.4 369.1,137.6 368.1,135.9 367.1,134.1 366.1,132.4 365.1,130.6 364.1,128.9 363.1,127.1 362.1,125.4 361.1,123.7 360.1,122.0 359.0,120.2 358.0,118.5 356.9,116.8 355.9,115.1 354.8,113.4 353.8,111.7 352.7,110.0 351.6,108.3 350.6,106.6 349.5,104.9 348.4,103.2 347.3,101.5 346.2,99.8 345.1,98.1 344.0,96.4 342.9,94.7 341.8,93.1 340.7,91.4 339.6,89.7 338.5,88.0 337.3,86.3 336.2,84.7 335.1,83.0 334.0,81.3 332.9,79.7 331.7,78.0 330.6,76.3 329.5,74.7 328.3,73.0 327.2,71.3 326.1,69.7 324.9,68.0 323.8,66.4 322.7,64.7 321.5,63.0 320.4,61.4 319.3,59.7 318.2,58.1 317.0,56.4 315.9,54.8 314.8,53.1 313.6,51.5 312.5,49.8 311.4,48.1 310.3,46.5 309.2,44.8 308.0,43.2 306.9,41.5 305.8,39.9 304.7,38.2 303.6,36.6 302.5,34.9 301.4,33.3 300.3,31.6 299.2,29.9 298.2,28.3" stroke="#8c564b" stroke-width="1.40" stroke-dasharray="1.56,2.57"/>
<path d="M76.0,505.2 78.0,505.2 80.0,505.2 82.0,505.1 84.0,505.1 86.0,505.1 88.0,505.0 90.0,505.0 92.1,505.0 94.1,504.9 96.1,504.9 98.1,504.8 100.1,504.8 102.1,504.7 104.1,504.6 106.1,504.6 108.1,504.5 110.1,504.5 112.1,504.4 114.1,504.4 116.1,504.3 118.1,504.2 120.1,504.2 122.1,504.1 124.1,504.1 126.1,504.0 128.1,504.0 130.1,504.0 132.1,503.9 134.1,503.9 136.1,503.8 138.2,503.8 140.2,503.8 142.2,503.7 144.2,503.7 146.2,503.7 148.2,503.6 150.2,503.6 152.2,503.5 154.2,503.4 156.2,503.4 158.2,503.3 160.2,503.2 162.3,503.1 164.3,503.1 166.3,503.0 168.3,502.8 170.3,502.7 172.3,502.6 174.3,502.4 176.3,502.3 178.3,502.1 180.3,501.9 182.3,501.7 184.3,501.5 186.2,501.3 188.2,501.1 190.2,500.8 192.2,500.5 194.2,500.3 196.2,500.0 198.1,499.7 200.1,499.3 202.1,499.0 204.1,498.7 206.0,498.3 208.0,497.9 209.9,497.5 211.9,497.1 213.9,496.7 215.8,496.2 217.7,495.7 219.7,495.3 221.6,494.8 223.5,494.3 225.5,493.7 227.4,493.2 229.3,492.6 231.2,492.0 233.1,491.4 235.0,490.8 236.9,490.2 238.8,489.5 240.7,488.9 242.6,488.2 244.5,487.5 246.4,486.9 248.3,486.2 250.1,485.4 252.0,484.7 253.9,484.0 255.7,483.3 257.6,482.5 259.5,481.8 261.3,481.0 263.2,480.2 265.1,479.5 266.9,478.7 268.8,477.9 270.6,477.1 272.5,476.4 274.3,475.6 276.2,474.8 278.0,474.0 279.9,473.2 281.7,472.4 283.6,471.6 285.4,470.9 287.3,470.1 289.1,469.3 291.0,468.5 292.8,467.7 294.6,466.9 296.5,466.1 298.3,465.3 300.2,464.5 302.0,463.7 303.9,462.9 305.7,462.2 307.5,461.4 309.4,460.6 311.2,459.8 313.1,459.0 314.9,458.2 316.7,457.4 318.6,456.6 320.4,455.8 322.3,455.0 324.1,454.2 326.0,453.4 327.8,452.6 329.6,451.9 331.5,451.1 333.3,450.3 335.2,449.5 337.0,448.7 338.8,447.9 340.7,447.1 342.5,446.3 344.4,445.6 346.2,444.8 348.1,444.0 349.9,443.2 351.8,442.4 353.6,441.7 355.4,440.9 357.3,440.1 359.1,439.3 361.0,438.6 362.8,437.8 364.7,437.0 366.5,436.3 368.4,435.5 370.2,434.7 372.1,434.0 373.9,433.2 375.8,432.5 377.7,431.7 379.5,431.0 381.4,430.2 383.2,429.5 385.1,428.7 386.9,428.0 388.8,427.2 390.7,426.5 392.5,425.7 394.4,425.0 396.2,424.2 398.1,423.5 400.0,422.8 401.8,422.0 403.7,421.3 405.6,420.6 407.4,419.8 409.3,419.1 411.2,418.3 413.1,417.6 414.9,416.9 416.8,416.2 418.7,415.4 420.5,414.7 422.4,413.9 424.3,413.2 426.1,412.5 428.0,411.7 429.9,410.9 431.7,410.2 433.6,409.4 435.4,408.6 437.3,407.8 439.1,407.0 440.9,406.1 442.7,405.3 444.5,404.4 446.3,403.5 448.1,402.6 449.9,401.7 451.6,400.7 453.4,399.7 455.1,398.7 456.9,397.7 458.6,396.6 460.3,395.6 461.9,394.4 463.6,393.3 465.3,392.1 466.9,390.9 468.5,389.7 470.1,388.4 471.7,387.1 473.2,385.8 474.7,384.4 476.2,383.0 477.6,381.6 479.1,380.2 480.4,378.7 481.8,377.2 483.1,375.7 484.3,374.1 485.6,372.5 486.7,370.9 487.9,369.3 488.9,367.6 490.0,366.0 490.9,364.3 491.9,362.5 492.7,360.8 493.5,359.0 494.3,357.2 495.0,355.4 495.6,353.6 496.1,351.7 496.6,349.9 497.0,348.0 497.4,346.1 497.7,344.2 498.0,342.2 498.2,340.3 498.4,338.3 498.5,336.4 498.6,334.4 498.6,332.4 498.6,330.4 498.6,328.4 498.5,326.4 498.4,324.3 498.2,322.3 498.1,320.3 497.9,318.2 497.7,316.2 497.4,314.2 497.2,312.1 496.9,310.1 496.6,308.1 496.3,306.0 496.0,304.0 495.7,302.0 495.3,300.0 495.0,298.0 494.6,296.0 494.3,293.9 493.9,291.9 493.5,290.0 493.2,288.0 492.8,286.0 492.4,284.0 491.9,282.0 491.5,280.1 491.1,278.1 490.7,276.1 490.2,274.2 489.7,272.2 489.3,270.3 488.8,268.3 488.3,266.4 487.8,264.4 487.3,262.5 486.8,260.6 486.2,258.7 485.7,256.7 485.2,254.8 484.6,252.9 484.0,251.0 483.4,249.1 482.8,247.2 482.2,245.3 481.6,243.4 481.0,241.5 480.4,239.6 479.7,237.8 479.1,235.9 478.4,234.0 477.7,232.2 477.0,230.3 476.3,228.4 475.6,226.6 474.9,224.7 474.1,222.9 473.4,221.0 472.6,219.2 471.9,217.4 471.1,215.5 470.3,213.7 469.5,211.9 468.7,210.1 467.8,208.2 467.0,206.4 466.1,204.6 465.3,202.8 464.4,201.0 463.5,199.2 462.6,197.4 461.7,195.6 460.8,193.8 459.8,192.1 458.9,190.3 457.9,188.5 457.0,186.7 456.0,184.9 455.1,183.2 454.1,181.4 453.1,179.6 452.1,177.9 451.1,176.1 450.1,174.3 449.1,172.6 448.1,170.8 447.1,169.1 446.1,167.3 445.1,165.6 444.1,163.8 443.1,162.1 442.2,160.3 441.2,158.6 440.2,156.8 439.2,155.1 438.2,153.3 437.2,151.6 436.2,149.8 435.2,148.1 434.2,146.3 433.2,144.6 432.2,142.9 431.2,141.1 430.2,139.4 429.2,137.7 428.2,135.9 427.2,134.2 426.2,132.5 425.2,130.8 424.2,129.1 423.2,127.3 422.1,125.6 421.1,123.9 420.1,122.2 419.0,120.5 418.0,118.8 416.9,117.1 415.8,115.4 414.8,113.8 413.7,112.1 412.6,110.4 411.5,108.7 410.4,107.1 409.3,105.4 408.2,103.7 407.0,102.1 405.9,100.4 404.8,98.8 403.6,97.1 402.5,95.5 401.3,93.8 400.2,92.2 399.0,90.5 397.9,88.9 396.7,87.3 395.5,85.6 394.4,84.0 393.2,82.3 392.0,80.7 390.8,79.1 389.7,77.4 388.5,75.8 387.3,74.2 386.1,72.6 385.0,70.9 383.8,69.3 382.6,67.7 381.4,66.0 380.3,64.4 379.1,62.7 377.9,61.1 376.8,59.5 375.6,57.8 374.5,56.2 373.3,54.6 372.2,52.9 371.0,51.3 369.9,49.6 368.7,48.0 367.6,46.3 366.5,44.6 365.4,43.0 364.3,41.3 363.2,39.7 362.1,38.0 361.0,36.3 359.9,34.6 358.8,33.0 357.7,31.3 356.7,29.6 355.6,27.9" stroke="#e377c2" stroke-width="1.40"/>
<path d="M76.0,504.7 78.0,504.7 80.0,504.8 82.0,504.8 84.0,504.8 86.0,504.8 88.1,504.8 90.1,504.7 92.1,504.7 94.1,504.7 96.1,504.6 98.1,504.6 100.1,504.5 102.1,504.4 104.1,504.4 106.1,504.3 108.1,504.2 110.1,504.2 112.1,504.1 114.1,504.0 116.1,503.9 118.1,503.9 120.1,503.8 122.1,503.7 124.1,503.7 126.1,503.6 128.1,503.6 130.1,503.5 132.1,503.5 134.2,503.5 136.2,503.4 138.2,503.4 140.2,503.3 142.2,503.3 144.2,503.3 146.2,503.2 148.2,503.2 150.2,503.2 152.3,503.1 154.3,503.1 156.3,503.0 158.3,503.0 160.3,502.9 162.3,502.8 164.3,502.7 166.3,502.6 168.3,502.5 170.3,502.4 172.3,502.3 174.3,502.1 176.3,502.0 178.3,501.8 180.3,501.6 182.3,501.4 184.3,501.2 186.3,501.0 188.3,500.8 190.2,500.5 192.2,500.2 194.2,500.0 196.2,499.7 198.2,499.3 200.1,499.0 202.1,498.7 204.1,498.3 206.0,497.9 208.0,497.5 209.9,497.1 211.9,496.7 213.9,496.3 215.8,495.8 217.7,495.4 219.7,494.9 221.6,494.4 223.5,493.9 225.5,493.3 227.4,492.8 229.3,492.2 231.2,491.6 233.1,491.1 235.0,490.5 236.9,489.8 238.8,489.2 240.7,488.6 242.6,487.9 244.5,487.2 246.4,486.6 248.3,485.9 250.2,485.2 252.0,484.5 253.9,483.7 255.8,483.0 257.7,482.3 259.5,481.5 261.4,480.8 263.2,480.0 265.1,479.3 267.0,478.5 268.8,477.8 270.7,477.0 272.5,476.2 274.4,475.4 276.2,474.6 278.1,473.8 279.9,473.0 281.8,472.3 283.6,471.5 285.5,470.7 287.3,469.9 289.2,469.1 291.0,468.3 292.8,467.5 294.7,466.7 296.5,465.9 298.4,465.1 300.2,464.3 302.1,463.5 303.9,462.7 305.7,461.9 307.6,461.1 309.4,460.2 311.2,459.4 313.1,458.6 314.9,457.8 316.8,457.0 318.6,456.2 320.4,455.4 322.3,454.6 324.1,453.8 325.9,453.0 327.8,452.2 329.6,451.4 331.5,450.6 333.3,449.8 335.1,449.0 337.0,448.2 338.8,447.4 340.7,446.6 342.5,445.8 344.4,445.1 346.2,444.3 348.0,443.5 349.9,442.7 351.7,441.9 353.6,441.1 355.4,440.4 357.3,439.6 359.1,438.8 361.0,438.1 362.8,437.3 364.7,436.5 366.5,435.8 368.4,435.0 370.3,434.3 372.1,433.5 374.0,432.8 375.9,432.0 377.7,431.3 379.6,430.6 381.4,429.8 383.3,429.1 385.2,428.4 387.1,427.6 388.9,426.9 390.8,426.2 392.7,425.4 394.5,424.7 396.4,424.0 398.3,423.3 400.1,422.5 402.0,421.8 403.9,421.1 405.7,420.3 407.6,419.6 409.5,418.9 411.3,418.1 413.2,417.4 415.1,416.6 416.9,415.9 418.8,415.1 420.7,414.4 422.5,413.6 424.4,412.8 426.2,412.1 428.1,411.3 429.9,410.5 431.8,409.7 433.6,408.9 435.4,408.1 437.3,407.3 439.1,406.5 441.0,405.7 442.8,404.9 444.6,404.0 446.4,403.2 448.3,402.4 450.1,401.5 451.9,400.6 453.7,399.8 455.5,398.9 457.3,398.0 459.1,397.1 460.9,396.2 462.7,395.2 464.5,394.3 466.3,393.3 468.0,392.4 469.8,391.4 471.6,390.4 473.3,389.4 475.0,388.4 476.7,387.3 478.4,386.3 480.1,385.1 481.7,384.0 483.2,382.8 484.7,381.6 486.2,380.3 487.6,378.9 488.9,377.5 490.1,376.1 491.3,374.6 492.4,373.0 493.5,371.3 494.5,369.7 495.4,367.9 496.2,366.2 497.0,364.4 497.7,362.5 498.4,360.6 499.0,358.7 499.5,356.8 500.0,354.9 500.4,352.9 500.7,350.9 501.0,348.9 501.3,346.9 501.5,344.9 501.6,342.9 501.8,340.9 501.8,338.8 501.9,336.8 501.9,334.8 501.9,332.8 501.8,330.7 501.7,328.7 501.6,326.7 501.5,324.7 501.4,322.7 501.2,320.7 501.1,318.7 500.9,316.8 500.7,314.8 500.5,312.8 500.3,310.8 500.0,308.8 499.8,306.9 499.6,304.9 499.3,302.9 499.1,300.9 498.8,298.9 498.6,296.9 498.3,295.0 498.0,293.0 497.8,291.0 497.5,289.0 497.2,287.0 496.9,285.0 496.6,283.0 496.2,281.1 495.9,279.1 495.6,277.1 495.2,275.1 494.8,273.1 494.5,271.2 494.1,269.2 493.7,267.2 493.2,265.3 492.8,263.3 492.4,261.4 491.9,259.4 491.4,257.5 490.9,255.5 490.4,253.6 489.9,251.6 489.4,249.7 488.8,247.8 488.3,245.9 487.7,244.0 487.1,242.0 486.5,240.1 485.8,238.2 485.2,236.3 484.5,234.4 483.9,232.6 483.2,230.7 482.5,228.8 481.8,226.9 481.1,225.0 480.4,223.2 479.6,221.3 478.9,219.4 478.1,217.6 477.4,215.7 476.6,213.9 475.8,212.0 475.0,210.2 474.2,208.4 473.4,206.5 472.6,204.7 471.7,202.9 470.9,201.1 470.1,199.2 469.2,197.4 468.3,195.6 467.5,193.8 466.6,192.0 465.7,190.2 464.8,188.4 464.0,186.6 463.1,184.8 462.1,183.0 461.2,181.3 460.3,179.5 459.4,177.7 458.5,175.9 457.5,174.2 456.6,172.4 455.6,170.6 454.7,168.9 453.7,167.1 452.7,165.4 451.8,163.6 450.8,161.9 449.8,160.1 448.8,158.4 447.8,156.6 446.8,154.9 445.8,153.2 444.8,151.4 443.8,149.7 442.8,148.0 441.7,146.3 440.7,144.5 439.7,142.8 438.6,141.1 437.6,139.4 436.5,137.7 435.5,136.0 434.4,134.3 433.4,132.6 432.3,130.9 431.2,129.2 430.2,127.5 429.1,125.8 428.0,124.1 426.9,122.4 425.8,120.7 424.7,119.0 423.7,117.3 422.6,115.7 421.5,114.0 420.4,112.3 419.2,110.6 418.1,108.9 417.0,107.3 415.9,105.6 414.8,103.9 413.7,102.3 412.6,100.6 411.4,98.9 410.3,97.3 409.2,95.6 408.0,93.9 406.9,92.3 405.8,90.6 404.6,89.0 403.5,87.3 402.3,85.7 401.2,84.0 400.1,82.4 398.9,80.7 397.8,79.1 396.6,77.4 395.5,75.8 394.3,74.1 393.2,72.5 392.0,70.8 390.9,69.2 389.7,67.5 388.6,65.9 387.4,64.3 386.2,62.6 385.1,61.0 383.9,59.3 382.8,57.7 381.6,56.1 380.5,54.4 379.3,52.8 378.1,51.2 377.0,49.5 375.8,47.9 374.7,46.3 373.5,44.6 372.4,43.0 371.2,41.4 370.1,39.7 368.9,38.1 367.8,36.5 366.6,34.8 365.5,33.2 364.3,31.6 363.2,29.9 362.0,28.3" stroke="#e377c2" stroke-width="1.40" stroke-dasharray="5.76,2.49"/>
<path d="M76.0,505.5 78.0,505.5 80.0,505.5 82.0,505.5 84.0,505.5 86.1,505.5 88.1,505.4 90.1,505.4 92.1,505.4 94.1,505.3 96.1,505.3 98.1,505.2 100.1,505.2 102.1,505.1 104.1,505.0 106.1,505.0 108.1,504.9 110.1,504.8 112.2,504.8 114.2,504.7 116.2,504.6 118.2,504.6 120.2,504.5 122.2,504.5 124.2,504.4 126.2,504.3 128.2,504.3 130.2,504.3 132.2,504.2 134.2,504.2 136.2,504.1 138.3,504.1 140.3,504.1 142.3,504.0 144.3,504.0 146.3,504.0 148.3,503.9 150.3,503.9 152.4,503.8 154.4,503.8 156.4,503.7 158.4,503.7 160.4,503.6 162.4,503.5 164.4,503.4 166.4,503.3 168.4,503.2 170.5,503.1 172.5,503.0 174.5,502.8 176.5,502.7 178.5,502.5 180.5,502.3 182.5,502.1 184.5,501.9 186.5,501.7 188.5,501.4 190.5,501.2 192.4,500.9 194.4,500.6 196.4,500.3 198.4,500.0 200.4,499.7 202.4,499.3 204.3,498.9 206.3,498.6 208.3,498.2 210.2,497.8 212.2,497.4 214.1,496.9 216.1,496.5 218.1,496.0 220.0,495.5 221.9,495.0 223.9,494.5 225.8,494.0 227.7,493.4 229.7,492.9 231.6,492.3 233.5,491.7 235.4,491.1 237.3,490.5 239.2,489.8 241.1,489.2 243.0,488.5 244.9,487.8 246.8,487.2 248.7,486.5 250.6,485.8 252.5,485.1 254.3,484.3 256.2,483.6 258.1,482.9 260.0,482.1 261.8,481.4 263.7,480.6 265.6,479.9 267.4,479.1 269.3,478.3 271.1,477.6 273.0,476.8 274.9,476.0 276.7,475.2 278.6,474.4 280.4,473.6 282.3,472.8 284.1,472.0 286.0,471.2 287.8,470.4 289.7,469.6 291.5,468.8 293.3,468.0 295.2,467.2 297.0,466.4 298.9,465.6 300.7,464.8 302.6,464.0 304.4,463.2 306.2,462.4 308.1,461.6 309.9,460.8 311.8,460.0 313.6,459.2 315.4,458.4 317.3,457.6 319.1,456.7 321.0,455.9 322.8,455.1 324.6,454.3 326.5,453.5 328.3,452.7 330.2,451.9 332.0,451.1 333.8,450.3 335.7,449.5 337.5,448.7 339.4,447.9 341.2,447.1 343.1,446.4 344.9,445.6 346.7,444.8 348.6,444.0 350.4,443.2 352.3,442.4 354.1,441.6 356.0,440.9 357.8,440.1 359.7,439.3 361.5,438.6 363.4,437.8 365.2,437.0 367.1,436.3 369.0,435.5 370.8,434.8 372.7,434.0 374.6,433.3 376.4,432.5 378.3,431.8 380.1,431.1 382.0,430.3 383.9,429.6 385.8,428.9 387.6,428.1 389.5,427.4 391.4,426.7 393.2,426.0 395.1,425.2 397.0,424.5 398.9,423.8 400.7,423.0 402.6,422.3 404.5,421.6 406.3,420.9 408.2,420.1 410.1,419.4 411.9,418.6 413.8,417.9 415.7,417.2 417.5,416.4 419.4,415.7 421.3,414.9 423.1,414.1 425.0,413.4 426.8,412.6 428.7,411.8 430.5,411.0 432.4,410.3 434.2,409.5 436.1,408.7 437.9,407.9 439.8,407.0 441.6,406.2 443.5,405.4 445.3,404.6 447.1,403.7 448.9,402.9 450.8,402.0 452.6,401.1 454.4,400.2 456.2,399.4 458.0,398.5 459.8,397.6 461.6,396.6 463.4,395.7 465.2,394.8 467.0,393.8 468.8,392.8 470.6,391.9 472.3,390.9 474.1,389.9 475.8,388.8 477.6,387.8 479.3,386.7 480.9,385.5 482.6,384.4 484.2,383.2 485.7,381.9 487.2,380.6 488.7,379.3 490.1,377.9 491.5,376.5 492.8,375.0 494.0,373.4 495.2,371.8 496.4,370.2 497.4,368.6 498.4,366.9 499.4,365.1 500.3,363.4 501.1,361.6 501.9,359.7 502.6,357.9 503.2,356.0 503.8,354.1 504.3,352.2 504.7,350.3 505.1,348.4 505.4,346.4 505.7,344.4 505.9,342.5 506.1,340.5 506.2,338.5 506.3,336.4 506.4,334.4 506.4,332.4 506.4,330.3 506.3,328.3 506.3,326.2 506.1,324.2 506.0,322.1 505.8,320.1 505.7,318.0 505.5,316.0 505.3,313.9 505.0,311.9 504.8,309.8 504.5,307.8 504.3,305.8 504.0,303.8 503.7,301.7 503.5,299.7 503.2,297.7 502.9,295.7 502.6,293.7 502.3,291.7 501.9,289.8 501.6,287.8 501.2,285.8 500.9,283.8 500.5,281.9 500.1,279.9 499.7,278.0 499.3,276.0 498.9,274.1 498.5,272.1 498.0,270.2 497.6,268.3 497.1,266.3 496.6,264.4 496.1,262.5 495.6,260.6 495.0,258.6 494.5,256.7 493.9,254.8 493.3,252.9 492.7,251.0 492.1,249.1 491.5,247.2 490.8,245.3 490.1,243.4 489.5,241.5 488.8,239.6 488.1,237.8 487.4,235.9 486.6,234.0 485.9,232.1 485.2,230.3 484.4,228.4 483.6,226.5 482.8,224.7 482.1,222.8 481.3,221.0 480.5,219.1 479.6,217.3 478.8,215.4 478.0,213.6 477.1,211.7 476.3,209.9 475.5,208.1 474.6,206.3 473.7,204.4 472.9,202.6 472.0,200.8 471.1,199.0 470.2,197.2 469.3,195.4 468.4,193.6 467.5,191.8 466.6,190.0 465.7,188.2 464.8,186.4 463.9,184.6 462.9,182.8 462.0,181.1 461.0,179.3 460.1,177.5 459.1,175.7 458.2,174.0 457.2,172.2 456.3,170.4 455.3,168.7 454.3,166.9 453.3,165.2 452.4,163.4 451.4,161.7 450.4,159.9 449.4,158.2 448.4,156.4 447.4,154.7 446.4,153.0 445.3,151.2 444.3,149.5 443.3,147.8 442.3,146.1 441.2,144.3 440.2,142.6 439.2,140.9 438.1,139.2 437.1,137.5 436.0,135.8 435.0,134.0 433.9,132.3 432.9,130.6 431.8,128.9 430.7,127.2 429.6,125.5 428.6,123.8 427.5,122.1 426.4,120.5 425.3,118.8 424.2,117.1 423.1,115.4 422.1,113.7 421.0,112.0 419.9,110.3 418.8,108.7 417.6,107.0 416.5,105.3 415.4,103.6 414.3,102.0 413.2,100.3 412.1,98.6 411.0,97.0 409.8,95.3 408.7,93.6 407.6,92.0 406.4,90.3 405.3,88.6 404.2,87.0 403.0,85.3 401.9,83.7 400.8,82.0 399.6,80.4 398.5,78.7 397.3,77.1 396.2,75.4 395.0,73.8 393.9,72.1 392.7,70.5 391.6,68.8 390.4,67.2 389.3,65.5 388.1,63.9 386.9,62.2 385.8,60.6 384.6,59.0 383.5,57.3 382.3,55.7 381.1,54.0 380.0,52.4 378.8,50.8 377.6,49.1 376.5,47.5 375.3,45.9 374.1,44.2 373.0,42.6 371.8,41.0 370.6,39.3 369.4,37.7 368.3,36.1 367.1,34.4 365.9,32.8 364.7,31.2 363.6,29.5 362.4,27.9" stroke="#e377c2" stroke-width="1.40" stroke-dasharray="9.96,2.49,1.56,2.49"/>
<path d="M76.0,505.1 78.0,505.1 80.0,505.1 82.0,505.1 84.0,505.1 86.1,505.1 88.1,505.1 90.1,505.1 92.1,505.0 94.1,505.0 96.1,504.9 98.1,504.9 100.1,504.8 102.1,504.8 104.1,504.7 106.1,504.6 108.1,504.6 110.1,504.5 112.1,504.4 114.1,504.4 116.2,504.3 118.2,504.2 120.2,504.2 122.2,504.1 124.2,504.1 126.2,504.0 128.2,504.0 130.2,503.9 132.2,503.9 134.2,503.8 136.2,503.8 138.3,503.8 140.3,503.7 142.3,503.7 144.3,503.7 146.3,503.6 148.3,503.6 150.3,503.5 152.3,503.5 154.4,503.4 156.4,503.4 158.4,503.3 160.4,503.2 162.4,503.2 164.4,503.1 166.4,503.0 168.4,502.9 170.4,502.7 172.4,502.6 174.4,502.5 176.4,502.3 178.4,502.1 180.4,502.0 182.4,501.8 184.4,501.5 186.4,501.3 188.4,501.1 190.4,500.8 192.4,500.5 194.4,500.3 196.4,500.0 198.3,499.6 200.3,499.3 202.3,499.0 204.3,498.6 206.2,498.2 208.2,497.8 210.2,497.4 212.1,497.0 214.1,496.6 216.0,496.1 218.0,495.7 219.9,495.2 221.8,494.7 223.8,494.2 225.7,493.6 227.6,493.1 229.6,492.5 231.5,491.9 233.4,491.3 235.3,490.7 237.2,490.1 239.1,489.5 241.0,488.8 242.9,488.2 244.8,487.5 246.7,486.8 248.6,486.1 250.5,485.4 252.3,484.7 254.2,484.0 256.1,483.3 258.0,482.6 259.8,481.8 261.7,481.1 263.6,480.3 265.4,479.5 267.3,478.8 269.1,478.0 271.0,477.2 272.9,476.4 274.7,475.7 276.6,474.9 278.4,474.1 280.3,473.3 282.1,472.5 284.0,471.7 285.8,470.9 287.7,470.1 289.5,469.3 291.4,468.5 293.2,467.7 295.0,466.9 296.9,466.1 298.7,465.3 300.6,464.5 302.4,463.7 304.3,462.9 306.1,462.1 307.9,461.3 309.8,460.5 311.6,459.7 313.5,458.8 315.3,458.0 317.1,457.2 319.0,456.4 320.8,455.6 322.7,454.8 324.5,454.0 326.3,453.2 328.2,452.4 330.0,451.6 331.9,450.8 333.7,450.0 335.5,449.2 337.4,448.4 339.2,447.6 341.1,446.8 342.9,446.0 344.8,445.2 346.6,444.5 348.5,443.7 350.3,442.9 352.1,442.1 354.0,441.3 355.8,440.6 357.7,439.8 359.6,439.0 361.4,438.2 363.3,437.5 365.1,436.7 367.0,436.0 368.8,435.2 370.7,434.5 372.6,433.7 374.4,433.0 376.3,432.2 378.2,431.5 380.0,430.7 381.9,430.0 383.8,429.3 385.6,428.5 387.5,427.8 389.4,427.1 391.2,426.4 393.1,425.6 395.0,424.9 396.9,424.2 398.7,423.5 400.6,422.7 402.5,422.0 404.3,421.3 406.2,420.5 408.1,419.8 409.9,419.1 411.8,418.3 413.7,417.6 415.5,416.8 417.4,416.1 419.3,415.3 421.1,414.6 423.0,413.8 424.8,413.0 426.7,412.3 428.6,411.5 430.4,410.7 432.3,409.9 434.1,409.1 436.0,408.3 437.8,407.5 439.6,406.7 441.5,405.9 443.3,405.1 445.1,404.2 447.0,403.4 448.8,402.5 450.6,401.7 452.4,400.8 454.3,399.9 456.1,399.0 457.9,398.1 459.7,397.2 461.5,396.3 463.3,395.4 465.1,394.5 466.8,393.5 468.6,392.5 470.4,391.6 472.2,390.6 473.9,389.6 475.7,388.5 477.4,387.5 479.1,386.4 480.7,385.3 482.4,384.1 483.9,382.9 485.5,381.7 487.0,380.4 488.5,379.1 489.9,377.7 491.2,376.2 492.5,374.7 493.8,373.2 494.9,371.6 496.1,370.0 497.1,368.4 498.1,366.7 499.1,365.0 500.0,363.2 500.8,361.4 501.5,359.6 502.2,357.8 502.9,355.9 503.4,354.0 503.9,352.1 504.4,350.2 504.7,348.3 505.1,346.4 505.3,344.4 505.6,342.4 505.8,340.4 505.9,338.4 506.0,336.4 506.0,334.4 506.1,332.4 506.0,330.3 506.0,328.3 505.9,326.3 505.8,324.2 505.7,322.2 505.5,320.1 505.3,318.1 505.1,316.0 504.9,314.0 504.7,311.9 504.4,309.9 504.2,307.9 503.9,305.8 503.7,303.8 503.4,301.8 503.1,299.8 502.8,297.8 502.5,295.8 502.2,293.8 501.9,291.8 501.6,289.8 501.2,287.8 500.9,285.9 500.5,283.9 500.2,282.0 499.8,280.0 499.4,278.0 499.0,276.1 498.6,274.2 498.1,272.2 497.7,270.3 497.2,268.3 496.7,266.4 496.3,264.5 495.7,262.6 495.2,260.7 494.7,258.7 494.1,256.8 493.6,254.9 493.0,253.0 492.4,251.1 491.8,249.2 491.1,247.3 490.5,245.4 489.8,243.5 489.1,241.6 488.5,239.8 487.8,237.9 487.0,236.0 486.3,234.1 485.6,232.3 484.8,230.4 484.1,228.5 483.3,226.7 482.5,224.8 481.7,223.0 480.9,221.1 480.1,219.3 479.3,217.4 478.5,215.6 477.7,213.7 476.8,211.9 476.0,210.1 475.1,208.2 474.3,206.4 473.4,204.6 472.5,202.8 471.7,201.0 470.8,199.1 469.9,197.3 469.0,195.5 468.1,193.7 467.2,191.9 466.3,190.1 465.4,188.4 464.5,186.6 463.5,184.8 462.6,183.0 461.7,181.2 460.7,179.4 459.8,177.7 458.8,175.9 457.9,174.1 456.9,172.4 456.0,170.6 455.0,168.8 454.0,167.1 453.0,165.3 452.1,163.6 451.1,161.8 450.1,160.1 449.1,158.4 448.1,156.6 447.1,154.9 446.1,153.1 445.0,151.4 444.0,149.7 443.0,148.0 442.0,146.2 440.9,144.5 439.9,142.8 438.9,141.1 437.8,139.4 436.8,137.6 435.7,135.9 434.7,134.2 433.6,132.5 432.6,130.8 431.5,129.1 430.4,127.4 429.3,125.7 428.3,124.0 427.2,122.3 426.1,120.6 425.0,119.0 423.9,117.3 422.9,115.6 421.8,113.9 420.7,112.2 419.6,110.5 418.5,108.9 417.4,107.2 416.2,105.5 415.1,103.8 414.0,102.2 412.9,100.5 411.8,98.8 410.7,97.1 409.5,95.5 408.4,93.8 407.3,92.2 406.2,90.5 405.0,88.8 403.9,87.2 402.8,85.5 401.6,83.9 400.5,82.2 399.3,80.6 398.2,78.9 397.0,77.3 395.9,75.6 394.7,74.0 393.6,72.3 392.4,70.7 391.3,69.0 390.1,67.4 389.0,65.7 387.8,64.1 386.7,62.4 385.5,60.8 384.3,59.2 383.2,57.5 382.0,55.9 380.8,54.2 379.7,52.6 378.5,51.0 377.3,49.3 376.2,47.7 375.0,46.1 373.8,44.4 372.7,42.8 371.5,41.2 370.3,39.5 369.2,37.9 368.0,36.3 366.8,34.6 365.6,33.0 364.5,31.4 363.3,29.7 362.1,28.1" stroke="#e377c2" stroke-width="1.40" stroke-dasharray="1.56,2.57"/>
<path d="M76.1,507.7 78.1,507.7 80.1,507.6 82.1,507.6 84.1,507.5 86.1,507.5 88.1,507.5 90.1,507.4 92.1,507.4 94.1,507.3 96.1,507.3 98.1,507.3 100.1,507.2 102.1,507.2 104.1,507.2 106.1,507.2 108.1,507.1 110.1,507.1 112.1,507.1 114.1,507.1 116.1,507.1 118.1,507.0 120.1,507.0 122.1,507.0 124.1,507.0 126.2,507.0 128.2,507.0 130.2,507.0 132.2,507.0 134.2,506.9 136.2,506.9 138.2,506.9 140.2,506.9 142.2,506.9 144.2,506.9 146.2,506.9 148.2,506.9 150.3,506.9 152.3,506.9 154.3,506.9 156.3,506.9 158.3,506.9 160.3,506.9 162.3,506.9 164.3,506.9 166.3,506.8 168.4,506.8 170.4,506.8 172.4,506.8 174.4,506.8 176.4,506.8 178.4,506.8 180.4,506.8 182.4,506.8 184.4,506.8 186.5,506.8 188.5,506.7 190.5,506.7 192.5,506.7 194.5,506.7 196.5,506.7 198.5,506.7 200.5,506.6 202.5,506.6 204.6,506.6 206.6,506.6 208.6,506.5 210.6,506.5 212.6,506.5 214.6,506.4 216.6,506.4 218.6,506.4 220.6,506.3 222.6,506.3 224.7,506.2 226.7,506.2 228.7,506.2 230.7,506.1 232.7,506.0 234.7,506.0 236.7,505.9 238.7,505.9 240.7,505.8 242.7,505.8 244.7,505.7 246.7,505.6 248.7,505.5 250.7,505.5 252.7,505.4 254.7,505.3 256.7,505.2 258.8,505.1 260.8,505.0 262.8,504.9 264.8,504.8 266.8,504.7 268.8,504.6 270.8,504.5 272.8,504.4 274.8,504.3 276.8,504.2 278.8,504.0 280.8,503.9 282.7,503.8 284.7,503.6 286.7,503.5 288.7,503.3 290.7,503.2 292.7,503.0 294.7,502.9 296.7,502.7 298.7,502.5 300.7,502.3 302.7,502.2 304.7,501.9 306.7,501.7 308.6,501.5 310.6,501.3 312.6,501.0 314.6,500.8 316.6,500.5 318.5,500.2 320.5,499.9 322.5,499.6 324.5,499.2 326.4,498.9 328.4,498.5 330.4,498.1 332.4,497.7 334.3,497.2 336.3,496.8 338.2,496.3 340.2,495.8 342.2,495.2 344.1,494.7 346.1,494.1 348.0,493.5 349.9,492.9 351.8,492.2 353.8,491.5 355.7,490.8 357.6,490.1 359.4,489.3 361.3,488.5 363.2,487.7 365.0,486.9 366.8,486.0 368.6,485.1 370.4,484.1 372.2,483.1 373.9,482.1 375.7,481.1 377.4,480.0 379.0,478.9 380.7,477.8 382.3,476.6 383.9,475.4 385.5,474.2 387.1,472.9 388.6,471.6 390.1,470.2 391.5,468.8 392.9,467.4 394.2,465.9 395.5,464.4 396.7,462.8 397.8,461.2 398.8,459.6 399.7,457.9 400.5,456.2 401.1,454.4 401.7,452.6 402.1,450.7 402.3,448.8 402.5,446.9 402.5,444.9 402.4,443.0 402.2,441.0 401.9,439.0 401.5,437.0 401.0,435.0 400.4,433.0 399.7,431.1 399.0,429.2 398.2,427.3 397.4,425.4 396.4,423.6 395.5,421.9 394.5,420.2 393.4,418.5 392.3,416.8 391.1,415.1 390.0,413.5 388.7,411.9 387.5,410.4 386.2,408.8 384.9,407.3 383.6,405.8 382.2,404.3 380.9,402.8 379.5,401.3 378.1,399.8 376.7,398.3 375.4,396.9 374.0,395.4 372.6,393.9 371.2,392.4 369.9,390.9 368.5,389.4 367.2,387.9 365.9,386.4 364.6,384.9 363.4,383.3 362.2,381.7 361.0,380.1 359.8,378.5 358.6,376.9 357.5,375.3 356.4,373.6 355.3,372.0 354.2,370.3 353.1,368.6 352.0,366.9 350.9,365.2 349.9,363.5 348.8,361.8 347.7,360.1 346.7,358.4 345.6,356.6 344.6,354.9 343.6,353.1 342.7,351.3 341.8,349.5 340.9,347.7 340.0,345.9 339.3,344.1 338.5,342.3 337.8,340.4 337.2,338.5 336.7,336.6 336.1,334.7 335.7,332.7 335.3,330.8 334.9,328.8 334.5,326.9 334.2,324.9 334.0,322.9 333.7,320.9 333.5,318.9 333.3,316.9 333.1,314.9 332.9,312.8 332.7,310.8 332.6,308.8 332.4,306.8 332.3,304.8 332.1,302.7 331.9,300.7 331.7,298.7 331.6,296.7 331.3,294.7 331.1,292.7 330.8,290.7 330.6,288.7 330.2,286.8 329.9,284.8 329.5,282.9 329.1,281.0 328.6,279.1 328.1,277.2 327.5,275.3 326.9,273.5 326.2,271.6 325.5,269.8 324.7,268.0 323.9,266.3 323.0,264.5 322.0,262.8 321.0,261.1 319.9,259.5 318.7,257.9 317.5,256.3 316.3,254.7 315.0,253.1 313.7,251.6 312.4,250.0 311.0,248.5 309.6,247.0 308.2,245.5 306.8,244.1 305.4,242.6 304.0,241.1 302.6,239.7 301.1,238.2 299.7,236.8 298.3,235.4 296.8,234.0 295.3,232.7 293.9,231.3 292.4,230.0 290.9,228.6 289.4,227.4 287.8,226.1 286.3,224.8 284.7,223.6 283.1,222.4 281.5,221.2 279.9,220.1 278.2,218.9 276.6,217.8 274.9,216.7 273.3,215.5 271.6,214.4 269.9,213.3 268.2,212.2 266.6,211.2 264.9,210.1 263.2,209.0 261.5,207.9 259.8,206.8 258.1,205.7 256.5,204.6 254.8,203.5 253.1,202.4 251.4,201.3 249.7,200.2 248.1,199.1 246.4,198.0 244.7,196.9 243.0,195.8 241.3,194.7 239.7,193.6 238.0,192.5 236.3,191.4 234.6,190.3 232.9,189.2 231.3,188.1 229.6,187.0 227.9,185.9 226.2,184.8 224.5,183.7 222.8,182.6 221.1,181.5 219.5,180.4 217.8,179.4 216.1,178.3 214.4,177.2 212.7,176.1 211.0,175.0 209.3,173.9 207.6,172.9 205.9,171.8 204.2,170.7 202.5,169.6 200.8,168.6 199.1,167.5 197.4,166.4 195.7,165.4 194.0,164.3 192.3,163.3 190.6,162.2 188.9,161.2 187.2,160.1 185.4,159.1 183.7,158.1 182.0,157.0 180.3,156.0 178.5,155.0 176.8,154.0 175.1,152.9 173.3,151.9 171.6,150.9 169.9,149.9 168.1,148.9 166.4,147.9 164.6,147.0 162.9,146.0 161.1,145.0 159.4,144.0 157.6,143.1 155.9,142.1 154.1,141.1 152.3,140.2 150.6,139.2 148.8,138.3 147.0,137.3 145.3,136.3 143.5,135.4 141.7,134.5 140.0,133.5 138.2,132.6 136.4,131.6 134.6,130.7 132.9,129.8 131.1,128.8 129.3,127.9 127.5,127.0 125.7,126.0 124.0,125.1 122.2,124.2 120.4,123.2 118.6,122.3 116.8,121.4 115.1,120.4 113.3,119.5 111.5,118.6 109.7,117.7 107.9,116.7 106.2,115.8 104.4,114.9 102.6,113.9 100.8,113.0 99.0,112.1 97.3,111.1 95.5,110.2 93.7,109.3 91.9,108.3 90.2,107.4 88.4,106.4 86.6,105.5 84.9,104.5 83.1,103.6 81.3,102.6 79.6,101.7 77.8,100.7 76.0,99.7" stroke="#7f7f7f" stroke-width="1.40"/>
<path d="M76.0,507.3 78.0,507.2 80.0,507.2 82.0,507.2 84.0,507.1 86.0,507.1 88.0,507.1 90.0,507.0 92.0,507.0 94.1,507.0 96.1,507.0 98.1,506.9 100.1,506.9 102.1,506.9 104.1,506.9 106.1,506.8 108.1,506.8 110.1,506.8 112.1,506.8 114.1,506.8 116.1,506.8 118.2,506.8 120.2,506.7 122.2,506.7 124.2,506.7 126.2,506.7 128.2,506.7 130.2,506.7 132.2,506.7 134.2,506.7 136.2,506.7 138.2,506.6 140.2,506.6 142.2,506.6 144.2,506.6 146.3,506.6 148.3,506.6 150.3,506.6 152.3,506.6 154.3,506.6 156.3,506.6 158.3,506.6 160.3,506.6 162.3,506.5 164.3,506.5 166.3,506.5 168.3,506.5 170.3,506.5 172.3,506.5 174.3,506.5 176.4,506.5 178.4,506.5 180.4,506.4 182.4,506.4 184.4,506.4 186.4,506.4 188.4,506.4 190.4,506.3 192.4,506.3 194.4,506.3 196.4,506.3 198.4,506.3 200.4,506.2 202.4,506.2 204.4,506.2 206.4,506.1 208.4,506.1 210.5,506.1 212.5,506.0 214.5,506.0 216.5,506.0 218.5,505.9 220.5,505.9 222.5,505.8 224.5,505.8 226.5,505.8 228.5,505.7 230.5,505.6 232.5,505.6 234.5,505.5 236.5,505.5 238.5,505.4 240.5,505.4 242.5,505.3 244.5,505.2 246.6,505.1 248.6,505.1 250.6,505.0 252.6,504.9 254.6,504.8 256.6,504.8 258.6,504.7 260.6,504.6 262.6,504.5 264.6,504.4 266.6,504.3 268.6,504.2 270.6,504.1 272.6,504.0 274.6,503.9 276.6,503.7 278.6,503.6 280.7,503.5 282.7,503.4 284.7,503.3 286.7,503.1 288.7,503.0 290.7,502.8 292.7,502.7 294.7,502.6 296.7,502.4 298.7,502.2 300.7,502.1 302.7,501.9 304.7,501.7 306.7,501.5 308.7,501.3 310.7,501.0 312.7,500.8 314.6,500.5 316.6,500.2 318.6,499.9 320.6,499.6 322.5,499.3 324.5,498.9 326.4,498.5 328.4,498.1 330.3,497.7 332.3,497.3 334.2,496.8 336.1,496.3 338.0,495.8 339.9,495.2 341.8,494.6 343.7,494.0 345.6,493.4 347.5,492.8 349.4,492.1 351.3,491.4 353.2,490.7 355.0,489.9 356.9,489.2 358.8,488.4 360.6,487.7 362.5,486.9 364.4,486.1 366.2,485.3 368.0,484.5 369.9,483.6 371.7,482.7 373.5,481.8 375.3,480.9 377.1,480.0 378.8,479.0 380.5,477.9 382.2,476.8 383.9,475.7 385.5,474.5 387.1,473.3 388.6,472.0 390.2,470.7 391.6,469.3 393.0,467.8 394.4,466.3 395.7,464.7 396.8,463.2 397.9,461.5 398.9,459.8 399.8,458.1 400.6,456.4 401.3,454.6 401.8,452.8 402.3,450.9 402.5,449.1 402.7,447.2 402.7,445.3 402.6,443.4 402.5,441.4 402.2,439.5 401.8,437.5 401.3,435.6 400.7,433.7 400.1,431.8 399.4,429.9 398.6,428.0 397.8,426.1 396.9,424.3 395.9,422.5 395.0,420.8 393.9,419.0 392.9,417.3 391.8,415.7 390.6,414.0 389.5,412.4 388.3,410.8 387.0,409.2 385.8,407.7 384.5,406.1 383.3,404.6 382.0,403.1 380.7,401.6 379.4,400.1 378.0,398.5 376.7,397.0 375.4,395.5 374.1,394.0 372.8,392.5 371.5,391.0 370.2,389.5 368.9,387.9 367.7,386.4 366.5,384.8 365.2,383.2 364.1,381.6 362.9,380.0 361.8,378.3 360.7,376.6 359.6,374.9 358.6,373.2 357.6,371.5 356.7,369.7 355.7,367.9 354.8,366.1 354.0,364.3 353.1,362.5 352.3,360.6 351.5,358.7 350.8,356.9 350.0,355.0 349.3,353.1 348.7,351.2 348.0,349.2 347.4,347.3 346.8,345.4 346.3,343.4 345.7,341.5 345.2,339.5 344.8,337.5 344.3,335.6 343.9,333.6 343.5,331.6 343.1,329.6 342.7,327.6 342.4,325.7 342.1,323.7 341.7,321.7 341.4,319.7 341.2,317.7 340.9,315.7 340.6,313.8 340.4,311.8 340.1,309.8 339.8,307.8 339.6,305.8 339.3,303.9 339.0,301.9 338.8,299.9 338.5,297.9 338.2,296.0 337.9,294.0 337.5,292.0 337.2,290.1 336.8,288.1 336.4,286.2 336.0,284.2 335.6,282.3 335.1,280.4 334.6,278.4 334.1,276.5 333.5,274.6 332.9,272.7 332.3,270.8 331.6,268.9 330.9,267.1 330.1,265.3 329.3,263.4 328.5,261.7 327.6,259.9 326.6,258.2 325.6,256.5 324.5,254.9 323.4,253.2 322.2,251.7 320.9,250.1 319.7,248.6 318.3,247.1 317.0,245.6 315.6,244.2 314.1,242.8 312.7,241.4 311.2,240.1 309.7,238.7 308.2,237.4 306.6,236.1 305.1,234.8 303.6,233.5 302.0,232.2 300.4,231.0 298.9,229.7 297.3,228.5 295.7,227.3 294.1,226.1 292.5,224.9 290.8,223.7 289.2,222.6 287.6,221.4 285.9,220.3 284.3,219.1 282.7,218.0 281.0,216.8 279.4,215.7 277.7,214.6 276.0,213.5 274.4,212.4 272.7,211.3 271.0,210.2 269.3,209.1 267.7,208.0 266.0,206.9 264.3,205.8 262.6,204.7 261.0,203.6 259.3,202.5 257.6,201.4 255.9,200.3 254.2,199.2 252.6,198.1 250.9,197.0 249.2,195.9 247.5,194.8 245.8,193.7 244.2,192.6 242.5,191.5 240.8,190.4 239.1,189.3 237.4,188.2 235.8,187.1 234.1,186.0 232.4,184.9 230.7,183.8 229.0,182.7 227.3,181.7 225.7,180.6 224.0,179.5 222.3,178.4 220.6,177.3 218.9,176.2 217.2,175.1 215.5,174.1 213.8,173.0 212.1,171.9 210.4,170.8 208.7,169.8 207.0,168.7 205.3,167.6 203.6,166.6 201.9,165.5 200.2,164.4 198.5,163.4 196.8,162.3 195.1,161.3 193.4,160.2 191.7,159.2 190.0,158.1 188.3,157.1 186.6,156.0 184.8,155.0 183.1,154.0 181.4,152.9 179.7,151.9 178.0,150.9 176.2,149.9 174.5,148.8 172.8,147.8 171.0,146.8 169.3,145.8 167.6,144.8 165.8,143.8 164.1,142.8 162.3,141.8 160.6,140.8 158.9,139.8 157.1,138.9 155.4,137.9 153.6,136.9 151.9,135.9 150.1,134.9 148.4,134.0 146.6,133.0 144.8,132.0 143.1,131.1 141.3,130.1 139.6,129.1 137.8,128.2 136.0,127.2 134.3,126.3 132.5,125.3 130.7,124.4 129.0,123.4 127.2,122.5 125.4,121.5 123.7,120.6 121.9,119.6 120.1,118.7 118.4,117.8 116.6,116.8 114.8,115.9 113.0,114.9 111.3,114.0 109.5,113.1 107.7,112.1 105.9,111.2 104.2,110.3 102.4,109.3 100.6,108.4 98.8,107.4 97.1,106.5 95.3,105.6 93.5,104.6 91.7,103.7 89.9,102.8 88.2,101.8 86.4,100.9 84.6,100.0 82.8,99.0 81.1,98.1 79.3,97.1 77.5,96.2 75.7,95.3" stroke="#7f7f7f" stroke-width="1.40" stroke-dasharray="5.76,2.49"/>
<path d="M76.0,508.1 78.0,508.0 80.0,508.0 82.0,507.9 84.0,507.9 86.1,507.8 88.1,507.8 90.1,507.8 92.1,507.7 94.1,507.7 96.1,507.7 98.1,507.6 100.1,507.6 102.1,507.6 104.1,507.5 106.1,507.5 108.1,507.5 110.1,507.5 112.1,507.5 114.1,507.4 116.1,507.4 118.1,507.4 120.1,507.4 122.1,507.4 124.2,507.4 126.2,507.3 128.2,507.3 130.2,507.3 132.2,507.3 134.2,507.3 136.2,507.3 138.2,507.3 140.2,507.3 142.2,507.3 144.2,507.3 146.2,507.3 148.2,507.3 150.2,507.3 152.3,507.2 154.3,507.2 156.3,507.2 158.3,507.2 160.3,507.2 162.3,507.2 164.3,507.2 166.3,507.2 168.3,507.2 170.3,507.2 172.3,507.2 174.3,507.2 176.3,507.2 178.4,507.2 180.4,507.1 182.4,507.1 184.4,507.1 186.4,507.1 188.4,507.1 190.4,507.1 192.4,507.1 194.4,507.0 196.4,507.0 198.4,507.0 200.4,507.0 202.5,507.0 204.5,506.9 206.5,506.9 208.5,506.9 210.5,506.8 212.5,506.8 214.5,506.8 216.5,506.7 218.5,506.7 220.5,506.7 222.5,506.6 224.5,506.6 226.5,506.5 228.5,506.5 230.6,506.4 232.6,506.4 234.6,506.3 236.6,506.3 238.6,506.2 240.6,506.1 242.6,506.1 244.6,506.0 246.6,505.9 248.6,505.8 250.6,505.8 252.6,505.7 254.6,505.6 256.6,505.5 258.6,505.4 260.6,505.3 262.6,505.2 264.6,505.1 266.6,505.0 268.7,504.9 270.7,504.8 272.7,504.7 274.7,504.6 276.7,504.4 278.7,504.3 280.7,504.2 282.7,504.0 284.7,503.9 286.7,503.8 288.7,503.6 290.7,503.4 292.7,503.3 294.7,503.1 296.7,503.0 298.7,502.8 300.7,502.6 302.7,502.4 304.7,502.2 306.7,502.0 308.7,501.7 310.6,501.5 312.6,501.2 314.6,501.0 316.6,500.7 318.6,500.4 320.6,500.1 322.5,499.8 324.5,499.4 326.5,499.0 328.4,498.7 330.4,498.3 332.4,497.8 334.3,497.4 336.3,496.9 338.2,496.4 340.1,495.9 342.1,495.4 344.0,494.8 345.9,494.3 347.9,493.7 349.8,493.0 351.7,492.4 353.6,491.7 355.5,491.0 357.3,490.3 359.2,489.5 361.1,488.8 362.9,488.0 364.8,487.2 366.6,486.3 368.5,485.5 370.3,484.6 372.1,483.7 373.9,482.7 375.7,481.8 377.4,480.8 379.2,479.8 381.0,478.7 382.7,477.7 384.4,476.6 386.1,475.5 387.8,474.4 389.5,473.2 391.2,472.0 392.8,470.8 394.4,469.5 396.0,468.2 397.4,466.8 398.8,465.4 400.2,463.9 401.4,462.4 402.5,460.7 403.5,459.1 404.4,457.4 405.1,455.6 405.7,453.8 406.2,451.9 406.5,450.0 406.7,448.1 406.8,446.1 406.8,444.2 406.6,442.2 406.4,440.2 406.0,438.2 405.6,436.2 405.1,434.2 404.5,432.2 403.8,430.3 403.1,428.4 402.3,426.5 401.5,424.6 400.6,422.8 399.6,421.0 398.7,419.2 397.6,417.5 396.6,415.8 395.5,414.1 394.3,412.4 393.2,410.8 392.0,409.2 390.8,407.5 389.5,406.0 388.3,404.4 387.0,402.8 385.7,401.3 384.5,399.7 383.2,398.2 381.9,396.6 380.6,395.1 379.3,393.5 378.0,392.0 376.7,390.4 375.4,388.9 374.2,387.3 372.9,385.8 371.7,384.2 370.5,382.6 369.3,381.0 368.2,379.3 367.1,377.7 365.9,376.0 364.9,374.3 363.8,372.7 362.8,370.9 361.7,369.2 360.7,367.5 359.7,365.8 358.7,364.0 357.7,362.3 356.8,360.5 355.8,358.8 354.8,357.0 353.9,355.2 352.9,353.5 352.0,351.7 351.1,349.9 350.2,348.1 349.4,346.3 348.6,344.5 347.8,342.7 347.1,340.8 346.4,339.0 345.7,337.1 345.1,335.3 344.6,333.4 344.1,331.5 343.6,329.6 343.2,327.6 342.8,325.7 342.4,323.8 342.1,321.8 341.8,319.8 341.5,317.9 341.2,315.9 340.9,313.9 340.7,311.9 340.5,309.9 340.2,307.9 340.0,305.9 339.8,303.9 339.6,301.9 339.3,299.9 339.1,297.9 338.8,295.9 338.6,293.9 338.3,291.9 338.0,289.9 337.6,287.9 337.3,285.9 336.9,283.9 336.5,282.0 336.0,280.0 335.5,278.0 335.0,276.1 334.4,274.2 333.8,272.3 333.2,270.4 332.5,268.5 331.7,266.7 330.9,264.8 330.1,263.0 329.2,261.3 328.2,259.5 327.2,257.8 326.1,256.1 325.0,254.5 323.8,252.9 322.6,251.3 321.3,249.8 320.0,248.2 318.7,246.7 317.3,245.3 315.9,243.8 314.5,242.4 313.0,241.0 311.6,239.6 310.1,238.2 308.6,236.9 307.1,235.6 305.5,234.2 304.0,233.0 302.4,231.7 300.9,230.4 299.3,229.2 297.7,227.9 296.1,226.7 294.5,225.5 292.9,224.3 291.3,223.1 289.7,222.0 288.0,220.8 286.4,219.6 284.7,218.5 283.1,217.4 281.4,216.2 279.8,215.1 278.1,214.0 276.4,212.9 274.8,211.8 273.1,210.7 271.4,209.6 269.7,208.5 268.1,207.4 266.4,206.3 264.7,205.2 263.0,204.1 261.3,203.0 259.7,201.9 258.0,200.8 256.3,199.7 254.6,198.6 252.9,197.5 251.2,196.4 249.6,195.3 247.9,194.2 246.2,193.1 244.5,192.0 242.8,190.9 241.2,189.8 239.5,188.7 237.8,187.6 236.1,186.5 234.4,185.4 232.7,184.3 231.1,183.3 229.4,182.2 227.7,181.1 226.0,180.0 224.3,178.9 222.6,177.8 220.9,176.7 219.3,175.6 217.6,174.6 215.9,173.5 214.2,172.4 212.5,171.3 210.8,170.2 209.1,169.2 207.4,168.1 205.7,167.0 204.0,166.0 202.3,164.9 200.6,163.8 198.9,162.8 197.2,161.7 195.5,160.7 193.8,159.6 192.1,158.6 190.3,157.5 188.6,156.5 186.9,155.4 185.2,154.4 183.5,153.4 181.8,152.3 180.0,151.3 178.3,150.3 176.6,149.2 174.9,148.2 173.1,147.2 171.4,146.2 169.7,145.2 167.9,144.2 166.2,143.2 164.4,142.2 162.7,141.2 161.0,140.2 159.2,139.2 157.5,138.2 155.7,137.3 154.0,136.3 152.2,135.3 150.5,134.3 148.7,133.4 146.9,132.4 145.2,131.4 143.4,130.5 141.7,129.5 139.9,128.5 138.1,127.6 136.4,126.6 134.6,125.7 132.8,124.7 131.1,123.8 129.3,122.8 127.5,121.9 125.8,120.9 124.0,120.0 122.2,119.0 120.4,118.1 118.7,117.1 116.9,116.2 115.1,115.3 113.3,114.3 111.6,113.4 109.8,112.4 108.0,111.5 106.2,110.6 104.5,109.6 102.7,108.7 100.9,107.8 99.1,106.8 97.4,105.9 95.6,105.0 93.8,104.0 92.0,103.1 90.3,102.2 88.5,101.2 86.7,100.3 84.9,99.3 83.2,98.4 81.4,97.5 79.6,96.5 77.9,95.6 76.1,94.6" stroke="#7f7f7f" stroke-width="1.40" stroke-dasharray="9.96,2.49,1.56,2.49"/>
<path d="M76.0,507.7 78.0,507.7 80.0,507.6 82.0,507.6 84.0,507.5 86.0,507.5 88.0,507.5 90.1,507.4 92.1,507.4 94.1,507.3 96.1,507.3 98.1,507.3 100.1,507.2 102.1,507.2 104.1,507.2 106.1,507.2 108.1,507.1 110.1,507.1 112.1,507.1 114.1,507.1 116.1,507.1 118.1,507.1 120.1,507.0 122.1,507.0 124.1,507.0 126.2,507.0 128.2,507.0 130.2,507.0 132.2,507.0 134.2,507.0 136.2,506.9 138.2,506.9 140.2,506.9 142.2,506.9 144.2,506.9 146.2,506.9 148.2,506.9 150.2,506.9 152.3,506.9 154.3,506.9 156.3,506.9 158.3,506.9 160.3,506.9 162.3,506.9 164.3,506.9 166.3,506.9 168.3,506.8 170.3,506.8 172.3,506.8 174.3,506.8 176.3,506.8 178.4,506.8 180.4,506.8 182.4,506.8 184.4,506.8 186.4,506.8 188.4,506.7 190.4,506.7 192.4,506.7 194.4,506.7 196.4,506.7 198.4,506.7 200.4,506.6 202.4,506.6 204.5,506.6 206.5,506.6 208.5,506.5 210.5,506.5 212.5,506.5 214.5,506.4 216.5,506.4 218.5,506.4 220.5,506.3 222.5,506.3 224.5,506.2 226.5,506.2 228.5,506.1 230.5,506.1 232.5,506.0 234.6,506.0 236.6,505.9 238.6,505.9 240.6,505.8 242.6,505.7 244.6,505.6 246.6,505.6 248.6,505.5 250.6,505.4 252.6,505.3 254.6,505.3 256.6,505.2 258.6,505.1 260.6,505.0 262.6,504.9 264.6,504.8 266.6,504.7 268.6,504.6 270.6,504.4 272.6,504.3 274.6,504.2 276.6,504.1 278.6,504.0 280.6,503.8 282.6,503.7 284.6,503.5 286.6,503.4 288.6,503.3 290.6,503.1 292.6,502.9 294.6,502.8 296.6,502.6 298.6,502.4 300.6,502.2 302.6,502.0 304.6,501.8 306.6,501.6 308.6,501.4 310.6,501.1 312.6,500.9 314.6,500.6 316.5,500.3 318.5,500.0 320.5,499.7 322.5,499.4 324.4,499.1 326.4,498.7 328.4,498.3 330.3,497.9 332.3,497.5 334.2,497.1 336.2,496.6 338.1,496.1 340.1,495.6 342.0,495.1 343.9,494.5 345.8,493.9 347.7,493.3 349.7,492.7 351.6,492.0 353.4,491.4 355.3,490.7 357.2,490.0 359.1,489.2 360.9,488.5 362.8,487.7 364.6,486.8 366.5,486.0 368.3,485.2 370.1,484.3 371.9,483.4 373.7,482.4 375.5,481.5 377.3,480.5 379.0,479.5 380.8,478.4 382.5,477.4 384.2,476.3 385.9,475.2 387.6,474.1 389.3,472.9 391.0,471.7 392.6,470.5 394.2,469.3 395.7,468.0 397.2,466.6 398.6,465.2 399.9,463.7 401.1,462.1 402.2,460.6 403.2,458.9 404.1,457.2 404.8,455.5 405.4,453.7 405.9,451.8 406.2,450.0 406.4,448.1 406.5,446.1 406.4,444.2 406.3,442.2 406.0,440.2 405.7,438.2 405.3,436.3 404.8,434.3 404.2,432.3 403.5,430.4 402.8,428.5 402.0,426.6 401.2,424.8 400.3,422.9 399.3,421.1 398.3,419.4 397.3,417.7 396.3,416.0 395.2,414.3 394.0,412.6 392.9,411.0 391.7,409.4 390.5,407.8 389.3,406.2 388.0,404.6 386.8,403.0 385.5,401.5 384.2,399.9 382.9,398.4 381.6,396.8 380.3,395.3 379.0,393.8 377.7,392.2 376.4,390.7 375.2,389.1 373.9,387.5 372.7,386.0 371.4,384.4 370.2,382.8 369.0,381.2 367.9,379.5 366.8,377.9 365.7,376.2 364.6,374.5 363.5,372.8 362.5,371.1 361.4,369.4 360.4,367.7 359.4,366.0 358.4,364.2 357.4,362.5 356.4,360.7 355.5,358.9 354.5,357.2 353.6,355.4 352.6,353.6 351.7,351.9 350.8,350.1 349.9,348.3 349.1,346.5 348.3,344.6 347.5,342.8 346.8,341.0 346.1,339.1 345.4,337.2 344.8,335.4 344.3,333.5 343.7,331.6 343.3,329.6 342.8,327.7 342.4,325.8 342.1,323.8 341.7,321.9 341.4,319.9 341.1,317.9 340.9,315.9 340.6,313.9 340.4,312.0 340.1,310.0 339.9,308.0 339.7,306.0 339.4,304.0 339.2,301.9 339.0,299.9 338.7,297.9 338.5,295.9 338.2,293.9 337.9,291.9 337.6,289.9 337.3,288.0 336.9,286.0 336.6,284.0 336.1,282.0 335.7,280.1 335.2,278.1 334.7,276.2 334.1,274.3 333.5,272.4 332.8,270.5 332.1,268.6 331.4,266.8 330.6,265.0 329.7,263.2 328.8,261.4 327.9,259.7 326.9,258.0 325.8,256.3 324.7,254.7 323.5,253.1 322.3,251.5 321.1,250.0 319.8,248.5 318.4,247.0 317.1,245.5 315.7,244.1 314.3,242.6 312.8,241.2 311.3,239.8 309.9,238.5 308.3,237.1 306.8,235.8 305.3,234.5 303.8,233.2 302.2,231.9 300.6,230.7 299.1,229.4 297.5,228.2 295.9,227.0 294.3,225.8 292.7,224.6 291.1,223.4 289.5,222.2 287.8,221.1 286.2,219.9 284.5,218.8 282.9,217.6 281.2,216.5 279.6,215.4 277.9,214.3 276.2,213.2 274.6,212.0 272.9,210.9 271.2,209.8 269.5,208.7 267.9,207.6 266.2,206.6 264.5,205.5 262.8,204.4 261.1,203.3 259.5,202.2 257.8,201.1 256.1,200.0 254.4,198.9 252.7,197.8 251.1,196.7 249.4,195.6 247.7,194.5 246.0,193.4 244.3,192.3 242.7,191.2 241.0,190.1 239.3,189.0 237.6,187.9 235.9,186.8 234.2,185.7 232.6,184.6 230.9,183.5 229.2,182.5 227.5,181.4 225.8,180.3 224.1,179.2 222.4,178.1 220.8,177.0 219.1,175.9 217.4,174.9 215.7,173.8 214.0,172.7 212.3,171.6 210.6,170.5 208.9,169.5 207.2,168.4 205.5,167.3 203.8,166.3 202.1,165.2 200.4,164.1 198.7,163.1 197.0,162.0 195.3,161.0 193.6,159.9 191.9,158.9 190.2,157.8 188.5,156.8 186.7,155.7 185.0,154.7 183.3,153.7 181.6,152.6 179.9,151.6 178.1,150.6 176.4,149.5 174.7,148.5 173.0,147.5 171.2,146.5 169.5,145.5 167.7,144.5 166.0,143.5 164.3,142.5 162.5,141.5 160.8,140.5 159.0,139.5 157.3,138.5 155.5,137.6 153.8,136.6 152.0,135.6 150.3,134.6 148.5,133.7 146.8,132.7 145.0,131.7 143.3,130.8 141.5,129.8 139.7,128.8 138.0,127.9 136.2,126.9 134.4,126.0 132.7,125.0 130.9,124.1 129.1,123.1 127.4,122.2 125.6,121.2 123.8,120.3 122.1,119.3 120.3,118.4 118.5,117.5 116.7,116.5 115.0,115.6 113.2,114.6 111.4,113.7 109.6,112.8 107.9,111.8 106.1,110.9 104.3,109.9 102.5,109.0 100.8,108.1 99.0,107.1 97.2,106.2 95.4,105.3 93.7,104.3 91.9,103.4 90.1,102.5 88.3,101.5 86.6,100.6 84.8,99.7 83.0,98.7 81.2,97.8 79.5,96.8 77.7,95.9 75.9,95.0" stroke="#7f7f7f" stroke-width="1.40" stroke-dasharray="1.56,2.57"/>
<path d="M76.0,507.6 78.0,507.6 80.0,507.6 82.0,507.6 84.0,507.6 86.0,507.6 88.0,507.5 90.0,507.5 92.0,507.5 94.0,507.5 96.1,507.5 98.1,507.5 100.1,507.5 102.1,507.5 104.1,507.5 106.1,507.5 108.1,507.5 110.1,507.4 112.1,507.4 114.1,507.4 116.1,507.4 118.1,507.4 120.1,507.4 122.1,507.4 124.1,507.4 126.2,507.4 128.2,507.4 130.2,507.4 132.2,507.4 134.2,507.4 136.2,507.4 138.2,507.4 140.2,507.4 142.2,507.4 144.2,507.4 146.2,507.4 148.2,507.4 150.2,507.4 152.2,507.4 154.2,507.4 156.2,507.4 158.2,507.4 160.2,507.4 162.2,507.4 164.2,507.4 166.2,507.4 168.2,507.4 170.3,507.3 172.3,507.3 174.3,507.3 176.3,507.3 178.3,507.3 180.3,507.3 182.3,507.3 184.3,507.3 186.3,507.3 188.3,507.3 190.3,507.3 192.3,507.3 194.3,507.3 196.3,507.3 198.3,507.3 200.3,507.2 202.3,507.2 204.3,507.2 206.3,507.2 208.3,507.2 210.3,507.2 212.3,507.2 214.3,507.1 216.3,507.1 218.3,507.1 220.3,507.1 222.3,507.1 224.4,507.0 226.4,507.0 228.4,507.0 230.4,507.0 232.4,506.9 234.4,506.9 236.4,506.9 238.4,506.9 240.4,506.8 242.4,506.8 244.4,506.8 246.4,506.7 248.4,506.7 250.4,506.7 252.4,506.6 254.4,506.6 256.4,506.6 258.4,506.5 260.4,506.5 262.4,506.4 264.5,506.4 266.5,506.3 268.5,506.3 270.5,506.2 272.5,506.2 274.5,506.1 276.5,506.1 278.5,506.0 280.5,506.0 282.5,505.9 284.5,505.8 286.5,505.8 288.5,505.7 290.6,505.6 292.6,505.6 294.6,505.5 296.6,505.4 298.6,505.3 300.6,505.2 302.6,505.2 304.6,505.1 306.6,505.0 308.6,504.9 310.6,504.8 312.6,504.7 314.6,504.5 316.6,504.4 318.6,504.3 320.6,504.2 322.6,504.0 324.6,503.9 326.6,503.7 328.6,503.6 330.6,503.4 332.6,503.2 334.6,503.0 336.6,502.8 338.6,502.7 340.6,502.4 342.6,502.2 344.6,502.0 346.5,501.8 348.5,501.5 350.5,501.3 352.5,501.0 354.5,500.8 356.4,500.5 358.4,500.2 360.4,499.9 362.4,499.6 364.3,499.2 366.3,498.9 368.3,498.6 370.2,498.2 372.2,497.8 374.1,497.5 376.1,497.1 378.0,496.6 380.0,496.2 381.9,495.8 383.9,495.3 385.8,494.9 387.8,494.4 389.7,493.9 391.6,493.4 393.6,492.9 395.5,492.3 397.4,491.7 399.3,491.1 401.3,490.5 403.2,489.8 405.1,489.1 407.0,488.4 408.9,487.6 410.8,486.8 412.7,486.0 414.6,485.1 416.4,484.2 418.3,483.3 420.1,482.3 421.9,481.3 423.6,480.2 425.3,479.1 426.9,478.0 428.5,476.7 430.1,475.5 431.5,474.2 433.0,472.8 434.3,471.4 435.7,470.0 436.9,468.5 438.1,467.0 439.3,465.5 440.4,463.9 441.5,462.2 442.5,460.6 443.5,458.9 444.5,457.2 445.4,455.4 446.3,453.6 447.1,451.8 447.9,450.0 448.7,448.2 449.4,446.3 450.1,444.4 450.8,442.5 451.4,440.6 452.1,438.7 452.7,436.8 453.2,434.8 453.8,432.9 454.3,430.9 454.8,429.0 455.3,427.0 455.8,425.1 456.2,423.1 456.7,421.1 457.1,419.2 457.5,417.2 457.9,415.2 458.3,413.2 458.7,411.3 459.0,409.3 459.3,407.3 459.7,405.3 460.0,403.4 460.3,401.4 460.5,399.4 460.8,397.4 461.0,395.4 461.3,393.5 461.5,391.5 461.7,389.5 461.9,387.5 462.1,385.5 462.3,383.5 462.5,381.5 462.6,379.5 462.8,377.5 462.9,375.5 463.1,373.5 463.2,371.6 463.3,369.6 463.4,367.6 463.5,365.6 463.6,363.6 463.7,361.6 463.7,359.6 463.8,357.5 463.9,355.5 463.9,353.5 464.0,351.5 464.0,349.5 464.0,347.5 464.1,345.5 464.1,343.5 464.1,341.5 464.1,339.5 464.1,337.5 464.1,335.5 464.1,333.5 464.1,331.5 464.1,329.4 464.1,327.4 464.1,325.4 464.1,323.4 464.1,321.4 464.0,319.4 464.0,317.4 464.0,315.3 464.0,313.3 463.9,311.3 463.9,309.3 463.8,307.3 463.8,305.3 463.7,303.3 463.7,301.3 463.6,299.3 463.5,297.2 463.4,295.2 463.3,293.2 463.2,291.2 463.1,289.2 463.0,287.2 462.9,285.2 462.8,283.2 462.6,281.2 462.5,279.2 462.3,277.2 462.2,275.2 462.0,273.2 461.8,271.2 461.6,269.2 461.4,267.2 461.2,265.2 461.0,263.3 460.8,261.3 460.5,259.3 460.3,257.3 460.0,255.3 459.7,253.4 459.5,251.4 459.2,249.4 458.8,247.4 458.5,245.5 458.2,243.5 457.8,241.6 457.5,239.6 457.1,237.6 456.7,235.7 456.3,233.7 455.9,231.8 455.4,229.9 455.0,227.9 454.5,226.0 454.0,224.0 453.5,222.1 453.0,220.2 452.5,218.3 451.9,216.4 451.4,214.4 450.8,212.5 450.2,210.6 449.6,208.7 449.0,206.8 448.4,204.9 447.8,203.0 447.1,201.1 446.5,199.2 445.8,197.3 445.1,195.5 444.4,193.6 443.7,191.7 443.0,189.8 442.3,187.9 441.6,186.1 440.8,184.2 440.1,182.3 439.3,180.5 438.6,178.6 437.8,176.7 437.0,174.9 436.2,173.0 435.4,171.2 434.6,169.3 433.9,167.4 433.0,165.6 432.2,163.7 431.4,161.9 430.6,160.1 429.8,158.2 429.0,156.4 428.1,154.5 427.3,152.7 426.5,150.8 425.7,149.0 424.8,147.2 424.0,145.3 423.2,143.5 422.3,141.6 421.5,139.8 420.7,138.0 419.8,136.1 419.0,134.3 418.2,132.5 417.3,130.6 416.5,128.8 415.7,127.0 414.9,125.1 414.1,123.3 413.2,121.5 412.4,119.6 411.6,117.8 410.8,116.0 410.0,114.1 409.2,112.3 408.4,110.5 407.6,108.6 406.9,106.8 406.1,105.0 405.3,103.1 404.5,101.3 403.7,99.5 402.9,97.6 402.1,95.8 401.3,94.0 400.6,92.1 399.8,90.3 399.0,88.5 398.2,86.6 397.4,84.8 396.6,83.0 395.8,81.1 395.1,79.3 394.3,77.5 393.5,75.6 392.7,73.8 391.9,72.0 391.1,70.2 390.3,68.3 389.5,66.5 388.7,64.7 387.9,62.8 387.1,61.0 386.2,59.2 385.4,57.3 384.6,55.5 383.8,53.7 382.9,51.8 382.1,50.0 381.3,48.2 380.4,46.3 379.6,44.5 378.7,42.7 377.9,40.9 377.0,39.0 376.1,37.2 375.3,35.4 374.4,33.5 373.5,31.7 372.6,29.9 371.7,28.0" stroke="#bcbd22" stroke-width="1.40"/>
<path d="M76.1,507.3 78.1,507.2 80.1,507.2 82.1,507.2 84.1,507.2 86.1,507.2 88.1,507.2 90.1,507.2 92.1,507.2 94.1,507.2 96.1,507.1 98.1,507.1 100.1,507.1 102.1,507.1 104.1,507.1 106.1,507.1 108.1,507.1 110.1,507.1 112.1,507.1 114.1,507.1 116.1,507.1 118.1,507.1 120.1,507.1 122.1,507.1 124.1,507.1 126.1,507.1 128.1,507.1 130.1,507.1 132.1,507.1 134.1,507.1 136.1,507.1 138.1,507.1 140.2,507.1 142.2,507.1 144.2,507.1 146.2,507.1 148.2,507.0 150.2,507.0 152.2,507.0 154.2,507.0 156.2,507.0 158.2,507.0 160.2,507.0 162.2,507.0 164.2,507.0 166.3,507.0 168.3,507.0 170.3,507.0 172.3,507.0 174.3,507.0 176.3,507.0 178.3,507.0 180.3,507.0 182.3,507.0 184.3,507.0 186.3,507.0 188.3,506.9 190.4,506.9 192.4,506.9 194.4,506.9 196.4,506.9 198.4,506.9 200.4,506.9 202.4,506.9 204.4,506.9 206.4,506.8 208.4,506.8 210.4,506.8 212.5,506.8 214.5,506.8 216.5,506.8 218.5,506.7 220.5,506.7 222.5,506.7 224.5,506.7 226.5,506.6 228.5,506.6 230.5,506.6 232.5,506.6 234.5,506.5 236.5,506.5 238.5,506.5 240.6,506.5 242.6,506.4 244.6,506.4 246.6,506.4 248.6,506.3 250.6,506.3 252.6,506.3 254.6,506.2 256.6,506.2 258.6,506.1 260.6,506.1 262.6,506.0 264.6,506.0 266.6,506.0 268.6,505.9 270.6,505.9 272.6,505.8 274.6,505.8 276.6,505.7 278.6,505.6 280.6,505.6 282.6,505.5 284.6,505.5 286.6,505.4 288.6,505.3 290.6,505.3 292.6,505.2 294.6,505.1 296.6,505.1 298.6,505.0 300.6,504.9 302.6,504.8 304.6,504.7 306.6,504.6 308.6,504.5 310.6,504.4 312.6,504.3 314.6,504.2 316.6,504.1 318.6,504.0 320.6,503.8 322.6,503.7 324.6,503.6 326.5,503.4 328.5,503.2 330.5,503.1 332.5,502.9 334.5,502.7 336.5,502.5 338.5,502.3 340.5,502.1 342.5,501.9 344.5,501.7 346.4,501.5 348.4,501.2 350.4,501.0 352.4,500.7 354.4,500.4 356.4,500.1 358.4,499.8 360.4,499.5 362.3,499.2 364.3,498.9 366.3,498.5 368.3,498.2 370.3,497.8 372.3,497.4 374.2,497.1 376.2,496.6 378.2,496.2 380.2,495.8 382.2,495.3 384.2,494.9 386.1,494.4 388.1,493.9 390.1,493.4 392.1,492.9 394.0,492.3 396.0,491.8 397.9,491.2 399.9,490.6 401.8,489.9 403.7,489.3 405.6,488.6 407.5,487.9 409.4,487.1 411.2,486.4 413.0,485.6 414.8,484.7 416.6,483.9 418.4,483.0 420.1,482.0 421.9,481.1 423.5,480.1 425.2,479.0 426.8,477.9 428.4,476.8 430.0,475.7 431.5,474.4 433.0,473.2 434.5,471.9 435.9,470.6 437.3,469.2 438.7,467.8 440.0,466.3 441.3,464.9 442.5,463.3 443.7,461.8 444.8,460.2 445.9,458.6 447.0,456.9 448.0,455.2 449.0,453.5 449.9,451.7 450.8,450.0 451.7,448.2 452.5,446.4 453.3,444.5 454.0,442.7 454.7,440.8 455.4,438.9 456.1,437.0 456.7,435.1 457.3,433.2 457.9,431.2 458.5,429.3 459.0,427.4 459.5,425.4 460.0,423.5 460.5,421.5 460.9,419.6 461.4,417.6 461.8,415.7 462.2,413.7 462.6,411.7 463.0,409.8 463.3,407.8 463.7,405.8 464.0,403.9 464.3,401.9 464.6,399.9 464.9,397.9 465.1,396.0 465.4,394.0 465.6,392.0 465.8,390.0 466.0,388.0 466.2,386.0 466.4,384.0 466.6,382.0 466.7,380.0 466.9,378.0 467.0,376.0 467.2,374.0 467.3,372.0 467.4,370.0 467.5,368.0 467.6,366.0 467.7,364.0 467.8,362.0 467.9,360.0 467.9,358.0 468.0,356.0 468.1,354.0 468.1,352.0 468.2,349.9 468.2,347.9 468.3,345.9 468.3,343.9 468.3,341.9 468.4,339.9 468.4,337.9 468.4,335.8 468.5,333.8 468.5,331.8 468.5,329.8 468.6,327.8 468.6,325.8 468.6,323.7 468.6,321.7 468.7,319.7 468.7,317.7 468.7,315.7 468.7,313.7 468.7,311.7 468.7,309.6 468.8,307.6 468.8,305.6 468.8,303.6 468.7,301.6 468.7,299.6 468.7,297.6 468.7,295.6 468.7,293.6 468.6,291.6 468.6,289.6 468.5,287.6 468.5,285.6 468.4,283.6 468.3,281.6 468.3,279.6 468.2,277.6 468.1,275.6 467.9,273.6 467.8,271.6 467.7,269.6 467.5,267.6 467.4,265.6 467.2,263.7 467.0,261.7 466.8,259.7 466.6,257.7 466.4,255.8 466.2,253.8 465.9,251.8 465.6,249.8 465.4,247.9 465.1,245.9 464.7,244.0 464.4,242.0 464.1,240.0 463.7,238.1 463.3,236.1 462.9,234.2 462.5,232.2 462.1,230.3 461.6,228.4 461.1,226.4 460.6,224.5 460.1,222.6 459.6,220.6 459.0,218.7 458.5,216.8 457.9,214.9 457.3,213.0 456.7,211.0 456.0,209.1 455.4,207.2 454.7,205.3 454.0,203.4 453.3,201.5 452.6,199.6 451.9,197.7 451.2,195.8 450.5,193.9 449.8,192.0 449.0,190.2 448.3,188.3 447.5,186.4 446.8,184.5 446.0,182.6 445.3,180.8 444.5,178.9 443.7,177.0 443.0,175.2 442.2,173.3 441.5,171.4 440.7,169.6 439.9,167.7 439.2,165.8 438.4,164.0 437.6,162.1 436.9,160.3 436.1,158.4 435.4,156.6 434.6,154.7 433.8,152.9 433.0,151.1 432.3,149.2 431.5,147.4 430.7,145.5 430.0,143.7 429.2,141.9 428.4,140.0 427.6,138.2 426.8,136.3 426.0,134.5 425.3,132.7 424.5,130.9 423.7,129.0 422.9,127.2 422.1,125.4 421.3,123.5 420.5,121.7 419.6,119.9 418.8,118.0 418.0,116.2 417.2,114.4 416.4,112.6 415.6,110.7 414.7,108.9 413.9,107.1 413.1,105.2 412.2,103.4 411.4,101.6 410.6,99.8 409.8,97.9 408.9,96.1 408.1,94.3 407.3,92.4 406.4,90.6 405.6,88.8 404.8,87.0 403.9,85.1 403.1,83.3 402.3,81.5 401.4,79.6 400.6,77.8 399.8,76.0 398.9,74.1 398.1,72.3 397.3,70.5 396.5,68.6 395.6,66.8 394.8,65.0 394.0,63.1 393.2,61.3 392.4,59.5 391.6,57.6 390.8,55.8 390.0,53.9 389.2,52.1 388.4,50.3 387.6,48.4 386.8,46.6 386.0,44.7 385.2,42.9 384.5,41.0 383.7,39.2 382.9,37.3 382.2,35.5 381.4,33.6 380.7,31.8 379.9,29.9 379.2,28.1" stroke="#bcbd22" stroke-width="1.40" stroke-dasharray="5.76,2.49"/>
<path d="M76.0,508.0 78.0,508.0 80.0,507.9 82.0,507.9 84.0,507.9 86.0,507.9 88.1,507.9 90.1,507.9 92.1,507.9 94.1,507.9 96.1,507.9 98.1,507.8 100.1,507.8 102.1,507.8 104.1,507.8 106.1,507.8 108.2,507.8 110.2,507.8 112.2,507.8 114.2,507.8 116.2,507.8 118.2,507.8 120.2,507.8 122.2,507.8 124.2,507.8 126.2,507.8 128.3,507.8 130.3,507.8 132.3,507.8 134.3,507.8 136.3,507.8 138.3,507.8 140.3,507.7 142.3,507.7 144.3,507.7 146.3,507.7 148.3,507.7 150.4,507.7 152.4,507.7 154.4,507.7 156.4,507.7 158.4,507.7 160.4,507.7 162.4,507.7 164.4,507.7 166.4,507.7 168.4,507.7 170.4,507.7 172.5,507.7 174.5,507.7 176.5,507.7 178.5,507.7 180.5,507.7 182.5,507.7 184.5,507.7 186.5,507.7 188.5,507.6 190.5,507.6 192.6,507.6 194.6,507.6 196.6,507.6 198.6,507.6 200.6,507.6 202.6,507.6 204.6,507.6 206.6,507.5 208.6,507.5 210.6,507.5 212.6,507.5 214.7,507.5 216.7,507.5 218.7,507.4 220.7,507.4 222.7,507.4 224.7,507.4 226.7,507.4 228.7,507.3 230.7,507.3 232.7,507.3 234.8,507.3 236.8,507.2 238.8,507.2 240.8,507.2 242.8,507.1 244.8,507.1 246.8,507.1 248.8,507.0 250.8,507.0 252.8,507.0 254.8,506.9 256.9,506.9 258.9,506.8 260.9,506.8 262.9,506.8 264.9,506.7 266.9,506.7 268.9,506.6 270.9,506.6 272.9,506.5 274.9,506.5 277.0,506.4 279.0,506.4 281.0,506.3 283.0,506.2 285.0,506.2 287.0,506.1 289.0,506.0 291.0,506.0 293.0,505.9 295.0,505.8 297.1,505.8 299.1,505.7 301.1,505.6 303.1,505.5 305.1,505.4 307.1,505.3 309.1,505.2 311.1,505.1 313.1,505.0 315.1,504.9 317.1,504.8 319.1,504.6 321.1,504.5 323.1,504.4 325.2,504.2 327.2,504.1 329.2,503.9 331.2,503.7 333.2,503.5 335.2,503.4 337.2,503.2 339.1,503.0 341.1,502.8 343.1,502.5 345.1,502.3 347.1,502.1 349.1,501.8 351.1,501.6 353.1,501.3 355.1,501.0 357.1,500.7 359.1,500.4 361.0,500.1 363.0,499.8 365.0,499.4 367.0,499.1 368.9,498.7 370.9,498.4 372.9,498.0 374.9,497.6 376.8,497.2 378.8,496.7 380.8,496.3 382.7,495.8 384.7,495.4 386.7,494.9 388.6,494.4 390.6,493.9 392.5,493.3 394.5,492.8 396.4,492.2 398.3,491.6 400.3,491.0 402.2,490.4 404.1,489.7 406.0,489.1 407.9,488.4 409.8,487.6 411.7,486.9 413.5,486.1 415.3,485.3 417.2,484.4 419.0,483.5 420.8,482.6 422.5,481.7 424.3,480.7 426.0,479.7 427.7,478.6 429.4,477.5 431.1,476.4 432.7,475.2 434.3,474.0 435.9,472.7 437.5,471.4 439.0,470.1 440.5,468.7 441.9,467.3 443.3,465.8 444.7,464.3 446.0,462.8 447.3,461.2 448.5,459.6 449.6,458.0 450.7,456.3 451.7,454.6 452.7,452.8 453.6,451.0 454.4,449.2 455.2,447.4 456.0,445.6 456.7,443.7 457.4,441.8 458.0,439.9 458.6,438.0 459.2,436.0 459.7,434.1 460.2,432.1 460.7,430.2 461.2,428.2 461.6,426.2 462.1,424.3 462.5,422.3 462.9,420.3 463.3,418.4 463.7,416.4 464.1,414.4 464.4,412.4 464.8,410.5 465.1,408.5 465.4,406.5 465.7,404.5 466.0,402.5 466.3,400.6 466.6,398.6 466.8,396.6 467.1,394.6 467.3,392.6 467.6,390.6 467.8,388.6 468.0,386.6 468.2,384.6 468.4,382.6 468.6,380.6 468.7,378.6 468.9,376.6 469.1,374.6 469.2,372.6 469.3,370.6 469.5,368.6 469.6,366.6 469.7,364.6 469.8,362.6 469.9,360.6 470.0,358.6 470.1,356.5 470.2,354.5 470.2,352.5 470.3,350.5 470.4,348.5 470.4,346.5 470.5,344.5 470.5,342.4 470.5,340.4 470.6,338.4 470.6,336.4 470.6,334.4 470.6,332.4 470.7,330.4 470.7,328.3 470.7,326.3 470.7,324.3 470.7,322.3 470.7,320.3 470.7,318.2 470.6,316.2 470.6,314.2 470.6,312.2 470.6,310.2 470.5,308.2 470.5,306.1 470.4,304.1 470.4,302.1 470.3,300.1 470.3,298.1 470.2,296.1 470.1,294.1 470.0,292.0 469.9,290.0 469.8,288.0 469.7,286.0 469.6,284.0 469.5,282.0 469.3,280.0 469.2,278.0 469.0,276.0 468.9,274.0 468.7,272.0 468.5,270.0 468.3,268.0 468.1,266.0 467.9,264.0 467.7,262.0 467.4,260.0 467.2,258.0 466.9,256.1 466.6,254.1 466.4,252.1 466.1,250.1 465.8,248.1 465.4,246.2 465.1,244.2 464.8,242.2 464.4,240.3 464.0,238.3 463.7,236.3 463.3,234.4 462.8,232.4 462.4,230.5 462.0,228.5 461.5,226.6 461.0,224.6 460.6,222.7 460.1,220.8 459.5,218.8 459.0,216.9 458.5,215.0 457.9,213.0 457.3,211.1 456.8,209.2 456.2,207.3 455.5,205.4 454.9,203.5 454.3,201.6 453.6,199.7 453.0,197.8 452.3,195.9 451.6,194.0 451.0,192.1 450.3,190.2 449.5,188.3 448.8,186.4 448.1,184.5 447.4,182.7 446.6,180.8 445.9,178.9 445.1,177.0 444.4,175.2 443.6,173.3 442.8,171.4 442.0,169.6 441.2,167.7 440.5,165.8 439.7,164.0 438.8,162.1 438.0,160.3 437.2,158.4 436.4,156.6 435.6,154.7 434.8,152.9 433.9,151.0 433.1,149.2 432.3,147.3 431.5,145.5 430.6,143.6 429.8,141.8 429.0,139.9 428.1,138.1 427.3,136.3 426.5,134.4 425.6,132.6 424.8,130.7 424.0,128.9 423.1,127.1 422.3,125.2 421.5,123.4 420.7,121.6 419.9,119.7 419.0,117.9 418.2,116.1 417.4,114.2 416.6,112.4 415.8,110.6 415.0,108.7 414.2,106.9 413.4,105.1 412.6,103.3 411.8,101.4 411.0,99.6 410.2,97.8 409.4,95.9 408.6,94.1 407.8,92.3 407.0,90.4 406.2,88.6 405.4,86.8 404.6,84.9 403.8,83.1 403.0,81.3 402.2,79.4 401.4,77.6 400.6,75.8 399.8,73.9 399.0,72.1 398.2,70.3 397.4,68.4 396.6,66.6 395.8,64.8 395.0,62.9 394.2,61.1 393.4,59.2 392.6,57.4 391.8,55.6 391.0,53.7 390.2,51.9 389.3,50.0 388.5,48.2 387.7,46.3 386.9,44.5 386.1,42.6 385.2,40.8 384.4,38.9 383.6,37.1 382.7,35.2 381.9,33.4 381.1,31.5 380.2,29.7 379.4,27.8" stroke="#bcbd22" stroke-width="1.40" stroke-dasharray="9.96,2.49,1.56,2.49"/>
<path d="M76.0,507.6 78.0,507.6 80.0,507.6 82.0,507.6 84.0,507.6 86.0,507.6 88.1,507.5 90.1,507.5 92.1,507.5 94.1,507.5 96.1,507.5 98.1,507.5 100.1,507.5 102.1,507.5 104.1,507.5 106.1,507.5 108.2,507.5 110.2,507.5 112.2,507.4 114.2,507.4 116.2,507.4 118.2,507.4 120.2,507.4 122.2,507.4 124.2,507.4 126.2,507.4 128.3,507.4 130.3,507.4 132.3,507.4 134.3,507.4 136.3,507.4 138.3,507.4 140.3,507.4 142.3,507.4 144.3,507.4 146.3,507.4 148.3,507.4 150.4,507.4 152.4,507.4 154.4,507.4 156.4,507.4 158.4,507.4 160.4,507.4 162.4,507.4 164.4,507.4 166.4,507.4 168.4,507.4 170.4,507.4 172.5,507.3 174.5,507.3 176.5,507.3 178.5,507.3 180.5,507.3 182.5,507.3 184.5,507.3 186.5,507.3 188.5,507.3 190.5,507.3 192.6,507.3 194.6,507.3 196.6,507.3 198.6,507.2 200.6,507.2 202.6,507.2 204.6,507.2 206.6,507.2 208.6,507.2 210.6,507.2 212.6,507.1 214.7,507.1 216.7,507.1 218.7,507.1 220.7,507.1 222.7,507.0 224.7,507.0 226.7,507.0 228.7,507.0 230.7,507.0 232.7,506.9 234.7,506.9 236.8,506.9 238.8,506.8 240.8,506.8 242.8,506.8 244.8,506.8 246.8,506.7 248.8,506.7 250.8,506.6 252.8,506.6 254.8,506.6 256.8,506.5 258.9,506.5 260.9,506.4 262.9,506.4 264.9,506.4 266.9,506.3 268.9,506.3 270.9,506.2 272.9,506.2 274.9,506.1 276.9,506.1 279.0,506.0 281.0,505.9 283.0,505.9 285.0,505.8 287.0,505.8 289.0,505.7 291.0,505.6 293.0,505.6 295.0,505.5 297.0,505.4 299.1,505.3 301.1,505.2 303.1,505.2 305.1,505.1 307.1,505.0 309.1,504.9 311.1,504.8 313.1,504.7 315.1,504.5 317.1,504.4 319.1,504.3 321.1,504.2 323.1,504.0 325.1,503.9 327.1,503.7 329.1,503.5 331.1,503.4 333.1,503.2 335.1,503.0 337.1,502.8 339.1,502.6 341.1,502.4 343.1,502.2 345.1,502.0 347.1,501.7 349.1,501.5 351.1,501.2 353.0,500.9 355.0,500.7 357.0,500.4 359.0,500.1 361.0,499.8 363.0,499.4 364.9,499.1 366.9,498.7 368.9,498.4 370.9,498.0 372.8,497.6 374.8,497.2 376.8,496.8 378.7,496.4 380.7,496.0 382.7,495.5 384.6,495.0 386.6,494.5 388.5,494.1 390.5,493.5 392.4,493.0 394.4,492.5 396.3,491.9 398.2,491.3 400.2,490.7 402.1,490.1 404.0,489.4 405.9,488.7 407.8,488.0 409.7,487.3 411.5,486.6 413.4,485.8 415.2,485.0 417.0,484.1 418.8,483.2 420.6,482.3 422.4,481.4 424.1,480.4 425.8,479.4 427.5,478.3 429.2,477.2 430.9,476.1 432.5,474.9 434.1,473.7 435.7,472.5 437.2,471.2 438.8,469.8 440.2,468.5 441.7,467.0 443.1,465.6 444.4,464.1 445.7,462.6 447.0,461.0 448.2,459.4 449.3,457.8 450.4,456.1 451.4,454.4 452.4,452.7 453.3,450.9 454.1,449.1 454.9,447.3 455.7,445.4 456.4,443.6 457.0,441.7 457.7,439.8 458.3,437.9 458.8,435.9 459.3,434.0 459.9,432.0 460.3,430.1 460.8,428.1 461.3,426.2 461.7,424.2 462.1,422.2 462.5,420.3 462.9,418.3 463.3,416.3 463.7,414.4 464.1,412.4 464.4,410.4 464.7,408.4 465.1,406.5 465.4,404.5 465.7,402.5 466.0,400.5 466.2,398.5 466.5,396.5 466.8,394.5 467.0,392.6 467.2,390.6 467.4,388.6 467.7,386.6 467.9,384.6 468.0,382.6 468.2,380.6 468.4,378.6 468.6,376.6 468.7,374.6 468.9,372.6 469.0,370.6 469.1,368.6 469.2,366.6 469.4,364.6 469.5,362.6 469.6,360.5 469.7,358.5 469.7,356.5 469.8,354.5 469.9,352.5 470.0,350.5 470.0,348.5 470.1,346.5 470.1,344.5 470.2,342.4 470.2,340.4 470.2,338.4 470.2,336.4 470.3,334.4 470.3,332.4 470.3,330.3 470.3,328.3 470.3,326.3 470.3,324.3 470.3,322.3 470.3,320.3 470.3,318.2 470.3,316.2 470.3,314.2 470.2,312.2 470.2,310.2 470.2,308.2 470.1,306.1 470.1,304.1 470.0,302.1 470.0,300.1 469.9,298.1 469.8,296.1 469.8,294.1 469.7,292.1 469.6,290.0 469.5,288.0 469.4,286.0 469.2,284.0 469.1,282.0 469.0,280.0 468.8,278.0 468.7,276.0 468.5,274.0 468.3,272.0 468.1,270.0 468.0,268.0 467.7,266.0 467.5,264.0 467.3,262.1 467.1,260.1 466.8,258.1 466.6,256.1 466.3,254.1 466.0,252.1 465.7,250.2 465.4,248.2 465.1,246.2 464.8,244.2 464.4,242.3 464.1,240.3 463.7,238.4 463.3,236.4 462.9,234.4 462.5,232.5 462.1,230.5 461.6,228.6 461.2,226.7 460.7,224.7 460.2,222.8 459.7,220.8 459.2,218.9 458.7,217.0 458.1,215.1 457.6,213.1 457.0,211.2 456.4,209.3 455.8,207.4 455.2,205.5 454.6,203.6 454.0,201.7 453.3,199.8 452.7,197.9 452.0,196.0 451.3,194.1 450.6,192.2 449.9,190.3 449.2,188.4 448.5,186.5 447.8,184.7 447.0,182.8 446.3,180.9 445.6,179.0 444.8,177.2 444.0,175.3 443.3,173.4 442.5,171.6 441.7,169.7 440.9,167.8 440.1,166.0 439.3,164.1 438.5,162.3 437.7,160.4 436.9,158.5 436.1,156.7 435.3,154.8 434.5,153.0 433.6,151.1 432.8,149.3 432.0,147.5 431.1,145.6 430.3,143.8 429.5,141.9 428.6,140.1 427.8,138.2 427.0,136.4 426.1,134.6 425.3,132.7 424.5,130.9 423.7,129.1 422.8,127.2 422.0,125.4 421.2,123.5 420.4,121.7 419.5,119.9 418.7,118.0 417.9,116.2 417.1,114.4 416.3,112.5 415.5,110.7 414.7,108.9 413.9,107.1 413.1,105.2 412.3,103.4 411.5,101.6 410.6,99.7 409.8,97.9 409.1,96.1 408.3,94.2 407.5,92.4 406.7,90.6 405.9,88.7 405.1,86.9 404.3,85.1 403.5,83.2 402.7,81.4 401.9,79.6 401.1,77.7 400.3,75.9 399.5,74.1 398.7,72.2 397.9,70.4 397.1,68.6 396.3,66.7 395.5,64.9 394.7,63.1 393.9,61.2 393.1,59.4 392.3,57.5 391.5,55.7 390.6,53.9 389.8,52.0 389.0,50.2 388.2,48.3 387.4,46.5 386.6,44.6 385.7,42.8 384.9,40.9 384.1,39.1 383.3,37.2 382.4,35.4 381.6,33.5 380.7,31.7 379.9,29.8 379.0,27.9" stroke="#bcbd22" stroke-width="1.40" stroke-dasharray="1.56,2.57"/>
<path d="M76.1,506.4 78.1,506.4 80.1,506.3 82.1,506.2 84.1,506.2 86.1,506.1 88.1,506.1 90.1,506.0 92.1,506.0 94.1,505.9 96.1,505.9 98.1,505.9 100.1,505.8 102.1,505.8 104.1,505.8 106.1,505.7 108.1,505.7 110.1,505.7 112.1,505.7 114.1,505.7 116.1,505.7 118.2,505.6 120.2,505.6 122.2,505.6 124.2,505.6 126.2,505.6 128.2,505.6 130.2,505.6 132.2,505.6 134.2,505.6 136.2,505.6 138.2,505.6 140.3,505.6 142.3,505.6 144.3,505.6 146.3,505.6 148.3,505.6 150.3,505.6 152.3,505.7 154.3,505.7 156.3,505.7 158.3,505.7 160.4,505.7 162.4,505.7 164.4,505.7 166.4,505.7 168.4,505.7 170.4,505.7 172.4,505.8 174.4,505.8 176.5,505.8 178.5,505.8 180.5,505.8 182.5,505.8 184.5,505.8 186.5,505.8 188.5,505.8 190.5,505.8 192.5,505.8 194.6,505.8 196.6,505.8 198.6,505.8 200.6,505.8 202.6,505.8 204.6,505.8 206.6,505.8 208.6,505.8 210.6,505.8 212.7,505.8 214.7,505.7 216.7,505.7 218.7,505.7 220.7,505.7 222.7,505.7 224.7,505.6 226.7,505.6 228.7,505.6 230.7,505.5 232.8,505.5 234.8,505.5 236.8,505.4 238.8,505.4 240.8,505.3 242.8,505.3 244.8,505.2 246.8,505.1 248.8,505.1 250.8,505.0 252.8,504.9 254.8,504.9 256.8,504.8 258.8,504.7 260.8,504.6 262.8,504.5 264.8,504.4 266.8,504.3 268.9,504.2 270.9,504.1 272.9,504.0 274.9,503.9 276.9,503.7 278.9,503.6 280.9,503.5 282.9,503.3 284.9,503.2 286.9,503.1 288.9,502.9 290.8,502.7 292.8,502.6 294.8,502.4 296.8,502.2 298.8,502.0 300.8,501.8 302.8,501.6 304.8,501.4 306.8,501.2 308.8,500.9 310.8,500.7 312.8,500.4 314.7,500.2 316.7,499.9 318.7,499.6 320.7,499.3 322.7,499.0 324.6,498.6 326.6,498.3 328.6,497.9 330.6,497.6 332.5,497.2 334.5,496.8 336.5,496.4 338.4,495.9 340.4,495.5 342.3,495.0 344.3,494.5 346.2,494.0 348.2,493.5 350.1,493.0 352.1,492.4 354.0,491.9 355.9,491.3 357.9,490.7 359.8,490.1 361.7,489.4 363.6,488.8 365.5,488.1 367.4,487.4 369.3,486.7 371.2,486.0 373.1,485.3 375.0,484.5 376.9,483.7 378.7,483.0 380.6,482.1 382.5,481.3 384.3,480.5 386.1,479.6 388.0,478.7 389.8,477.8 391.6,476.9 393.4,476.0 395.1,475.0 396.9,474.0 398.6,473.0 400.4,471.9 402.1,470.9 403.7,469.8 405.4,468.7 407.0,467.5 408.6,466.3 410.2,465.1 411.7,463.9 413.2,462.6 414.7,461.3 416.2,460.0 417.6,458.7 419.0,457.3 420.3,455.8 421.6,454.4 422.9,452.9 424.2,451.4 425.3,449.8 426.5,448.2 427.6,446.6 428.7,444.9 429.7,443.2 430.7,441.5 431.7,439.8 432.6,438.0 433.5,436.2 434.4,434.4 435.2,432.6 436.0,430.7 436.7,428.9 437.5,427.0 438.1,425.1 438.8,423.2 439.4,421.2 440.0,419.3 440.6,417.3 441.1,415.3 441.6,413.4 442.1,411.4 442.5,409.4 442.9,407.4 443.3,405.4 443.6,403.4 444.0,401.4 444.2,399.4 444.5,397.4 444.8,395.4 445.0,393.4 445.2,391.4 445.3,389.4 445.5,387.4 445.6,385.4 445.7,383.4 445.7,381.4 445.8,379.4 445.8,377.4 445.8,375.4 445.8,373.4 445.8,371.4 445.7,369.4 445.6,367.4 445.5,365.4 445.4,363.4 445.3,361.5 445.1,359.5 445.0,357.5 444.8,355.5 444.6,353.5 444.4,351.5 444.2,349.5 443.9,347.5 443.7,345.5 443.4,343.5 443.1,341.5 442.8,339.5 442.5,337.5 442.2,335.6 441.9,333.6 441.6,331.6 441.2,329.6 440.9,327.6 440.5,325.6 440.2,323.6 439.8,321.7 439.4,319.7 439.0,317.7 438.6,315.7 438.2,313.7 437.8,311.8 437.4,309.8 437.0,307.8 436.6,305.9 436.2,303.9 435.8,301.9 435.4,299.9 435.0,298.0 434.5,296.0 434.1,294.0 433.7,292.1 433.3,290.1 432.8,288.2 432.4,286.2 431.9,284.3 431.5,282.3 431.0,280.4 430.6,278.4 430.1,276.5 429.6,274.5 429.2,272.6 428.7,270.6 428.2,268.7 427.7,266.7 427.2,264.8 426.6,262.9 426.1,261.0 425.6,259.0 425.0,257.1 424.5,255.2 423.9,253.3 423.3,251.3 422.7,249.4 422.1,247.5 421.5,245.6 420.8,243.7 420.2,241.8 419.6,239.9 418.9,238.0 418.2,236.1 417.5,234.2 416.8,232.3 416.1,230.4 415.4,228.6 414.7,226.7 413.9,224.8 413.2,223.0 412.4,221.1 411.6,219.2 410.9,217.4 410.1,215.5 409.3,213.7 408.5,211.9 407.6,210.0 406.8,208.2 405.9,206.4 405.1,204.6 404.2,202.7 403.3,200.9 402.5,199.1 401.6,197.3 400.7,195.5 399.7,193.8 398.8,192.0 397.9,190.2 396.9,188.4 396.0,186.7 395.0,184.9 394.1,183.1 393.1,181.4 392.1,179.6 391.1,177.9 390.1,176.2 389.1,174.4 388.1,172.7 387.1,171.0 386.0,169.2 385.0,167.5 384.0,165.8 382.9,164.1 381.9,162.4 380.8,160.7 379.8,159.0 378.7,157.3 377.6,155.6 376.6,153.9 375.5,152.2 374.4,150.5 373.3,148.8 372.2,147.1 371.1,145.4 370.0,143.7 368.9,142.1 367.8,140.4 366.7,138.7 365.6,137.0 364.5,135.4 363.3,133.7 362.2,132.0 361.1,130.4 360.0,128.7 358.9,127.0 357.7,125.3 356.6,123.7 355.5,122.0 354.4,120.4 353.2,118.7 352.1,117.0 351.0,115.4 349.9,113.7 348.7,112.0 347.6,110.4 346.5,108.7 345.3,107.0 344.2,105.4 343.1,103.7 342.0,102.1 340.8,100.4 339.7,98.7 338.6,97.1 337.4,95.4 336.3,93.7 335.2,92.1 334.1,90.4 332.9,88.8 331.8,87.1 330.7,85.5 329.5,83.8 328.4,82.1 327.3,80.5 326.1,78.8 325.0,77.2 323.8,75.5 322.7,73.9 321.6,72.2 320.4,70.6 319.3,68.9 318.1,67.3 317.0,65.6 315.8,64.0 314.7,62.3 313.5,60.7 312.4,59.1 311.2,57.4 310.0,55.8 308.9,54.1 307.7,52.5 306.5,50.9 305.4,49.2 304.2,47.6 303.0,46.0 301.8,44.3 300.7,42.7 299.5,41.1 298.3,39.5 297.1,37.8 295.9,36.2 294.7,34.6 293.5,33.0 292.3,31.4 291.1,29.8 289.9,28.1" stroke="#17becf" stroke-width="1.40"/>
<path d="M76.0,505.5 78.0,505.5 80.0,505.6 82.0,505.6 84.0,505.6 86.0,505.6 88.1,505.6 90.1,505.6 92.1,505.6 94.1,505.7 96.1,505.7 98.1,505.7 100.1,505.7 102.1,505.7 104.1,505.7 106.1,505.7 108.2,505.6 110.2,505.6 112.2,505.6 114.2,505.6 116.2,505.6 118.2,505.6 120.2,505.6 122.2,505.6 124.2,505.6 126.2,505.6 128.2,505.5 130.3,505.5 132.3,505.5 134.3,505.5 136.3,505.5 138.3,505.5 140.3,505.4 142.3,505.4 144.3,505.4 146.3,505.4 148.3,505.4 150.3,505.4 152.4,505.3 154.4,505.3 156.4,505.3 158.4,505.3 160.4,505.3 162.4,505.3 164.4,505.3 166.4,505.3 168.4,505.2 170.4,505.2 172.4,505.2 174.5,505.2 176.5,505.2 178.5,505.2 180.5,505.2 182.5,505.2 184.5,505.2 186.5,505.2 188.5,505.2 190.5,505.2 192.5,505.2 194.6,505.2 196.6,505.2 198.6,505.2 200.6,505.2 202.6,505.2 204.6,505.2 206.6,505.2 208.6,505.2 210.6,505.2 212.6,505.2 214.6,505.2 216.7,505.2 218.7,505.2 220.7,505.2 222.7,505.2 224.7,505.2 226.7,505.1 228.7,505.1 230.7,505.1 232.7,505.1 234.7,505.1 236.7,505.0 238.8,505.0 240.8,505.0 242.8,504.9 244.8,504.9 246.8,504.8 248.8,504.8 250.8,504.7 252.8,504.7 254.8,504.6 256.8,504.5 258.8,504.5 260.8,504.4 262.8,504.3 264.9,504.2 266.9,504.1 268.9,504.0 270.9,503.9 272.9,503.8 274.9,503.7 276.9,503.6 278.9,503.5 280.9,503.3 282.9,503.2 284.9,503.0 286.9,502.9 288.9,502.7 290.9,502.6 292.9,502.4 294.9,502.2 296.9,502.0 298.9,501.8 300.9,501.6 302.9,501.4 304.9,501.2 306.9,500.9 308.9,500.7 310.9,500.4 312.9,500.1 314.9,499.9 316.8,499.6 318.8,499.3 320.8,498.9 322.8,498.6 324.7,498.3 326.7,497.9 328.7,497.5 330.6,497.1 332.6,496.7 334.5,496.3 336.5,495.9 338.4,495.4 340.4,495.0 342.3,494.5 344.3,494.0 346.2,493.5 348.1,493.0 350.0,492.4 352.0,491.9 353.9,491.3 355.8,490.7 357.7,490.1 359.6,489.5 361.5,488.9 363.4,488.3 365.3,487.6 367.2,486.9 369.1,486.2 371.0,485.5 372.9,484.8 374.7,484.1 376.6,483.3 378.5,482.5 380.3,481.8 382.2,481.0 384.1,480.1 385.9,479.3 387.8,478.5 389.6,477.6 391.4,476.7 393.3,475.8 395.1,474.9 396.8,473.9 398.6,472.9 400.4,471.9 402.1,470.9 403.8,469.9 405.5,468.8 407.1,467.7 408.8,466.5 410.4,465.4 412.0,464.2 413.5,463.0 415.0,461.7 416.5,460.4 417.9,459.1 419.3,457.7 420.7,456.3 422.0,454.9 423.3,453.4 424.5,451.9 425.7,450.3 426.9,448.8 428.0,447.1 429.0,445.5 430.1,443.8 431.1,442.1 432.0,440.3 432.9,438.6 433.8,436.8 434.7,435.0 435.5,433.1 436.2,431.3 437.0,429.4 437.7,427.5 438.4,425.6 439.0,423.6 439.6,421.7 440.2,419.7 440.7,417.8 441.3,415.8 441.8,413.8 442.2,411.8 442.7,409.9 443.1,407.9 443.5,405.9 443.9,403.9 444.2,401.9 444.5,399.9 444.8,397.9 445.1,395.9 445.4,394.0 445.6,392.0 445.9,390.0 446.1,388.0 446.3,386.0 446.5,384.1 446.7,382.1 446.9,380.1 447.1,378.1 447.3,376.1 447.5,374.1 447.6,372.2 447.8,370.2 447.9,368.2 448.1,366.2 448.2,364.2 448.3,362.2 448.4,360.2 448.5,358.2 448.6,356.2 448.6,354.2 448.7,352.2 448.7,350.2 448.6,348.2 448.6,346.2 448.5,344.3 448.4,342.3 448.3,340.3 448.2,338.3 448.1,336.3 447.9,334.3 447.7,332.3 447.5,330.3 447.3,328.3 447.1,326.3 446.8,324.3 446.6,322.4 446.3,320.4 446.0,318.4 445.7,316.4 445.4,314.4 445.1,312.4 444.7,310.4 444.4,308.5 444.0,306.5 443.7,304.5 443.3,302.5 442.9,300.6 442.5,298.6 442.1,296.6 441.7,294.6 441.3,292.7 440.9,290.7 440.5,288.7 440.0,286.8 439.6,284.8 439.1,282.9 438.7,280.9 438.2,279.0 437.7,277.0 437.2,275.0 436.7,273.1 436.2,271.2 435.7,269.2 435.2,267.3 434.7,265.3 434.1,263.4 433.6,261.5 433.0,259.5 432.5,257.6 431.9,255.7 431.3,253.8 430.7,251.9 430.1,249.9 429.5,248.0 428.9,246.1 428.2,244.2 427.6,242.3 426.9,240.4 426.3,238.5 425.6,236.6 424.9,234.8 424.3,232.9 423.6,231.0 422.9,229.1 422.1,227.3 421.4,225.4 420.7,223.5 419.9,221.7 419.2,219.8 418.4,218.0 417.6,216.1 416.8,214.3 416.0,212.4 415.2,210.6 414.4,208.8 413.6,207.0 412.8,205.1 411.9,203.3 411.1,201.5 410.2,199.7 409.3,197.9 408.4,196.1 407.5,194.3 406.6,192.6 405.7,190.8 404.8,189.0 403.8,187.2 402.9,185.5 401.9,183.7 401.0,181.9 400.0,180.2 399.0,178.4 398.0,176.7 397.0,174.9 396.0,173.2 395.0,171.5 394.0,169.7 393.0,168.0 392.0,166.3 390.9,164.5 389.9,162.8 388.9,161.1 387.8,159.4 386.8,157.7 385.7,156.0 384.6,154.3 383.6,152.5 382.5,150.8 381.4,149.1 380.3,147.5 379.2,145.8 378.1,144.1 377.0,142.4 375.9,140.7 374.8,139.0 373.7,137.3 372.6,135.6 371.5,133.9 370.4,132.3 369.3,130.6 368.2,128.9 367.1,127.2 366.0,125.6 364.8,123.9 363.7,122.2 362.6,120.5 361.5,118.9 360.4,117.2 359.3,115.5 358.1,113.9 357.0,112.2 355.9,110.5 354.8,108.9 353.7,107.2 352.5,105.5 351.4,103.9 350.3,102.2 349.2,100.5 348.1,98.9 346.9,97.2 345.8,95.6 344.7,93.9 343.6,92.2 342.4,90.6 341.3,88.9 340.2,87.3 339.1,85.6 337.9,84.0 336.8,82.3 335.7,80.6 334.5,79.0 333.4,77.3 332.3,75.7 331.1,74.0 330.0,72.4 328.8,70.8 327.7,69.1 326.6,67.5 325.4,65.8 324.2,64.2 323.1,62.5 321.9,60.9 320.8,59.3 319.6,57.6 318.5,56.0 317.3,54.4 316.1,52.7 314.9,51.1 313.8,49.5 312.6,47.8 311.4,46.2 310.2,44.6 309.0,43.0 307.8,41.3 306.6,39.7 305.4,38.1 304.2,36.5 303.0,34.8 301.8,33.2 300.6,31.6 299.4,30.0 298.1,28.4" stroke="#17becf" stroke-width="1.40" stroke-dasharray="5.76,2.49"/>
<path d="M75.9,506.1 78.0,506.2 80.0,506.2 82.0,506.2 84.0,506.3 86.0,506.3 88.1,506.3 90.1,506.4 92.1,506.4 94.1,506.4 96.1,506.4 98.1,506.4 100.1,506.4 102.2,506.4 104.2,506.4 106.2,506.4 108.2,506.4 110.2,506.4 112.2,506.4 114.2,506.4 116.2,506.4 118.2,506.4 120.2,506.4 122.2,506.3 124.3,506.3 126.3,506.3 128.3,506.3 130.3,506.3 132.3,506.2 134.3,506.2 136.3,506.2 138.3,506.2 140.3,506.1 142.3,506.1 144.3,506.1 146.3,506.1 148.3,506.0 150.3,506.0 152.3,506.0 154.3,506.0 156.3,505.9 158.3,505.9 160.3,505.9 162.3,505.9 164.4,505.9 166.4,505.8 168.4,505.8 170.4,505.8 172.4,505.8 174.4,505.8 176.4,505.8 178.4,505.8 180.4,505.8 182.4,505.8 184.4,505.8 186.4,505.8 188.5,505.8 190.5,505.8 192.5,505.8 194.5,505.8 196.5,505.8 198.5,505.8 200.5,505.8 202.5,505.9 204.6,505.9 206.6,505.9 208.6,505.9 210.6,505.9 212.6,505.9 214.6,505.9 216.6,505.9 218.7,505.9 220.7,505.9 222.7,505.9 224.7,505.9 226.7,505.9 228.7,505.9 230.8,505.9 232.8,505.9 234.8,505.9 236.8,505.9 238.8,505.8 240.8,505.8 242.8,505.8 244.8,505.7 246.9,505.7 248.9,505.7 250.9,505.6 252.9,505.6 254.9,505.5 256.9,505.4 258.9,505.4 260.9,505.3 262.9,505.2 264.9,505.1 267.0,505.0 269.0,504.9 271.0,504.8 273.0,504.7 275.0,504.6 277.0,504.5 279.0,504.3 281.0,504.2 283.0,504.0 285.0,503.9 287.0,503.7 289.0,503.5 291.0,503.3 293.0,503.1 295.0,502.9 297.0,502.7 299.0,502.5 300.9,502.3 302.9,502.0 304.9,501.8 306.9,501.5 308.9,501.2 310.9,501.0 312.9,500.7 314.8,500.4 316.8,500.0 318.8,499.7 320.8,499.4 322.7,499.0 324.7,498.7 326.7,498.3 328.6,497.9 330.6,497.5 332.6,497.1 334.5,496.7 336.5,496.3 338.4,495.8 340.4,495.4 342.3,494.9 344.3,494.4 346.2,493.9 348.1,493.4 350.1,492.9 352.0,492.3 353.9,491.8 355.9,491.2 357.8,490.6 359.7,490.0 361.6,489.4 363.5,488.8 365.4,488.2 367.4,487.5 369.3,486.8 371.2,486.1 373.1,485.4 374.9,484.7 376.8,484.0 378.7,483.2 380.6,482.5 382.5,481.7 384.3,480.9 386.2,480.1 388.1,479.2 389.9,478.4 391.8,477.5 393.6,476.6 395.4,475.7 397.2,474.8 399.0,473.8 400.8,472.8 402.6,471.8 404.3,470.8 406.1,469.8 407.8,468.7 409.5,467.6 411.2,466.5 412.8,465.3 414.5,464.2 416.1,463.0 417.6,461.7 419.2,460.5 420.7,459.2 422.2,457.9 423.7,456.5 425.1,455.2 426.5,453.8 427.9,452.3 429.3,450.9 430.6,449.4 431.8,447.8 433.1,446.3 434.3,444.7 435.4,443.1 436.5,441.4 437.6,439.8 438.6,438.1 439.5,436.3 440.4,434.6 441.3,432.8 442.1,431.0 442.9,429.1 443.6,427.3 444.3,425.4 445.0,423.5 445.6,421.6 446.2,419.7 446.7,417.7 447.3,415.8 447.8,413.8 448.2,411.8 448.7,409.8 449.1,407.9 449.5,405.9 449.9,403.9 450.3,401.9 450.6,399.9 451.0,397.9 451.3,395.9 451.6,393.9 451.8,391.9 452.1,389.9 452.3,387.8 452.5,385.8 452.7,383.8 452.9,381.8 453.0,379.8 453.1,377.8 453.2,375.8 453.3,373.8 453.4,371.7 453.4,369.7 453.4,367.7 453.4,365.7 453.4,363.7 453.3,361.7 453.2,359.7 453.1,357.7 453.0,355.7 452.8,353.7 452.6,351.7 452.4,349.7 452.2,347.7 451.9,345.7 451.7,343.8 451.4,341.8 451.1,339.8 450.8,337.8 450.5,335.8 450.1,333.9 449.8,331.9 449.4,329.9 449.0,328.0 448.6,326.0 448.2,324.0 447.8,322.0 447.4,320.1 447.0,318.1 446.6,316.1 446.2,314.2 445.8,312.2 445.4,310.2 445.0,308.3 444.6,306.3 444.1,304.3 443.7,302.4 443.3,300.4 442.9,298.4 442.5,296.4 442.1,294.5 441.7,292.5 441.3,290.5 440.9,288.6 440.5,286.6 440.1,284.6 439.6,282.7 439.2,280.7 438.8,278.7 438.3,276.8 437.9,274.8 437.4,272.9 437.0,270.9 436.5,269.0 436.0,267.0 435.5,265.1 435.0,263.1 434.5,261.2 434.0,259.2 433.4,257.3 432.9,255.4 432.3,253.4 431.7,251.5 431.1,249.6 430.5,247.7 429.9,245.8 429.2,243.9 428.6,242.0 427.9,240.1 427.3,238.2 426.6,236.3 425.9,234.4 425.2,232.5 424.5,230.6 423.8,228.8 423.0,226.9 422.3,225.0 421.5,223.2 420.7,221.3 420.0,219.5 419.2,217.6 418.4,215.8 417.6,213.9 416.7,212.1 415.9,210.3 415.1,208.4 414.2,206.6 413.3,204.8 412.5,203.0 411.6,201.2 410.7,199.4 409.8,197.6 408.9,195.8 408.0,194.0 407.1,192.2 406.2,190.4 405.2,188.7 404.3,186.9 403.3,185.1 402.4,183.4 401.4,181.6 400.4,179.8 399.5,178.1 398.5,176.3 397.5,174.6 396.5,172.9 395.5,171.1 394.5,169.4 393.5,167.6 392.4,165.9 391.4,164.2 390.4,162.5 389.3,160.7 388.3,159.0 387.2,157.3 386.2,155.6 385.1,153.9 384.1,152.2 383.0,150.5 381.9,148.8 380.9,147.1 379.8,145.4 378.7,143.7 377.6,142.0 376.5,140.3 375.4,138.6 374.3,136.9 373.2,135.2 372.1,133.5 371.0,131.9 369.9,130.2 368.8,128.5 367.7,126.8 366.6,125.1 365.5,123.5 364.4,121.8 363.3,120.1 362.2,118.4 361.0,116.8 359.9,115.1 358.8,113.4 357.7,111.8 356.6,110.1 355.4,108.4 354.3,106.8 353.2,105.1 352.1,103.4 351.0,101.8 349.8,100.1 348.7,98.5 347.6,96.8 346.5,95.1 345.3,93.5 344.2,91.8 343.1,90.2 341.9,88.5 340.8,86.9 339.7,85.2 338.5,83.5 337.4,81.9 336.2,80.2 335.1,78.6 334.0,76.9 332.8,75.3 331.7,73.6 330.5,72.0 329.4,70.4 328.2,68.7 327.1,67.1 325.9,65.4 324.8,63.8 323.6,62.1 322.4,60.5 321.3,58.9 320.1,57.2 319.0,55.6 317.8,54.0 316.6,52.3 315.4,50.7 314.3,49.1 313.1,47.4 311.9,45.8 310.7,44.2 309.6,42.5 308.4,40.9 307.2,39.3 306.0,37.7 304.8,36.0 303.6,34.4 302.4,32.8 301.2,31.2 300.0,29.6 298.8,27.9" stroke="#17becf" stroke-width="1.40" stroke-dasharray="9.96,2.49,1.56,2.49"/>
<path d="M75.9,505.8 78.0,505.8 80.0,505.9 82.0,505.9 84.0,505.9 86.0,506.0 88.1,506.0 90.1,506.0 92.1,506.0 94.1,506.0 96.1,506.1 98.1,506.1 100.1,506.1 102.2,506.1 104.2,506.1 106.2,506.1 108.2,506.1 110.2,506.1 112.2,506.1 114.2,506.1 116.2,506.0 118.2,506.0 120.2,506.0 122.2,506.0 124.2,506.0 126.3,506.0 128.3,505.9 130.3,505.9 132.3,505.9 134.3,505.9 136.3,505.8 138.3,505.8 140.3,505.8 142.3,505.8 144.3,505.7 146.3,505.7 148.3,505.7 150.3,505.7 152.3,505.6 154.3,505.6 156.3,505.6 158.3,505.6 160.3,505.5 162.3,505.5 164.3,505.5 166.4,505.5 168.4,505.5 170.4,505.5 172.4,505.5 174.4,505.4 176.4,505.4 178.4,505.4 180.4,505.4 182.4,505.4 184.4,505.4 186.4,505.4 188.5,505.4 190.5,505.5 192.5,505.5 194.5,505.5 196.5,505.5 198.5,505.5 200.5,505.5 202.5,505.5 204.6,505.5 206.6,505.5 208.6,505.5 210.6,505.5 212.6,505.6 214.6,505.6 216.6,505.6 218.7,505.6 220.7,505.6 222.7,505.6 224.7,505.6 226.7,505.6 228.7,505.6 230.7,505.5 232.8,505.5 234.8,505.5 236.8,505.5 238.8,505.5 240.8,505.5 242.8,505.4 244.8,505.4 246.9,505.3 248.9,505.3 250.9,505.3 252.9,505.2 254.9,505.1 256.9,505.1 258.9,505.0 260.9,504.9 262.9,504.9 264.9,504.8 266.9,504.7 268.9,504.6 270.9,504.5 273.0,504.4 275.0,504.2 277.0,504.1 279.0,504.0 281.0,503.8 283.0,503.7 285.0,503.5 287.0,503.3 288.9,503.2 290.9,503.0 292.9,502.8 294.9,502.6 296.9,502.4 298.9,502.1 300.9,501.9 302.9,501.7 304.9,501.4 306.9,501.2 308.8,500.9 310.8,500.6 312.8,500.3 314.8,500.0 316.8,499.7 318.7,499.4 320.7,499.0 322.7,498.7 324.6,498.3 326.6,498.0 328.6,497.6 330.5,497.2 332.5,496.8 334.4,496.4 336.4,495.9 338.3,495.5 340.3,495.0 342.2,494.5 344.2,494.1 346.1,493.6 348.0,493.1 350.0,492.5 351.9,492.0 353.8,491.4 355.8,490.9 357.7,490.3 359.6,489.7 361.5,489.1 363.4,488.5 365.3,487.8 367.2,487.2 369.1,486.5 371.0,485.8 372.9,485.1 374.8,484.4 376.7,483.7 378.6,482.9 380.5,482.2 382.3,481.4 384.2,480.6 386.1,479.8 387.9,478.9 389.8,478.1 391.6,477.2 393.5,476.3 395.3,475.4 397.1,474.5 398.9,473.5 400.7,472.5 402.4,471.5 404.2,470.5 405.9,469.5 407.6,468.4 409.3,467.3 411.0,466.2 412.6,465.1 414.2,463.9 415.8,462.7 417.4,461.5 419.0,460.2 420.5,458.9 422.0,457.6 423.5,456.3 424.9,454.9 426.3,453.5 427.7,452.1 429.0,450.6 430.3,449.1 431.6,447.6 432.8,446.1 434.0,444.5 435.1,442.9 436.2,441.3 437.3,439.6 438.3,437.9 439.2,436.2 440.1,434.4 441.0,432.6 441.8,430.8 442.6,429.0 443.3,427.2 444.0,425.3 444.7,423.4 445.3,421.5 445.9,419.6 446.4,417.6 446.9,415.7 447.4,413.7 447.9,411.7 448.3,409.8 448.8,407.8 449.2,405.8 449.6,403.8 449.9,401.8 450.3,399.8 450.6,397.8 450.9,395.8 451.2,393.8 451.5,391.8 451.7,389.8 452.0,387.8 452.2,385.8 452.4,383.8 452.5,381.8 452.7,379.8 452.8,377.8 452.9,375.8 453.0,373.7 453.0,371.7 453.1,369.7 453.1,367.7 453.1,365.7 453.0,363.7 453.0,361.7 452.9,359.7 452.8,357.7 452.6,355.7 452.5,353.7 452.3,351.7 452.1,349.8 451.8,347.8 451.6,345.8 451.3,343.8 451.0,341.8 450.8,339.9 450.4,337.9 450.1,335.9 449.8,333.9 449.4,332.0 449.0,330.0 448.7,328.0 448.3,326.0 447.9,324.1 447.5,322.1 447.1,320.1 446.7,318.2 446.3,316.2 445.9,314.2 445.5,312.3 445.0,310.3 444.6,308.3 444.2,306.4 443.8,304.4 443.4,302.4 443.0,300.5 442.6,298.5 442.2,296.5 441.8,294.5 441.4,292.6 441.0,290.6 440.5,288.6 440.1,286.7 439.7,284.7 439.3,282.7 438.9,280.8 438.4,278.8 438.0,276.9 437.5,274.9 437.1,272.9 436.6,271.0 436.1,269.0 435.7,267.1 435.2,265.1 434.7,263.2 434.1,261.3 433.6,259.3 433.1,257.4 432.5,255.5 432.0,253.5 431.4,251.6 430.8,249.7 430.2,247.8 429.5,245.9 428.9,244.0 428.3,242.1 427.6,240.2 426.9,238.3 426.3,236.4 425.6,234.5 424.9,232.6 424.2,230.8 423.4,228.9 422.7,227.0 421.9,225.2 421.2,223.3 420.4,221.5 419.6,219.6 418.8,217.8 418.0,215.9 417.2,214.1 416.4,212.2 415.6,210.4 414.7,208.6 413.9,206.8 413.0,205.0 412.2,203.2 411.3,201.3 410.4,199.5 409.5,197.8 408.6,196.0 407.7,194.2 406.8,192.4 405.8,190.6 404.9,188.8 404.0,187.1 403.0,185.3 402.1,183.5 401.1,181.8 400.1,180.0 399.2,178.3 398.2,176.5 397.2,174.8 396.2,173.0 395.2,171.3 394.2,169.6 393.1,167.8 392.1,166.1 391.1,164.4 390.1,162.6 389.0,160.9 388.0,159.2 386.9,157.5 385.9,155.8 384.8,154.1 383.8,152.4 382.7,150.7 381.6,149.0 380.6,147.3 379.5,145.6 378.4,143.9 377.3,142.2 376.2,140.5 375.1,138.8 374.0,137.1 373.0,135.4 371.9,133.7 370.7,132.0 369.6,130.4 368.5,128.7 367.4,127.0 366.3,125.3 365.2,123.7 364.1,122.0 363.0,120.3 361.9,118.6 360.8,117.0 359.6,115.3 358.5,113.6 357.4,112.0 356.3,110.3 355.2,108.6 354.0,107.0 352.9,105.3 351.8,103.6 350.7,102.0 349.5,100.3 348.4,98.6 347.3,97.0 346.2,95.3 345.0,93.7 343.9,92.0 342.8,90.4 341.6,88.7 340.5,87.0 339.4,85.4 338.2,83.7 337.1,82.1 336.0,80.4 334.8,78.8 333.7,77.1 332.5,75.5 331.4,73.8 330.2,72.2 329.1,70.6 327.9,68.9 326.8,67.3 325.6,65.6 324.5,64.0 323.3,62.3 322.2,60.7 321.0,59.1 319.8,57.4 318.7,55.8 317.5,54.2 316.3,52.5 315.2,50.9 314.0,49.3 312.8,47.6 311.6,46.0 310.5,44.4 309.3,42.7 308.1,41.1 306.9,39.5 305.7,37.9 304.5,36.3 303.3,34.6 302.1,33.0 300.9,31.4 299.7,29.8 298.5,28.2" stroke="#17becf" stroke-width="1.40" stroke-dasharray="1.56,2.57"/>
</g>
<rect x="80.6" y="304.1" width="138.7" height="198.2" rx="2.5" fill="#fff" fill-opacity="0.8" stroke="#cccccc" stroke-opacity="0.8" stroke-width="1"/>
<text x="83.3" y="315.80" font-size="10.7">Solid: t=0</text>
<text x="83.3" y="328.22" font-size="10.7">Dashed: 1 month</text>
<text x="83.3" y="340.64" font-size="10.7">Dashes-and-Dots: 1 year</text>
<text x="83.3" y="353.06" font-size="10.7">Dots: 10 years</text>
<line x1="118.8" y1="364.30" x2="138.5" y2="364.30" stroke="#1f77b4" stroke-width="2.1"/>
<text transform="translate(144.6,367.50) scale(0.885,1)" font-size="11.8" style="font-family:'Liberation Serif',serif;stroke-width:0.3px">CH4</text>
<line x1="118.8" y1="378.66" x2="138.5" y2="378.66" stroke="#ff7f0e" stroke-width="2.1"/>
<text transform="translate(144.6,381.86) scale(0.885,1)" font-size="11.8" style="font-family:'Liberation Serif',serif;stroke-width:0.3px">C2H2</text>
<line x1="118.8" y1="393.02" x2="138.5" y2="393.02" stroke="#2ca02c" stroke-width="2.1"/>
<text transform="translate(144.6,396.22) scale(0.885,1)" font-size="11.8" style="font-family:'Liberation Serif',serif;stroke-width:0.3px">C2H4</text>
<line x1="118.8" y1="407.38" x2="138.5" y2="407.38" stroke="#d62728" stroke-width="2.1"/>
<text transform="translate(144.6,410.58) scale(0.885,1)" font-size="11.8" style="font-family:'Liberation Serif',serif;stroke-width:0.3px">C2H6</text>
<line x1="118.8" y1="421.74" x2="138.5" y2="421.74" stroke="#9467bd" stroke-width="2.1"/>
<text transform="translate(144.6,424.94) scale(0.885,1)" font-size="11.8" style="font-family:'Liberation Serif',serif;stroke-width:0.3px">HCN</text>
<line x1="118.8" y1="436.10" x2="138.5" y2="436.10" stroke="#8c564b" stroke-width="2.1"/>
<text transform="translate(144.6,439.30) scale(0.885,1)" font-size="11.8" style="font-family:'Liberation Serif',serif;stroke-width:0.3px">C4H2</text>
<line x1="118.8" y1="450.46" x2="138.5" y2="450.46" stroke="#e377c2" stroke-width="2.1"/>
<text transform="translate(144.6,453.66) scale(0.885,1)" font-size="11.8" style="font-family:'Liberation Serif',serif;stroke-width:0.3px">HC3N</text>
<line x1="118.8" y1="464.82" x2="138.5" y2="464.82" stroke="#7f7f7f" stroke-width="2.1"/>
<text transform="translate(144.6,468.02) scale(0.885,1)" font-size="11.8" style="font-family:'Liberation Serif',serif;stroke-width:0.3px">C8H2</text>
<line x1="118.8" y1="479.18" x2="138.5" y2="479.18" stroke="#bcbd22" stroke-width="2.1"/>
<text transform="translate(144.6,482.38) scale(0.885,1)" font-size="11.8" style="font-family:'Liberation Serif',serif;stroke-width:0.3px">CH3CN</text>
<line x1="118.8" y1="493.54" x2="138.5" y2="493.54" stroke="#17becf" stroke-width="2.1"/>
<text transform="translate(144.6,496.74) scale(0.885,1)" font-size="11.8" style="font-family:'Liberation Serif',serif;stroke-width:0.3px">C2N2</text>
<rect x="76.0" y="36.0" width="713.5" height="471.5" fill="none" stroke="#000" stroke-width="2"/>
<line x1="72.2" y1="507.50" x2="76.0" y2="507.50" stroke="#000" stroke-width="1"/>
<text x="67.4" y="513.90" font-size="15.4" text-anchor="end">0</text>
<line x1="72.2" y1="434.96" x2="76.0" y2="434.96" stroke="#000" stroke-width="1"/>
<text x="67.4" y="441.36" font-size="15.4" text-anchor="end">200</text>
<line x1="72.2" y1="362.42" x2="76.0" y2="362.42" stroke="#000" stroke-width="1"/>
<text x="67.4" y="368.82" font-size="15.4" text-anchor="end">400</text>
<line x1="72.2" y1="289.88" x2="76.0" y2="289.88" stroke="#000" stroke-width="1"/>
<text x="67.4" y="296.28" font-size="15.4" text-anchor="end">600</text>
<line x1="72.2" y1="217.35" x2="76.0" y2="217.35" stroke="#000" stroke-width="1"/>
<text x="67.4" y="223.75" font-size="15.4" text-anchor="end">800</text>
<line x1="72.2" y1="144.81" x2="76.0" y2="144.81" stroke="#000" stroke-width="1"/>
<text x="67.4" y="151.21" font-size="15.4" text-anchor="end">1000</text>
<line x1="72.2" y1="72.27" x2="76.0" y2="72.27" stroke="#000" stroke-width="1"/>
<text x="67.4" y="78.67" font-size="15.4" text-anchor="end">1200</text>
<line x1="76.00" y1="507.5" x2="76.00" y2="512.0" stroke="#000" stroke-width="1"/>
<text x="76.00" y="528.3" font-size="15.4" text-anchor="middle">10<tspan font-size="10.8" dy="-6.0">−9</tspan></text>
<line x1="101.17" y1="507.5" x2="101.17" y2="510.1" stroke="#000" stroke-width="0.8"/>
<line x1="115.89" y1="507.5" x2="115.89" y2="510.1" stroke="#000" stroke-width="0.8"/>
<line x1="126.33" y1="507.5" x2="126.33" y2="510.1" stroke="#000" stroke-width="0.8"/>
<line x1="134.43" y1="507.5" x2="134.43" y2="510.1" stroke="#000" stroke-width="0.8"/>
<line x1="141.05" y1="507.5" x2="141.05" y2="510.1" stroke="#000" stroke-width="0.8"/>
<line x1="146.65" y1="507.5" x2="146.65" y2="510.1" stroke="#000" stroke-width="0.8"/>
<line x1="151.50" y1="507.5" x2="151.50" y2="510.1" stroke="#000" stroke-width="0.8"/>
<line x1="155.77" y1="507.5" x2="155.77" y2="510.1" stroke="#000" stroke-width="0.8"/>
<line x1="159.60" y1="507.5" x2="159.60" y2="512.0" stroke="#000" stroke-width="1"/>
<text x="159.60" y="528.3" font-size="15.4" text-anchor="middle">10<tspan font-size="10.8" dy="-6.0">−8</tspan></text>
<line x1="184.77" y1="507.5" x2="184.77" y2="510.1" stroke="#000" stroke-width="0.8"/>
<line x1="199.49" y1="507.5" x2="199.49" y2="510.1" stroke="#000" stroke-width="0.8"/>
<line x1="209.93" y1="507.5" x2="209.93" y2="510.1" stroke="#000" stroke-width="0.8"/>
<line x1="218.03" y1="507.5" x2="218.03" y2="510.1" stroke="#000" stroke-width="0.8"/>
<line x1="224.65" y1="507.5" x2="224.65" y2="510.1" stroke="#000" stroke-width="0.8"/>
<line x1="230.25" y1="507.5" x2="230.25" y2="510.1" stroke="#000" stroke-width="0.8"/>
<line x1="235.10" y1="507.5" x2="235.10" y2="510.1" stroke="#000" stroke-width="0.8"/>
<line x1="239.37" y1="507.5" x2="239.37" y2="510.1" stroke="#000" stroke-width="0.8"/>
<line x1="243.20" y1="507.5" x2="243.20" y2="512.0" stroke="#000" stroke-width="1"/>
<text x="243.20" y="528.3" font-size="15.4" text-anchor="middle">10<tspan font-size="10.8" dy="-6.0">−7</tspan></text>
<line x1="268.37" y1="507.5" x2="268.37" y2="510.1" stroke="#000" stroke-width="0.8"/>
<line x1="283.09" y1="507.5" x2="283.09" y2="510.1" stroke="#000" stroke-width="0.8"/>
<line x1="293.53" y1="507.5" x2="293.53" y2="510.1" stroke="#000" stroke-width="0.8"/>
<line x1="301.63" y1="507.5" x2="301.63" y2="510.1" stroke="#000" stroke-width="0.8"/>
<line x1="308.25" y1="507.5" x2="308.25" y2="510.1" stroke="#000" stroke-width="0.8"/>
<line x1="313.85" y1="507.5" x2="313.85" y2="510.1" stroke="#000" stroke-width="0.8"/>
<line x1="318.70" y1="507.5" x2="318.70" y2="510.1" stroke="#000" stroke-width="0.8"/>
<line x1="322.97" y1="507.5" x2="322.97" y2="510.1" stroke="#000" stroke-width="0.8"/>
<line x1="326.80" y1="507.5" x2="326.80" y2="512.0" stroke="#000" stroke-width="1"/>
<text x="326.80" y="528.3" font-size="15.4" text-anchor="middle">10<tspan font-size="10.8" dy="-6.0">−6</tspan></text>
<line x1="351.97" y1="507.5" x2="351.97" y2="510.1" stroke="#000" stroke-width="0.8"/>
<line x1="366.69" y1="507.5" x2="366.69" y2="510.1" stroke="#000" stroke-width="0.8"/>
<line x1="377.13" y1="507.5" x2="377.13" y2="510.1" stroke="#000" stroke-width="0.8"/>
<line x1="385.23" y1="507.5" x2="385.23" y2="510.1" stroke="#000" stroke-width="0.8"/>
<line x1="391.85" y1="507.5" x2="391.85" y2="510.1" stroke="#000" stroke-width="0.8"/>
<line x1="397.45" y1="507.5" x2="397.45" y2="510.1" stroke="#000" stroke-width="0.8"/>
<line x1="402.30" y1="507.5" x2="402.30" y2="510.1" stroke="#000" stroke-width="0.8"/>
<line x1="406.57" y1="507.5" x2="406.57" y2="510.1" stroke="#000" stroke-width="0.8"/>
<line x1="410.40" y1="507.5" x2="410.40" y2="512.0" stroke="#000" stroke-width="1"/>
<text x="410.40" y="528.3" font-size="15.4" text-anchor="middle">10<tspan font-size="10.8" dy="-6.0">−5</tspan></text>
<line x1="435.57" y1="507.5" x2="435.57" y2="510.1" stroke="#000" stroke-width="0.8"/>
<line x1="450.29" y1="507.5" x2="450.29" y2="510.1" stroke="#000" stroke-width="0.8"/>
<line x1="460.73" y1="507.5" x2="460.73" y2="510.1" stroke="#000" stroke-width="0.8"/>
<line x1="468.83" y1="507.5" x2="468.83" y2="510.1" stroke="#000" stroke-width="0.8"/>
<line x1="475.45" y1="507.5" x2="475.45" y2="510.1" stroke="#000" stroke-width="0.8"/>
<line x1="481.05" y1="507.5" x2="481.05" y2="510.1" stroke="#000" stroke-width="0.8"/>
<line x1="485.90" y1="507.5" x2="485.90" y2="510.1" stroke="#000" stroke-width="0.8"/>
<line x1="490.17" y1="507.5" x2="490.17" y2="510.1" stroke="#000" stroke-width="0.8"/>
<line x1="494.00" y1="507.5" x2="494.00" y2="512.0" stroke="#000" stroke-width="1"/>
<text x="494.00" y="528.3" font-size="15.4" text-anchor="middle">10<tspan font-size="10.8" dy="-6.0">−4</tspan></text>
<line x1="519.17" y1="507.5" x2="519.17" y2="510.1" stroke="#000" stroke-width="0.8"/>
<line x1="533.89" y1="507.5" x2="533.89" y2="510.1" stroke="#000" stroke-width="0.8"/>
<line x1="544.33" y1="507.5" x2="544.33" y2="510.1" stroke="#000" stroke-width="0.8"/>
<line x1="552.43" y1="507.5" x2="552.43" y2="510.1" stroke="#000" stroke-width="0.8"/>
<line x1="559.05" y1="507.5" x2="559.05" y2="510.1" stroke="#000" stroke-width="0.8"/>
<line x1="564.65" y1="507.5" x2="564.65" y2="510.1" stroke="#000" stroke-width="0.8"/>
<line x1="569.50" y1="507.5" x2="569.50" y2="510.1" stroke="#000" stroke-width="0.8"/>
<line x1="573.77" y1="507.5" x2="573.77" y2="510.1" stroke="#000" stroke-width="0.8"/>
<line x1="577.60" y1="507.5" x2="577.60" y2="512.0" stroke="#000" stroke-width="1"/>
<text x="577.60" y="528.3" font-size="15.4" text-anchor="middle">10<tspan font-size="10.8" dy="-6.0">−3</tspan></text>
<line x1="602.77" y1="507.5" x2="602.77" y2="510.1" stroke="#000" stroke-width="0.8"/>
<line x1="617.49" y1="507.5" x2="617.49" y2="510.1" stroke="#000" stroke-width="0.8"/>
<line x1="627.93" y1="507.5" x2="627.93" y2="510.1" stroke="#000" stroke-width="0.8"/>
<line x1="636.03" y1="507.5" x2="636.03" y2="510.1" stroke="#000" stroke-width="0.8"/>
<line x1="642.65" y1="507.5" x2="642.65" y2="510.1" stroke="#000" stroke-width="0.8"/>
<line x1="648.25" y1="507.5" x2="648.25" y2="510.1" stroke="#000" stroke-width="0.8"/>
<line x1="653.10" y1="507.5" x2="653.10" y2="510.1" stroke="#000" stroke-width="0.8"/>
<line x1="657.37" y1="507.5" x2="657.37" y2="510.1" stroke="#000" stroke-width="0.8"/>
<line x1="661.20" y1="507.5" x2="661.20" y2="512.0" stroke="#000" stroke-width="1"/>
<text x="661.20" y="528.3" font-size="15.4" text-anchor="middle">10<tspan font-size="10.8" dy="-6.0">−2</tspan></text>
<line x1="686.37" y1="507.5" x2="686.37" y2="510.1" stroke="#000" stroke-width="0.8"/>
<line x1="701.09" y1="507.5" x2="701.09" y2="510.1" stroke="#000" stroke-width="0.8"/>
<line x1="711.53" y1="507.5" x2="711.53" y2="510.1" stroke="#000" stroke-width="0.8"/>
<line x1="719.63" y1="507.5" x2="719.63" y2="510.1" stroke="#000" stroke-width="0.8"/>
<line x1="726.25" y1="507.5" x2="726.25" y2="510.1" stroke="#000" stroke-width="0.8"/>
<line x1="731.85" y1="507.5" x2="731.85" y2="510.1" stroke="#000" stroke-width="0.8"/>
<line x1="736.70" y1="507.5" x2="736.70" y2="510.1" stroke="#000" stroke-width="0.8"/>
<line x1="740.97" y1="507.5" x2="740.97" y2="510.1" stroke="#000" stroke-width="0.8"/>
<line x1="744.80" y1="507.5" x2="744.80" y2="512.0" stroke="#000" stroke-width="1"/>
<text x="744.80" y="528.3" font-size="15.4" text-anchor="middle">10<tspan font-size="10.8" dy="-6.0">−1</tspan></text>
<line x1="769.97" y1="507.5" x2="769.97" y2="510.1" stroke="#000" stroke-width="0.8"/>
<line x1="784.69" y1="507.5" x2="784.69" y2="510.1" stroke="#000" stroke-width="0.8"/>
<text transform="translate(432.7,547.0) scale(1,0.93)" font-size="12.7" text-anchor="middle">Mixing Ratio</text>
<text transform="translate(19.5,272.3) rotate(-90) scale(0.973,1)" style="stroke-width:0.35px" font-size="12.85" text-anchor="middle">Altitude (km)</text>
<text x="432.0" y="29.2" font-size="14.95" text-anchor="middle">Neutrals and Cations at Solar Maximum</text>
</svg></body></html>
